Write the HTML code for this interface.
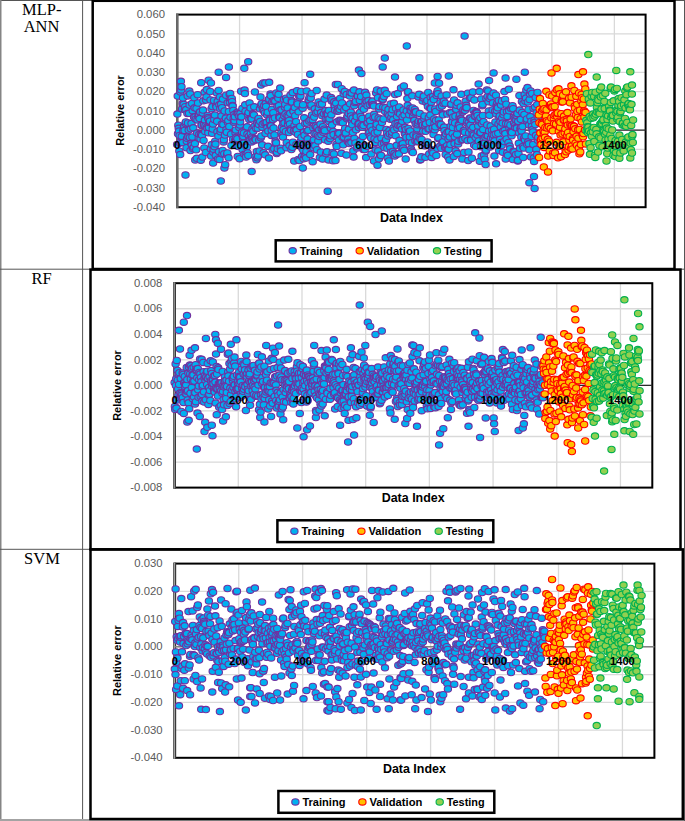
<!DOCTYPE html><html><head><meta charset="utf-8"><title>Relative error plots</title><style>html,body{margin:0;padding:0;background:#fff;width:685px;height:821px;overflow:hidden}body{position:relative;font-family:"Liberation Sans",sans-serif}</style></head><body><svg width="685" height="821" viewBox="0 0 685 821" style="position:absolute;left:0;top:0;display:block">
<style>.g{stroke:#d9d9d9;stroke-width:1.3;fill:none}.m0{fill:#00b0f0;stroke:#7030a0}.m1{fill:#ffc000;stroke:#ff0000}.m2{fill:#92d050;stroke:#00b050}.m0 ellipse,.m1 ellipse,.m2 ellipse{rx:3.65px;ry:3.2px;stroke-width:1.1}.yl{font:10.2px "Liberation Sans",sans-serif;fill:#595959;text-anchor:end}.xl{font:bold 11.2px "Liberation Sans",sans-serif;fill:#000;text-anchor:middle}.t{font:bold 11px "Liberation Sans",sans-serif;fill:#000}.lab{font:16.5px "Liberation Serif",serif;fill:#000;text-anchor:middle}</style>
<rect width="685" height="821" fill="#fff"/>
<g stroke="#555" stroke-width="1" fill="none">
<line x1="0" y1="0.5" x2="685" y2="0.5"/>
<line x1="0.75" y1="0" x2="0.75" y2="821" stroke="#858585" stroke-width="1.5"/>
<line x1="82.6" y1="0" x2="82.6" y2="821"/>
<line x1="0" y1="269.2" x2="685" y2="269.2"/>
<line x1="0" y1="549.3" x2="685" y2="549.3"/>
<line x1="0" y1="820" x2="685" y2="820" stroke="#a3a3a3" stroke-width="2"/>
<line x1="684.5" y1="0" x2="684.5" y2="821"/>
</g>
<text class="lab" x="41.7" y="14.9">MLP-</text>
<text class="lab" x="41.5" y="31.5">ANN</text>
<text class="lab" x="41.7" y="283.6">RF</text>
<text class="lab" x="42" y="563.7">SVM</text>
<g class="g">
<line x1="177.1" y1="33.86" x2="645.6" y2="33.86"/>
<line x1="177.1" y1="53.12" x2="645.6" y2="53.12"/>
<line x1="177.1" y1="72.38" x2="645.6" y2="72.38"/>
<line x1="177.1" y1="91.64" x2="645.6" y2="91.64"/>
<line x1="177.1" y1="110.90" x2="645.6" y2="110.90"/>
<line x1="177.1" y1="130.16" x2="645.6" y2="130.16"/>
<line x1="177.1" y1="149.42" x2="645.6" y2="149.42"/>
<line x1="177.1" y1="168.68" x2="645.6" y2="168.68"/>
<line x1="177.1" y1="187.94" x2="645.6" y2="187.94"/>
<line x1="239.57" y1="14.6" x2="239.57" y2="207.2"/>
<line x1="302.03" y1="14.6" x2="302.03" y2="207.2"/>
<line x1="364.50" y1="14.6" x2="364.50" y2="207.2"/>
<line x1="426.97" y1="14.6" x2="426.97" y2="207.2"/>
<line x1="489.43" y1="14.6" x2="489.43" y2="207.2"/>
<line x1="551.90" y1="14.6" x2="551.90" y2="207.2"/>
<line x1="614.37" y1="14.6" x2="614.37" y2="207.2"/>
</g>
<rect x="177.1" y="14.6" width="468.5" height="192.6" fill="none" stroke="#000" stroke-width="2"/>
<line x1="177.3" y1="13.6" x2="177.3" y2="208.2" stroke="#6a6a6a" stroke-width="2.5"/>
<line x1="177.1" y1="130.16" x2="645.6" y2="130.16" stroke="#2a2a2a" stroke-width="1.2"/>
<g class="m0">
<ellipse cx="177.1" cy="144.4"/><ellipse cx="177.4" cy="114.1"/><ellipse cx="177.7" cy="96.1"/><ellipse cx="178.0" cy="133.7"/><ellipse cx="178.3" cy="125.2"/><ellipse cx="178.7" cy="128.3"/><ellipse cx="179.0" cy="131.1"/><ellipse cx="179.3" cy="151.0"/><ellipse cx="179.6" cy="135.5"/><ellipse cx="179.9" cy="142.9"/><ellipse cx="180.2" cy="154.6"/><ellipse cx="180.5" cy="92.0"/><ellipse cx="180.8" cy="141.9"/><ellipse cx="180.9" cy="81.3"/><ellipse cx="181.2" cy="89.9"/><ellipse cx="181.5" cy="86.7"/><ellipse cx="181.8" cy="136.3"/><ellipse cx="182.1" cy="109.0"/><ellipse cx="182.4" cy="142.6"/><ellipse cx="182.7" cy="103.6"/><ellipse cx="183.0" cy="98.0"/><ellipse cx="183.3" cy="130.7"/><ellipse cx="183.7" cy="104.4"/><ellipse cx="184.0" cy="126.7"/><ellipse cx="184.3" cy="126.2"/><ellipse cx="184.6" cy="130.4"/><ellipse cx="184.9" cy="109.7"/><ellipse cx="185.2" cy="106.7"/><ellipse cx="185.5" cy="175.0"/><ellipse cx="185.5" cy="123.6"/><ellipse cx="185.8" cy="122.0"/><ellipse cx="186.2" cy="109.6"/><ellipse cx="186.5" cy="147.7"/><ellipse cx="186.8" cy="141.2"/><ellipse cx="187.1" cy="138.3"/><ellipse cx="187.4" cy="113.4"/><ellipse cx="187.7" cy="95.9"/><ellipse cx="188.0" cy="122.9"/><ellipse cx="188.3" cy="136.7"/><ellipse cx="188.7" cy="130.1"/><ellipse cx="189.0" cy="113.3"/><ellipse cx="189.3" cy="91.1"/><ellipse cx="189.6" cy="105.0"/><ellipse cx="189.9" cy="137.5"/><ellipse cx="190.2" cy="94.0"/><ellipse cx="190.5" cy="150.6"/><ellipse cx="190.8" cy="128.8"/><ellipse cx="191.2" cy="143.4"/><ellipse cx="191.5" cy="123.3"/><ellipse cx="191.8" cy="145.1"/><ellipse cx="192.1" cy="103.4"/><ellipse cx="192.4" cy="136.9"/><ellipse cx="192.7" cy="110.8"/><ellipse cx="193.0" cy="148.6"/><ellipse cx="193.3" cy="127.8"/><ellipse cx="193.7" cy="147.3"/><ellipse cx="194.0" cy="117.1"/><ellipse cx="194.3" cy="97.7"/><ellipse cx="194.6" cy="107.8"/><ellipse cx="194.9" cy="143.6"/><ellipse cx="195.2" cy="159.9"/><ellipse cx="195.5" cy="116.6"/><ellipse cx="195.8" cy="119.2"/><ellipse cx="196.2" cy="149.8"/><ellipse cx="196.5" cy="108.3"/><ellipse cx="196.8" cy="158.3"/><ellipse cx="197.1" cy="133.1"/><ellipse cx="197.4" cy="119.9"/><ellipse cx="197.7" cy="94.7"/><ellipse cx="198.0" cy="103.0"/><ellipse cx="198.3" cy="116.3"/><ellipse cx="198.7" cy="137.9"/><ellipse cx="199.0" cy="114.9"/><ellipse cx="199.3" cy="134.3"/><ellipse cx="199.6" cy="118.6"/><ellipse cx="199.9" cy="112.0"/><ellipse cx="200.2" cy="111.9"/><ellipse cx="200.5" cy="139.0"/><ellipse cx="200.8" cy="160.2"/><ellipse cx="201.1" cy="134.6"/><ellipse cx="201.2" cy="82.7"/><ellipse cx="201.5" cy="125.6"/><ellipse cx="201.8" cy="125.1"/><ellipse cx="202.1" cy="135.2"/><ellipse cx="202.4" cy="157.1"/><ellipse cx="202.7" cy="112.9"/><ellipse cx="203.0" cy="110.1"/><ellipse cx="203.3" cy="100.8"/><ellipse cx="203.6" cy="140.5"/><ellipse cx="204.0" cy="124.8"/><ellipse cx="204.3" cy="147.9"/><ellipse cx="204.6" cy="92.3"/><ellipse cx="204.9" cy="120.1"/><ellipse cx="205.2" cy="131.4"/><ellipse cx="205.5" cy="125.9"/><ellipse cx="205.8" cy="152.5"/><ellipse cx="206.1" cy="100.1"/><ellipse cx="206.5" cy="96.8"/><ellipse cx="206.8" cy="89.6"/><ellipse cx="207.1" cy="127.0"/><ellipse cx="207.4" cy="128.3"/><ellipse cx="207.7" cy="115.4"/><ellipse cx="208.0" cy="117.6"/><ellipse cx="208.3" cy="132.8"/><ellipse cx="208.6" cy="80.2"/><ellipse cx="208.6" cy="118.9"/><ellipse cx="209.0" cy="127.4"/><ellipse cx="209.3" cy="122.6"/><ellipse cx="209.6" cy="121.6"/><ellipse cx="209.9" cy="121.1"/><ellipse cx="210.2" cy="91.5"/><ellipse cx="210.5" cy="99.9"/><ellipse cx="210.8" cy="149.1"/><ellipse cx="211.0" cy="83.0"/><ellipse cx="211.1" cy="156.1"/><ellipse cx="211.5" cy="108.7"/><ellipse cx="211.8" cy="144.6"/><ellipse cx="212.1" cy="133.3"/><ellipse cx="212.4" cy="106.6"/><ellipse cx="212.7" cy="129.0"/><ellipse cx="213.0" cy="123.9"/><ellipse cx="213.1" cy="163.1"/><ellipse cx="213.3" cy="152.2"/><ellipse cx="213.6" cy="149.2"/><ellipse cx="214.0" cy="100.5"/><ellipse cx="214.3" cy="119.5"/><ellipse cx="214.6" cy="146.7"/><ellipse cx="214.9" cy="115.1"/><ellipse cx="215.2" cy="141.2"/><ellipse cx="215.5" cy="144.1"/><ellipse cx="215.8" cy="155.3"/><ellipse cx="216.1" cy="105.7"/><ellipse cx="216.5" cy="107.1"/><ellipse cx="216.8" cy="93.0"/><ellipse cx="217.1" cy="121.3"/><ellipse cx="217.4" cy="131.7"/><ellipse cx="217.7" cy="101.3"/><ellipse cx="218.0" cy="158.9"/><ellipse cx="218.3" cy="136.0"/><ellipse cx="218.6" cy="90.5"/><ellipse cx="218.7" cy="72.2"/><ellipse cx="219.0" cy="151.6"/><ellipse cx="219.3" cy="104.8"/><ellipse cx="219.6" cy="159.4"/><ellipse cx="219.9" cy="97.0"/><ellipse cx="220.2" cy="108.8"/><ellipse cx="220.5" cy="131.8"/><ellipse cx="220.8" cy="181.0"/><ellipse cx="220.8" cy="129.2"/><ellipse cx="221.1" cy="104.1"/><ellipse cx="221.5" cy="115.8"/><ellipse cx="221.8" cy="124.1"/><ellipse cx="222.1" cy="107.7"/><ellipse cx="222.4" cy="153.9"/><ellipse cx="222.7" cy="150.5"/><ellipse cx="223.0" cy="99.1"/><ellipse cx="223.3" cy="124.5"/><ellipse cx="223.6" cy="141.9"/><ellipse cx="223.9" cy="139.7"/><ellipse cx="224.3" cy="153.7"/><ellipse cx="224.4" cy="168.0"/><ellipse cx="224.6" cy="111.0"/><ellipse cx="224.9" cy="135.1"/><ellipse cx="225.2" cy="164.7"/><ellipse cx="225.5" cy="119.6"/><ellipse cx="225.8" cy="118.1"/><ellipse cx="226.1" cy="77.4"/><ellipse cx="226.1" cy="95.2"/><ellipse cx="226.4" cy="129.6"/><ellipse cx="226.8" cy="132.2"/><ellipse cx="227.1" cy="154.8"/><ellipse cx="227.4" cy="152.9"/><ellipse cx="227.7" cy="102.7"/><ellipse cx="228.0" cy="122.8"/><ellipse cx="228.3" cy="120.6"/><ellipse cx="228.6" cy="157.8"/><ellipse cx="228.9" cy="66.9"/><ellipse cx="228.9" cy="111.4"/><ellipse cx="229.3" cy="126.5"/><ellipse cx="229.6" cy="94.3"/><ellipse cx="229.9" cy="102.3"/><ellipse cx="230.2" cy="93.5"/><ellipse cx="230.5" cy="117.3"/><ellipse cx="230.8" cy="98.8"/><ellipse cx="231.1" cy="134.2"/><ellipse cx="231.4" cy="145.4"/><ellipse cx="231.8" cy="98.5"/><ellipse cx="232.1" cy="101.7"/><ellipse cx="232.4" cy="105.5"/><ellipse cx="232.7" cy="106.1"/><ellipse cx="233.0" cy="139.4"/><ellipse cx="233.3" cy="110.4"/><ellipse cx="233.6" cy="118.2"/><ellipse cx="233.9" cy="122.3"/><ellipse cx="234.3" cy="114.5"/><ellipse cx="234.6" cy="120.7"/><ellipse cx="234.9" cy="116.7"/><ellipse cx="235.2" cy="140.0"/><ellipse cx="235.5" cy="132.7"/><ellipse cx="235.8" cy="129.9"/><ellipse cx="236.1" cy="140.3"/><ellipse cx="236.4" cy="137.3"/><ellipse cx="236.8" cy="112.7"/><ellipse cx="237.1" cy="145.8"/><ellipse cx="237.4" cy="138.6"/><ellipse cx="237.7" cy="156.4"/><ellipse cx="238.0" cy="112.2"/><ellipse cx="238.3" cy="113.8"/><ellipse cx="238.6" cy="146.5"/><ellipse cx="238.9" cy="115.9"/><ellipse cx="239.3" cy="127.5"/><ellipse cx="239.6" cy="158.7"/><ellipse cx="239.9" cy="124.9"/><ellipse cx="240.2" cy="121.8"/><ellipse cx="240.5" cy="113.5"/><ellipse cx="240.8" cy="117.1"/><ellipse cx="241.1" cy="91.2"/><ellipse cx="241.4" cy="116.8"/><ellipse cx="241.8" cy="134.6"/><ellipse cx="242.1" cy="132.1"/><ellipse cx="242.4" cy="108.5"/><ellipse cx="242.7" cy="149.7"/><ellipse cx="243.0" cy="138.1"/><ellipse cx="243.3" cy="136.6"/><ellipse cx="243.6" cy="143.2"/><ellipse cx="243.9" cy="133.0"/><ellipse cx="244.3" cy="154.3"/><ellipse cx="244.3" cy="68.3"/><ellipse cx="244.6" cy="90.1"/><ellipse cx="244.9" cy="93.6"/><ellipse cx="245.2" cy="104.8"/><ellipse cx="245.5" cy="111.2"/><ellipse cx="245.8" cy="154.8"/><ellipse cx="246.1" cy="157.0"/><ellipse cx="246.4" cy="145.9"/><ellipse cx="246.8" cy="146.9"/><ellipse cx="247.1" cy="126.8"/><ellipse cx="247.4" cy="134.1"/><ellipse cx="247.7" cy="153.0"/><ellipse cx="248.0" cy="114.5"/><ellipse cx="248.2" cy="61.7"/><ellipse cx="248.3" cy="155.5"/><ellipse cx="248.6" cy="112.4"/><ellipse cx="248.9" cy="136.2"/><ellipse cx="249.2" cy="119.6"/><ellipse cx="249.6" cy="103.0"/><ellipse cx="249.9" cy="139.3"/><ellipse cx="250.2" cy="140.3"/><ellipse cx="250.5" cy="108.0"/><ellipse cx="250.8" cy="133.7"/><ellipse cx="251.1" cy="118.5"/><ellipse cx="251.4" cy="141.9"/><ellipse cx="251.7" cy="171.5"/><ellipse cx="251.7" cy="118.8"/><ellipse cx="252.1" cy="136.9"/><ellipse cx="252.4" cy="129.0"/><ellipse cx="252.7" cy="138.7"/><ellipse cx="253.0" cy="113.8"/><ellipse cx="253.3" cy="131.2"/><ellipse cx="253.6" cy="140.7"/><ellipse cx="253.9" cy="114.8"/><ellipse cx="254.2" cy="106.8"/><ellipse cx="254.6" cy="126.1"/><ellipse cx="254.9" cy="92.0"/><ellipse cx="255.2" cy="138.8"/><ellipse cx="255.5" cy="156.7"/><ellipse cx="255.8" cy="139.7"/><ellipse cx="256.1" cy="128.4"/><ellipse cx="256.4" cy="159.8"/><ellipse cx="256.7" cy="151.6"/><ellipse cx="257.1" cy="122.5"/><ellipse cx="257.4" cy="157.8"/><ellipse cx="257.7" cy="128.2"/><ellipse cx="258.0" cy="156.1"/><ellipse cx="258.3" cy="120.7"/><ellipse cx="258.6" cy="118.4"/><ellipse cx="258.9" cy="124.5"/><ellipse cx="259.2" cy="139.9"/><ellipse cx="259.6" cy="151.0"/><ellipse cx="259.9" cy="108.8"/><ellipse cx="260.2" cy="121.4"/><ellipse cx="260.5" cy="97.0"/><ellipse cx="260.8" cy="137.8"/><ellipse cx="261.1" cy="85.1"/><ellipse cx="261.1" cy="105.2"/><ellipse cx="261.4" cy="135.9"/><ellipse cx="261.7" cy="103.7"/><ellipse cx="262.1" cy="144.8"/><ellipse cx="262.4" cy="127.2"/><ellipse cx="262.7" cy="124.2"/><ellipse cx="263.0" cy="109.5"/><ellipse cx="263.3" cy="83.0"/><ellipse cx="263.6" cy="152.7"/><ellipse cx="263.9" cy="110.9"/><ellipse cx="264.2" cy="105.4"/><ellipse cx="264.6" cy="123.0"/><ellipse cx="264.9" cy="113.0"/><ellipse cx="265.2" cy="154.8"/><ellipse cx="265.3" cy="83.0"/><ellipse cx="265.5" cy="133.5"/><ellipse cx="265.8" cy="103.3"/><ellipse cx="266.1" cy="106.5"/><ellipse cx="266.4" cy="123.2"/><ellipse cx="266.7" cy="122.2"/><ellipse cx="267.1" cy="115.0"/><ellipse cx="267.4" cy="127.6"/><ellipse cx="267.7" cy="112.2"/><ellipse cx="268.0" cy="146.3"/><ellipse cx="268.3" cy="131.0"/><ellipse cx="268.6" cy="99.7"/><ellipse cx="268.9" cy="158.1"/><ellipse cx="269.2" cy="82.3"/><ellipse cx="269.2" cy="98.9"/><ellipse cx="269.6" cy="119.1"/><ellipse cx="269.9" cy="120.2"/><ellipse cx="270.2" cy="125.2"/><ellipse cx="270.5" cy="94.0"/><ellipse cx="270.8" cy="95.6"/><ellipse cx="271.1" cy="125.8"/><ellipse cx="271.4" cy="135.4"/><ellipse cx="271.7" cy="130.3"/><ellipse cx="272.0" cy="109.3"/><ellipse cx="272.4" cy="101.6"/><ellipse cx="272.7" cy="150.1"/><ellipse cx="273.0" cy="119.5"/><ellipse cx="273.3" cy="112.7"/><ellipse cx="273.6" cy="127.9"/><ellipse cx="273.9" cy="100.5"/><ellipse cx="274.2" cy="148.7"/><ellipse cx="274.5" cy="134.9"/><ellipse cx="274.9" cy="118.0"/><ellipse cx="275.2" cy="101.1"/><ellipse cx="275.5" cy="141.2"/><ellipse cx="275.8" cy="143.4"/><ellipse cx="276.1" cy="142.8"/><ellipse cx="276.4" cy="92.9"/><ellipse cx="276.7" cy="153.5"/><ellipse cx="277.0" cy="152.3"/><ellipse cx="277.4" cy="106.2"/><ellipse cx="277.7" cy="148.8"/><ellipse cx="278.0" cy="96.9"/><ellipse cx="278.3" cy="98.3"/><ellipse cx="278.6" cy="94.3"/><ellipse cx="278.9" cy="105.7"/><ellipse cx="279.2" cy="117.3"/><ellipse cx="279.5" cy="116.5"/><ellipse cx="279.9" cy="117.6"/><ellipse cx="280.2" cy="88.1"/><ellipse cx="280.5" cy="109.8"/><ellipse cx="280.8" cy="148.2"/><ellipse cx="281.1" cy="150.8"/><ellipse cx="281.4" cy="132.7"/><ellipse cx="281.7" cy="110.0"/><ellipse cx="282.0" cy="126.9"/><ellipse cx="282.4" cy="135.5"/><ellipse cx="282.7" cy="119.9"/><ellipse cx="283.0" cy="137.1"/><ellipse cx="283.3" cy="123.6"/><ellipse cx="283.6" cy="129.5"/><ellipse cx="283.9" cy="99.5"/><ellipse cx="284.2" cy="115.8"/><ellipse cx="284.5" cy="122.8"/><ellipse cx="284.9" cy="107.2"/><ellipse cx="285.2" cy="104.4"/><ellipse cx="285.5" cy="114.0"/><ellipse cx="285.8" cy="131.5"/><ellipse cx="286.1" cy="98.2"/><ellipse cx="286.4" cy="147.8"/><ellipse cx="286.7" cy="142.4"/><ellipse cx="287.0" cy="100.2"/><ellipse cx="287.4" cy="115.4"/><ellipse cx="287.7" cy="107.9"/><ellipse cx="288.0" cy="124.7"/><ellipse cx="288.3" cy="121.1"/><ellipse cx="288.6" cy="116.2"/><ellipse cx="288.9" cy="132.6"/><ellipse cx="289.2" cy="120.4"/><ellipse cx="289.5" cy="145.6"/><ellipse cx="289.9" cy="123.9"/><ellipse cx="290.2" cy="113.3"/><ellipse cx="290.5" cy="95.1"/><ellipse cx="290.8" cy="128.8"/><ellipse cx="291.1" cy="130.3"/><ellipse cx="291.4" cy="149.6"/><ellipse cx="291.7" cy="100.7"/><ellipse cx="292.0" cy="102.1"/><ellipse cx="292.4" cy="147.3"/><ellipse cx="292.7" cy="92.6"/><ellipse cx="293.0" cy="142.2"/><ellipse cx="293.3" cy="110.5"/><ellipse cx="293.6" cy="111.4"/><ellipse cx="293.9" cy="130.8"/><ellipse cx="294.2" cy="161.1"/><ellipse cx="294.5" cy="125.5"/><ellipse cx="294.8" cy="107.6"/><ellipse cx="295.2" cy="115.7"/><ellipse cx="295.5" cy="132.3"/><ellipse cx="295.8" cy="129.3"/><ellipse cx="296.1" cy="121.7"/><ellipse cx="296.4" cy="144.4"/><ellipse cx="296.7" cy="129.8"/><ellipse cx="297.0" cy="90.7"/><ellipse cx="297.3" cy="102.5"/><ellipse cx="297.7" cy="103.9"/><ellipse cx="298.0" cy="134.5"/><ellipse cx="298.3" cy="159.4"/><ellipse cx="298.6" cy="111.8"/><ellipse cx="298.9" cy="145.2"/><ellipse cx="299.2" cy="96.1"/><ellipse cx="299.5" cy="160.5"/><ellipse cx="299.8" cy="97.6"/><ellipse cx="300.2" cy="126.4"/><ellipse cx="300.5" cy="95.9"/><ellipse cx="300.8" cy="141.2"/><ellipse cx="301.1" cy="91.4"/><ellipse cx="301.4" cy="137.4"/><ellipse cx="301.7" cy="143.9"/><ellipse cx="302.0" cy="156.4"/><ellipse cx="302.3" cy="148.6"/><ellipse cx="302.7" cy="108.2"/><ellipse cx="302.8" cy="168.0"/><ellipse cx="303.0" cy="104.7"/><ellipse cx="303.3" cy="150.2"/><ellipse cx="303.6" cy="158.8"/><ellipse cx="303.9" cy="132.1"/><ellipse cx="304.2" cy="117.8"/><ellipse cx="304.5" cy="135.2"/><ellipse cx="304.6" cy="82.7"/><ellipse cx="304.8" cy="155.6"/><ellipse cx="305.2" cy="123.5"/><ellipse cx="305.5" cy="156.1"/><ellipse cx="305.8" cy="145.2"/><ellipse cx="306.1" cy="158.0"/><ellipse cx="306.4" cy="151.4"/><ellipse cx="306.7" cy="90.9"/><ellipse cx="307.0" cy="123.1"/><ellipse cx="307.3" cy="130.9"/><ellipse cx="307.7" cy="138.8"/><ellipse cx="308.0" cy="144.1"/><ellipse cx="308.3" cy="130.3"/><ellipse cx="308.6" cy="100.3"/><ellipse cx="308.9" cy="99.8"/><ellipse cx="309.2" cy="120.9"/><ellipse cx="309.5" cy="97.2"/><ellipse cx="309.8" cy="147.1"/><ellipse cx="310.2" cy="154.6"/><ellipse cx="310.2" cy="74.3"/><ellipse cx="310.5" cy="119.8"/><ellipse cx="310.8" cy="98.0"/><ellipse cx="311.1" cy="106.8"/><ellipse cx="311.4" cy="105.0"/><ellipse cx="311.7" cy="93.5"/><ellipse cx="312.0" cy="115.0"/><ellipse cx="312.3" cy="142.8"/><ellipse cx="312.7" cy="119.7"/><ellipse cx="312.7" cy="161.7"/><ellipse cx="313.0" cy="146.1"/><ellipse cx="313.3" cy="127.9"/><ellipse cx="313.6" cy="147.7"/><ellipse cx="313.9" cy="139.8"/><ellipse cx="314.2" cy="117.0"/><ellipse cx="314.5" cy="133.6"/><ellipse cx="314.8" cy="108.8"/><ellipse cx="315.2" cy="145.7"/><ellipse cx="315.5" cy="126.5"/><ellipse cx="315.8" cy="125.8"/><ellipse cx="316.1" cy="112.9"/><ellipse cx="316.4" cy="134.2"/><ellipse cx="316.7" cy="90.5"/><ellipse cx="317.0" cy="149.7"/><ellipse cx="317.3" cy="127.1"/><ellipse cx="317.6" cy="111.8"/><ellipse cx="318.0" cy="135.7"/><ellipse cx="318.3" cy="140.9"/><ellipse cx="318.6" cy="102.0"/><ellipse cx="318.9" cy="108.0"/><ellipse cx="319.2" cy="129.8"/><ellipse cx="319.5" cy="136.4"/><ellipse cx="319.8" cy="157.6"/><ellipse cx="320.1" cy="104.5"/><ellipse cx="320.5" cy="124.1"/><ellipse cx="320.8" cy="152.1"/><ellipse cx="321.1" cy="112.6"/><ellipse cx="321.4" cy="134.8"/><ellipse cx="321.7" cy="128.8"/><ellipse cx="322.0" cy="104.0"/><ellipse cx="322.3" cy="115.7"/><ellipse cx="322.6" cy="159.0"/><ellipse cx="323.0" cy="126.7"/><ellipse cx="323.3" cy="132.2"/><ellipse cx="323.6" cy="130.3"/><ellipse cx="323.9" cy="113.7"/><ellipse cx="324.2" cy="129.2"/><ellipse cx="324.5" cy="99.1"/><ellipse cx="324.8" cy="130.7"/><ellipse cx="325.1" cy="139.7"/><ellipse cx="325.5" cy="110.6"/><ellipse cx="325.8" cy="119.2"/><ellipse cx="326.1" cy="153.6"/><ellipse cx="326.4" cy="114.1"/><ellipse cx="326.7" cy="95.1"/><ellipse cx="327.0" cy="151.8"/><ellipse cx="327.3" cy="113.3"/><ellipse cx="327.6" cy="119.3"/><ellipse cx="327.7" cy="191.2"/><ellipse cx="328.0" cy="114.5"/><ellipse cx="328.3" cy="141.2"/><ellipse cx="328.6" cy="159.9"/><ellipse cx="328.9" cy="110.5"/><ellipse cx="329.2" cy="121.5"/><ellipse cx="329.5" cy="118.7"/><ellipse cx="329.8" cy="137.9"/><ellipse cx="330.1" cy="138.6"/><ellipse cx="330.5" cy="135.8"/><ellipse cx="330.8" cy="128.3"/><ellipse cx="331.1" cy="97.6"/><ellipse cx="331.4" cy="114.7"/><ellipse cx="331.7" cy="100.9"/><ellipse cx="332.0" cy="125.1"/><ellipse cx="332.3" cy="99.4"/><ellipse cx="332.6" cy="152.7"/><ellipse cx="333.0" cy="160.8"/><ellipse cx="333.3" cy="131.5"/><ellipse cx="333.6" cy="134.6"/><ellipse cx="333.9" cy="153.9"/><ellipse cx="334.2" cy="101.8"/><ellipse cx="334.5" cy="105.4"/><ellipse cx="334.8" cy="106.0"/><ellipse cx="335.1" cy="110.2"/><ellipse cx="335.5" cy="160.5"/><ellipse cx="335.8" cy="84.5"/><ellipse cx="336.1" cy="103.1"/><ellipse cx="336.4" cy="144.2"/><ellipse cx="336.7" cy="146.4"/><ellipse cx="337.0" cy="121.8"/><ellipse cx="337.3" cy="111.3"/><ellipse cx="337.6" cy="137.5"/><ellipse cx="337.9" cy="84.4"/><ellipse cx="338.0" cy="133.1"/><ellipse cx="338.3" cy="108.6"/><ellipse cx="338.6" cy="111.0"/><ellipse cx="338.9" cy="140.2"/><ellipse cx="339.2" cy="133.3"/><ellipse cx="339.5" cy="120.2"/><ellipse cx="339.8" cy="109.5"/><ellipse cx="340.1" cy="98.5"/><ellipse cx="340.5" cy="122.1"/><ellipse cx="340.8" cy="120.6"/><ellipse cx="341.1" cy="106.4"/><ellipse cx="341.4" cy="153.3"/><ellipse cx="341.7" cy="88.7"/><ellipse cx="342.0" cy="102.9"/><ellipse cx="342.3" cy="121.4"/><ellipse cx="342.6" cy="137.2"/><ellipse cx="342.9" cy="122.7"/><ellipse cx="343.3" cy="144.8"/><ellipse cx="343.6" cy="93.8"/><ellipse cx="343.9" cy="136.9"/><ellipse cx="344.2" cy="109.9"/><ellipse cx="344.5" cy="131.6"/><ellipse cx="344.8" cy="91.5"/><ellipse cx="345.1" cy="128.4"/><ellipse cx="345.4" cy="133.9"/><ellipse cx="345.8" cy="132.9"/><ellipse cx="346.1" cy="107.6"/><ellipse cx="346.4" cy="155.0"/><ellipse cx="346.7" cy="94.5"/><ellipse cx="347.0" cy="118.7"/><ellipse cx="347.3" cy="117.3"/><ellipse cx="347.6" cy="116.1"/><ellipse cx="347.9" cy="141.7"/><ellipse cx="348.3" cy="139.1"/><ellipse cx="348.6" cy="113.6"/><ellipse cx="348.9" cy="129.1"/><ellipse cx="349.2" cy="142.2"/><ellipse cx="349.5" cy="143.6"/><ellipse cx="349.8" cy="96.0"/><ellipse cx="350.1" cy="103.8"/><ellipse cx="350.4" cy="92.5"/><ellipse cx="350.8" cy="112.1"/><ellipse cx="351.1" cy="116.0"/><ellipse cx="351.4" cy="142.6"/><ellipse cx="351.7" cy="93.1"/><ellipse cx="352.0" cy="122.5"/><ellipse cx="352.3" cy="124.7"/><ellipse cx="352.6" cy="118.1"/><ellipse cx="352.9" cy="132.6"/><ellipse cx="353.3" cy="150.8"/><ellipse cx="353.6" cy="157.1"/><ellipse cx="353.9" cy="90.1"/><ellipse cx="354.2" cy="105.7"/><ellipse cx="354.5" cy="138.4"/><ellipse cx="354.8" cy="102.5"/><ellipse cx="355.1" cy="121.0"/><ellipse cx="355.4" cy="143.0"/><ellipse cx="355.8" cy="101.4"/><ellipse cx="356.1" cy="129.7"/><ellipse cx="356.4" cy="115.3"/><ellipse cx="356.7" cy="116.7"/><ellipse cx="357.0" cy="148.1"/><ellipse cx="357.3" cy="146.7"/><ellipse cx="357.6" cy="95.4"/><ellipse cx="357.9" cy="96.2"/><ellipse cx="358.3" cy="124.4"/><ellipse cx="358.6" cy="123.4"/><ellipse cx="358.9" cy="127.6"/><ellipse cx="358.9" cy="70.1"/><ellipse cx="359.2" cy="124.0"/><ellipse cx="359.5" cy="91.8"/><ellipse cx="359.8" cy="100.4"/><ellipse cx="360.1" cy="112.3"/><ellipse cx="360.4" cy="140.6"/><ellipse cx="360.8" cy="116.5"/><ellipse cx="361.1" cy="96.5"/><ellipse cx="361.4" cy="126.2"/><ellipse cx="361.4" cy="73.6"/><ellipse cx="361.7" cy="125.4"/><ellipse cx="362.0" cy="107.1"/><ellipse cx="362.3" cy="118.4"/><ellipse cx="362.6" cy="127.3"/><ellipse cx="362.9" cy="136.4"/><ellipse cx="363.3" cy="149.4"/><ellipse cx="363.6" cy="125.4"/><ellipse cx="363.9" cy="109.2"/><ellipse cx="364.2" cy="148.7"/><ellipse cx="364.5" cy="146.1"/><ellipse cx="364.8" cy="149.5"/><ellipse cx="365.1" cy="92.3"/><ellipse cx="365.4" cy="103.6"/><ellipse cx="365.7" cy="100.1"/><ellipse cx="366.1" cy="157.6"/><ellipse cx="366.4" cy="95.1"/><ellipse cx="366.7" cy="101.7"/><ellipse cx="367.0" cy="146.3"/><ellipse cx="367.3" cy="122.9"/><ellipse cx="367.6" cy="105.7"/><ellipse cx="367.9" cy="122.2"/><ellipse cx="368.2" cy="118.3"/><ellipse cx="368.6" cy="100.6"/><ellipse cx="368.9" cy="133.3"/><ellipse cx="369.2" cy="116.2"/><ellipse cx="369.5" cy="132.5"/><ellipse cx="369.8" cy="104.4"/><ellipse cx="370.1" cy="120.8"/><ellipse cx="370.4" cy="136.1"/><ellipse cx="370.7" cy="126.7"/><ellipse cx="371.1" cy="138.0"/><ellipse cx="371.4" cy="153.9"/><ellipse cx="371.7" cy="102.9"/><ellipse cx="372.0" cy="102.0"/><ellipse cx="372.3" cy="130.2"/><ellipse cx="372.6" cy="101.1"/><ellipse cx="372.9" cy="104.8"/><ellipse cx="373.2" cy="105.0"/><ellipse cx="373.6" cy="117.6"/><ellipse cx="373.9" cy="106.1"/><ellipse cx="374.0" cy="161.0"/><ellipse cx="374.2" cy="114.3"/><ellipse cx="374.5" cy="138.7"/><ellipse cx="374.8" cy="133.0"/><ellipse cx="375.1" cy="117.0"/><ellipse cx="375.4" cy="142.4"/><ellipse cx="375.7" cy="149.8"/><ellipse cx="376.1" cy="93.0"/><ellipse cx="376.4" cy="127.1"/><ellipse cx="376.7" cy="124.5"/><ellipse cx="377.0" cy="89.9"/><ellipse cx="377.3" cy="139.8"/><ellipse cx="377.5" cy="165.2"/><ellipse cx="377.6" cy="132.1"/><ellipse cx="377.9" cy="97.7"/><ellipse cx="378.2" cy="150.8"/><ellipse cx="378.6" cy="118.0"/><ellipse cx="378.9" cy="158.8"/><ellipse cx="379.2" cy="108.9"/><ellipse cx="379.5" cy="106.6"/><ellipse cx="379.8" cy="127.5"/><ellipse cx="380.1" cy="155.0"/><ellipse cx="380.4" cy="119.2"/><ellipse cx="380.7" cy="91.1"/><ellipse cx="381.1" cy="155.4"/><ellipse cx="381.4" cy="138.2"/><ellipse cx="381.7" cy="144.0"/><ellipse cx="382.0" cy="122.4"/><ellipse cx="382.3" cy="99.5"/><ellipse cx="382.6" cy="99.8"/><ellipse cx="382.7" cy="66.9"/><ellipse cx="382.9" cy="99.0"/><ellipse cx="383.2" cy="107.1"/><ellipse cx="383.6" cy="119.0"/><ellipse cx="383.9" cy="96.6"/><ellipse cx="384.2" cy="143.2"/><ellipse cx="384.5" cy="147.8"/><ellipse cx="384.8" cy="58.1"/><ellipse cx="384.8" cy="90.3"/><ellipse cx="385.1" cy="111.5"/><ellipse cx="385.4" cy="107.7"/><ellipse cx="385.7" cy="140.8"/><ellipse cx="386.1" cy="139.4"/><ellipse cx="386.4" cy="129.4"/><ellipse cx="386.7" cy="93.7"/><ellipse cx="387.0" cy="132.9"/><ellipse cx="387.3" cy="148.3"/><ellipse cx="387.6" cy="158.1"/><ellipse cx="387.9" cy="114.0"/><ellipse cx="388.2" cy="135.9"/><ellipse cx="388.5" cy="109.3"/><ellipse cx="388.9" cy="161.0"/><ellipse cx="389.2" cy="115.5"/><ellipse cx="389.5" cy="130.5"/><ellipse cx="389.8" cy="133.9"/><ellipse cx="390.1" cy="146.7"/><ellipse cx="390.4" cy="119.3"/><ellipse cx="390.7" cy="104.0"/><ellipse cx="391.0" cy="152.2"/><ellipse cx="391.4" cy="117.4"/><ellipse cx="391.7" cy="113.2"/><ellipse cx="392.0" cy="134.6"/><ellipse cx="392.3" cy="132.3"/><ellipse cx="392.6" cy="109.7"/><ellipse cx="392.9" cy="151.5"/><ellipse cx="393.2" cy="119.7"/><ellipse cx="393.5" cy="127.7"/><ellipse cx="393.9" cy="103.3"/><ellipse cx="394.2" cy="129.9"/><ellipse cx="394.5" cy="153.3"/><ellipse cx="394.8" cy="156.1"/><ellipse cx="395.0" cy="77.1"/><ellipse cx="395.1" cy="94.6"/><ellipse cx="395.4" cy="123.6"/><ellipse cx="395.7" cy="135.7"/><ellipse cx="396.0" cy="108.5"/><ellipse cx="396.4" cy="154.5"/><ellipse cx="396.7" cy="145.3"/><ellipse cx="397.0" cy="116.5"/><ellipse cx="397.3" cy="128.1"/><ellipse cx="397.6" cy="123.4"/><ellipse cx="397.9" cy="93.6"/><ellipse cx="398.2" cy="112.5"/><ellipse cx="398.5" cy="125.6"/><ellipse cx="398.9" cy="153.8"/><ellipse cx="399.2" cy="107.0"/><ellipse cx="399.5" cy="140.3"/><ellipse cx="399.8" cy="112.7"/><ellipse cx="400.1" cy="114.0"/><ellipse cx="400.4" cy="126.1"/><ellipse cx="400.7" cy="126.4"/><ellipse cx="401.0" cy="87.9"/><ellipse cx="401.4" cy="147.1"/><ellipse cx="401.7" cy="144.6"/><ellipse cx="402.0" cy="129.1"/><ellipse cx="402.3" cy="121.3"/><ellipse cx="402.6" cy="116.7"/><ellipse cx="402.9" cy="143.7"/><ellipse cx="403.2" cy="148.1"/><ellipse cx="403.5" cy="110.0"/><ellipse cx="403.9" cy="85.9"/><ellipse cx="404.2" cy="150.3"/><ellipse cx="404.5" cy="115.1"/><ellipse cx="404.8" cy="133.6"/><ellipse cx="405.1" cy="127.3"/><ellipse cx="405.4" cy="134.3"/><ellipse cx="405.7" cy="159.0"/><ellipse cx="406.0" cy="129.5"/><ellipse cx="406.4" cy="137.2"/><ellipse cx="406.7" cy="110.9"/><ellipse cx="406.8" cy="46.0"/><ellipse cx="407.0" cy="120.0"/><ellipse cx="407.3" cy="98.6"/><ellipse cx="407.6" cy="105.3"/><ellipse cx="407.9" cy="92.2"/><ellipse cx="408.2" cy="91.7"/><ellipse cx="408.5" cy="128.4"/><ellipse cx="408.9" cy="131.7"/><ellipse cx="409.2" cy="114.7"/><ellipse cx="409.5" cy="142.1"/><ellipse cx="409.8" cy="136.9"/><ellipse cx="410.1" cy="130.9"/><ellipse cx="410.4" cy="108.2"/><ellipse cx="410.7" cy="110.5"/><ellipse cx="411.0" cy="148.8"/><ellipse cx="411.4" cy="111.2"/><ellipse cx="411.7" cy="151.1"/><ellipse cx="412.0" cy="142.7"/><ellipse cx="412.3" cy="95.8"/><ellipse cx="412.6" cy="107.9"/><ellipse cx="412.9" cy="152.5"/><ellipse cx="413.2" cy="115.7"/><ellipse cx="413.5" cy="135.0"/><ellipse cx="413.8" cy="112.8"/><ellipse cx="414.2" cy="120.2"/><ellipse cx="414.5" cy="120.5"/><ellipse cx="414.8" cy="109.5"/><ellipse cx="415.1" cy="111.8"/><ellipse cx="415.4" cy="140.9"/><ellipse cx="415.7" cy="124.0"/><ellipse cx="416.0" cy="112.0"/><ellipse cx="416.3" cy="135.2"/><ellipse cx="416.7" cy="136.7"/><ellipse cx="417.0" cy="141.7"/><ellipse cx="417.3" cy="128.7"/><ellipse cx="417.6" cy="124.7"/><ellipse cx="417.9" cy="123.1"/><ellipse cx="418.2" cy="141.5"/><ellipse cx="418.5" cy="96.9"/><ellipse cx="418.8" cy="121.2"/><ellipse cx="419.2" cy="94.3"/><ellipse cx="419.4" cy="77.8"/><ellipse cx="419.5" cy="137.5"/><ellipse cx="419.8" cy="113.4"/><ellipse cx="420.1" cy="160.1"/><ellipse cx="420.4" cy="139.0"/><ellipse cx="420.7" cy="159.5"/><ellipse cx="421.0" cy="121.8"/><ellipse cx="421.3" cy="156.8"/><ellipse cx="421.7" cy="139.5"/><ellipse cx="422.0" cy="121.5"/><ellipse cx="422.3" cy="125.7"/><ellipse cx="422.6" cy="101.1"/><ellipse cx="422.9" cy="125.0"/><ellipse cx="423.2" cy="131.1"/><ellipse cx="423.5" cy="98.0"/><ellipse cx="423.8" cy="96.1"/><ellipse cx="424.2" cy="118.5"/><ellipse cx="424.5" cy="115.9"/><ellipse cx="424.8" cy="145.7"/><ellipse cx="425.1" cy="125.3"/><ellipse cx="425.4" cy="157.3"/><ellipse cx="425.7" cy="131.3"/><ellipse cx="426.0" cy="123.8"/><ellipse cx="426.3" cy="102.5"/><ellipse cx="426.7" cy="144.5"/><ellipse cx="427.0" cy="144.3"/><ellipse cx="427.3" cy="100.5"/><ellipse cx="427.6" cy="141.9"/><ellipse cx="427.9" cy="106.6"/><ellipse cx="428.2" cy="92.5"/><ellipse cx="428.5" cy="128.9"/><ellipse cx="428.8" cy="117.4"/><ellipse cx="429.2" cy="154.0"/><ellipse cx="429.5" cy="128.7"/><ellipse cx="429.8" cy="122.4"/><ellipse cx="430.1" cy="108.3"/><ellipse cx="430.4" cy="114.9"/><ellipse cx="430.7" cy="97.3"/><ellipse cx="431.0" cy="108.7"/><ellipse cx="431.3" cy="102.2"/><ellipse cx="431.7" cy="157.4"/><ellipse cx="432.0" cy="150.0"/><ellipse cx="432.3" cy="151.6"/><ellipse cx="432.6" cy="128.1"/><ellipse cx="432.9" cy="96.4"/><ellipse cx="433.2" cy="153.0"/><ellipse cx="433.5" cy="134.6"/><ellipse cx="433.8" cy="99.5"/><ellipse cx="434.2" cy="119.0"/><ellipse cx="434.5" cy="123.4"/><ellipse cx="434.8" cy="129.7"/><ellipse cx="434.8" cy="83.0"/><ellipse cx="435.1" cy="108.9"/><ellipse cx="435.4" cy="126.8"/><ellipse cx="435.7" cy="111.4"/><ellipse cx="436.0" cy="120.5"/><ellipse cx="436.3" cy="155.4"/><ellipse cx="436.6" cy="95.4"/><ellipse cx="437.0" cy="93.0"/><ellipse cx="437.3" cy="148.3"/><ellipse cx="437.6" cy="90.7"/><ellipse cx="437.6" cy="76.4"/><ellipse cx="437.9" cy="93.7"/><ellipse cx="438.2" cy="138.4"/><ellipse cx="438.5" cy="137.8"/><ellipse cx="438.8" cy="119.9"/><ellipse cx="439.1" cy="83.2"/><ellipse cx="439.5" cy="123.8"/><ellipse cx="439.8" cy="107.2"/><ellipse cx="440.1" cy="146.1"/><ellipse cx="440.4" cy="102.7"/><ellipse cx="440.7" cy="125.4"/><ellipse cx="441.0" cy="124.5"/><ellipse cx="441.3" cy="148.3"/><ellipse cx="441.6" cy="95.9"/><ellipse cx="442.0" cy="106.1"/><ellipse cx="442.3" cy="142.5"/><ellipse cx="442.6" cy="113.8"/><ellipse cx="442.9" cy="114.8"/><ellipse cx="443.2" cy="141.7"/><ellipse cx="443.5" cy="103.5"/><ellipse cx="443.8" cy="101.1"/><ellipse cx="444.1" cy="127.1"/><ellipse cx="444.5" cy="130.7"/><ellipse cx="444.8" cy="136.1"/><ellipse cx="445.1" cy="147.4"/><ellipse cx="445.4" cy="103.2"/><ellipse cx="445.7" cy="154.4"/><ellipse cx="446.0" cy="134.0"/><ellipse cx="446.3" cy="147.7"/><ellipse cx="446.6" cy="94.9"/><ellipse cx="447.0" cy="145.7"/><ellipse cx="447.3" cy="114.1"/><ellipse cx="447.6" cy="132.1"/><ellipse cx="447.9" cy="149.1"/><ellipse cx="448.2" cy="156.9"/><ellipse cx="448.5" cy="139.0"/><ellipse cx="448.8" cy="76.0"/><ellipse cx="448.8" cy="149.3"/><ellipse cx="449.1" cy="131.7"/><ellipse cx="449.5" cy="160.0"/><ellipse cx="449.8" cy="136.9"/><ellipse cx="450.1" cy="112.4"/><ellipse cx="450.4" cy="144.6"/><ellipse cx="450.7" cy="126.2"/><ellipse cx="451.0" cy="104.7"/><ellipse cx="451.3" cy="104.1"/><ellipse cx="451.6" cy="112.8"/><ellipse cx="452.0" cy="121.3"/><ellipse cx="452.3" cy="122.1"/><ellipse cx="452.6" cy="133.5"/><ellipse cx="452.9" cy="127.5"/><ellipse cx="453.2" cy="117.0"/><ellipse cx="453.5" cy="89.8"/><ellipse cx="453.8" cy="156.4"/><ellipse cx="454.1" cy="99.9"/><ellipse cx="454.5" cy="143.6"/><ellipse cx="454.8" cy="136.7"/><ellipse cx="455.1" cy="122.9"/><ellipse cx="455.4" cy="116.2"/><ellipse cx="455.7" cy="150.8"/><ellipse cx="456.0" cy="109.5"/><ellipse cx="456.3" cy="109.3"/><ellipse cx="456.6" cy="105.2"/><ellipse cx="457.0" cy="134.2"/><ellipse cx="457.3" cy="153.6"/><ellipse cx="457.6" cy="102.8"/><ellipse cx="457.9" cy="128.5"/><ellipse cx="458.2" cy="143.9"/><ellipse cx="458.5" cy="141.2"/><ellipse cx="458.8" cy="124.2"/><ellipse cx="459.1" cy="125.3"/><ellipse cx="459.4" cy="116.9"/><ellipse cx="459.8" cy="127.7"/><ellipse cx="460.1" cy="114.5"/><ellipse cx="460.4" cy="118.7"/><ellipse cx="460.7" cy="106.9"/><ellipse cx="461.0" cy="118.9"/><ellipse cx="461.3" cy="94.3"/><ellipse cx="461.6" cy="139.9"/><ellipse cx="461.9" cy="120.3"/><ellipse cx="462.3" cy="158.9"/><ellipse cx="462.6" cy="112.0"/><ellipse cx="462.9" cy="139.6"/><ellipse cx="463.2" cy="110.8"/><ellipse cx="463.5" cy="109.7"/><ellipse cx="463.8" cy="130.6"/><ellipse cx="464.1" cy="152.4"/><ellipse cx="464.4" cy="130.3"/><ellipse cx="464.6" cy="36.1"/><ellipse cx="464.8" cy="132.2"/><ellipse cx="465.1" cy="110.3"/><ellipse cx="465.4" cy="138.4"/><ellipse cx="465.7" cy="101.1"/><ellipse cx="466.0" cy="107.8"/><ellipse cx="466.3" cy="105.3"/><ellipse cx="466.6" cy="107.6"/><ellipse cx="466.9" cy="123.1"/><ellipse cx="467.3" cy="120.8"/><ellipse cx="467.6" cy="140.6"/><ellipse cx="467.9" cy="93.2"/><ellipse cx="468.2" cy="160.5"/><ellipse cx="468.5" cy="152.0"/><ellipse cx="468.8" cy="121.9"/><ellipse cx="469.1" cy="133.0"/><ellipse cx="469.4" cy="126.5"/><ellipse cx="469.8" cy="118.0"/><ellipse cx="470.1" cy="98.1"/><ellipse cx="470.4" cy="124.8"/><ellipse cx="470.7" cy="118.2"/><ellipse cx="471.0" cy="140.2"/><ellipse cx="471.3" cy="97.7"/><ellipse cx="471.6" cy="129.8"/><ellipse cx="471.9" cy="158.2"/><ellipse cx="472.3" cy="119.4"/><ellipse cx="472.6" cy="133.9"/><ellipse cx="472.9" cy="92.0"/><ellipse cx="473.2" cy="127.3"/><ellipse cx="473.5" cy="110.4"/><ellipse cx="473.8" cy="135.1"/><ellipse cx="474.1" cy="145.1"/><ellipse cx="474.4" cy="100.0"/><ellipse cx="474.8" cy="113.5"/><ellipse cx="475.1" cy="116.6"/><ellipse cx="475.4" cy="115.9"/><ellipse cx="475.7" cy="137.6"/><ellipse cx="476.0" cy="146.5"/><ellipse cx="476.3" cy="111.6"/><ellipse cx="476.6" cy="112.5"/><ellipse cx="476.9" cy="113.1"/><ellipse cx="477.3" cy="134.9"/><ellipse cx="477.6" cy="115.4"/><ellipse cx="477.9" cy="131.3"/><ellipse cx="478.2" cy="125.9"/><ellipse cx="478.5" cy="121.1"/><ellipse cx="478.6" cy="84.1"/><ellipse cx="478.8" cy="140.9"/><ellipse cx="479.1" cy="119.7"/><ellipse cx="479.4" cy="91.6"/><ellipse cx="479.8" cy="161.2"/><ellipse cx="480.1" cy="132.9"/><ellipse cx="480.4" cy="117.7"/><ellipse cx="480.7" cy="132.5"/><ellipse cx="481.0" cy="146.7"/><ellipse cx="481.3" cy="98.9"/><ellipse cx="481.6" cy="155.9"/><ellipse cx="481.9" cy="123.7"/><ellipse cx="482.2" cy="105.7"/><ellipse cx="482.6" cy="104.5"/><ellipse cx="482.9" cy="115.5"/><ellipse cx="483.2" cy="129.4"/><ellipse cx="483.5" cy="121.7"/><ellipse cx="483.8" cy="139.4"/><ellipse cx="484.1" cy="155.0"/><ellipse cx="484.4" cy="143.1"/><ellipse cx="484.7" cy="159.2"/><ellipse cx="485.1" cy="142.9"/><ellipse cx="485.4" cy="137.2"/><ellipse cx="485.6" cy="164.5"/><ellipse cx="485.7" cy="151.0"/><ellipse cx="486.0" cy="150.1"/><ellipse cx="486.3" cy="98.4"/><ellipse cx="486.6" cy="135.6"/><ellipse cx="486.9" cy="89.9"/><ellipse cx="487.2" cy="124.9"/><ellipse cx="487.6" cy="96.5"/><ellipse cx="487.9" cy="135.8"/><ellipse cx="488.2" cy="90.9"/><ellipse cx="488.5" cy="101.8"/><ellipse cx="488.8" cy="110.9"/><ellipse cx="489.1" cy="80.6"/><ellipse cx="489.1" cy="130.9"/><ellipse cx="489.4" cy="115.3"/><ellipse cx="489.7" cy="98.6"/><ellipse cx="490.1" cy="147.0"/><ellipse cx="490.4" cy="96.2"/><ellipse cx="490.7" cy="126.0"/><ellipse cx="491.0" cy="138.0"/><ellipse cx="491.3" cy="96.9"/><ellipse cx="491.6" cy="145.4"/><ellipse cx="491.9" cy="130.2"/><ellipse cx="492.2" cy="134.7"/><ellipse cx="492.6" cy="109.9"/><ellipse cx="492.9" cy="102.9"/><ellipse cx="493.2" cy="138.6"/><ellipse cx="493.5" cy="92.9"/><ellipse cx="493.6" cy="72.9"/><ellipse cx="493.8" cy="135.0"/><ellipse cx="494.1" cy="129.2"/><ellipse cx="494.4" cy="156.1"/><ellipse cx="494.7" cy="140.8"/><ellipse cx="495.1" cy="111.2"/><ellipse cx="495.4" cy="122.0"/><ellipse cx="495.7" cy="134.1"/><ellipse cx="496.0" cy="95.2"/><ellipse cx="496.1" cy="163.8"/><ellipse cx="496.3" cy="114.0"/><ellipse cx="496.6" cy="105.3"/><ellipse cx="496.9" cy="110.6"/><ellipse cx="497.2" cy="103.2"/><ellipse cx="497.6" cy="106.5"/><ellipse cx="497.9" cy="107.8"/><ellipse cx="498.2" cy="133.3"/><ellipse cx="498.5" cy="124.0"/><ellipse cx="498.8" cy="100.4"/><ellipse cx="499.1" cy="150.6"/><ellipse cx="499.4" cy="117.8"/><ellipse cx="499.7" cy="115.8"/><ellipse cx="500.1" cy="139.5"/><ellipse cx="500.4" cy="121.6"/><ellipse cx="500.7" cy="127.0"/><ellipse cx="501.0" cy="105.0"/><ellipse cx="501.3" cy="142.4"/><ellipse cx="501.6" cy="145.4"/><ellipse cx="501.9" cy="100.9"/><ellipse cx="502.2" cy="118.1"/><ellipse cx="502.6" cy="123.1"/><ellipse cx="502.9" cy="152.2"/><ellipse cx="503.2" cy="131.1"/><ellipse cx="503.5" cy="114.8"/><ellipse cx="503.8" cy="112.0"/><ellipse cx="504.1" cy="141.5"/><ellipse cx="504.4" cy="91.6"/><ellipse cx="504.7" cy="130.5"/><ellipse cx="505.1" cy="99.4"/><ellipse cx="505.4" cy="133.6"/><ellipse cx="505.6" cy="78.1"/><ellipse cx="505.7" cy="159.0"/><ellipse cx="506.0" cy="123.6"/><ellipse cx="506.3" cy="104.2"/><ellipse cx="506.6" cy="139.0"/><ellipse cx="506.9" cy="111.6"/><ellipse cx="507.2" cy="152.8"/><ellipse cx="507.5" cy="116.4"/><ellipse cx="507.9" cy="155.3"/><ellipse cx="508.2" cy="124.0"/><ellipse cx="508.5" cy="142.5"/><ellipse cx="508.8" cy="89.3"/><ellipse cx="509.1" cy="110.8"/><ellipse cx="509.4" cy="128.6"/><ellipse cx="509.7" cy="146.1"/><ellipse cx="510.0" cy="148.8"/><ellipse cx="510.4" cy="125.0"/><ellipse cx="510.7" cy="131.4"/><ellipse cx="511.0" cy="108.4"/><ellipse cx="511.3" cy="132.2"/><ellipse cx="511.6" cy="135.8"/><ellipse cx="511.9" cy="132.5"/><ellipse cx="512.2" cy="106.8"/><ellipse cx="512.5" cy="105.7"/><ellipse cx="512.9" cy="159.6"/><ellipse cx="513.2" cy="108.7"/><ellipse cx="513.5" cy="151.3"/><ellipse cx="513.8" cy="117.1"/><ellipse cx="514.1" cy="122.7"/><ellipse cx="514.4" cy="151.9"/><ellipse cx="514.7" cy="118.5"/><ellipse cx="515.0" cy="125.5"/><ellipse cx="515.4" cy="127.8"/><ellipse cx="515.7" cy="119.7"/><ellipse cx="516.0" cy="154.4"/><ellipse cx="516.3" cy="119.9"/><ellipse cx="516.4" cy="79.2"/><ellipse cx="516.6" cy="115.6"/><ellipse cx="516.9" cy="128.1"/><ellipse cx="517.2" cy="113.6"/><ellipse cx="517.5" cy="113.5"/><ellipse cx="517.8" cy="161.0"/><ellipse cx="517.9" cy="160.3"/><ellipse cx="518.2" cy="121.3"/><ellipse cx="518.5" cy="153.7"/><ellipse cx="518.8" cy="143.3"/><ellipse cx="519.1" cy="133.0"/><ellipse cx="519.4" cy="95.6"/><ellipse cx="519.7" cy="110.1"/><ellipse cx="520.0" cy="148.3"/><ellipse cx="520.4" cy="128.7"/><ellipse cx="520.7" cy="119.3"/><ellipse cx="521.0" cy="127.5"/><ellipse cx="521.3" cy="137.0"/><ellipse cx="521.6" cy="130.9"/><ellipse cx="521.9" cy="101.6"/><ellipse cx="522.2" cy="112.5"/><ellipse cx="522.5" cy="126.6"/><ellipse cx="522.9" cy="146.5"/><ellipse cx="523.2" cy="157.5"/><ellipse cx="523.5" cy="103.5"/><ellipse cx="523.8" cy="148.0"/><ellipse cx="524.1" cy="138.1"/><ellipse cx="524.4" cy="114.5"/><ellipse cx="524.7" cy="94.4"/><ellipse cx="524.8" cy="72.2"/><ellipse cx="525.0" cy="140.0"/><ellipse cx="525.4" cy="101.2"/><ellipse cx="525.7" cy="135.9"/><ellipse cx="526.0" cy="98.1"/><ellipse cx="526.3" cy="90.1"/><ellipse cx="526.6" cy="120.6"/><ellipse cx="526.9" cy="118.9"/><ellipse cx="527.2" cy="144.4"/><ellipse cx="527.5" cy="87.6"/><ellipse cx="527.9" cy="102.0"/><ellipse cx="528.2" cy="141.8"/><ellipse cx="528.5" cy="109.5"/><ellipse cx="528.8" cy="143.8"/><ellipse cx="529.1" cy="125.1"/><ellipse cx="529.4" cy="182.7"/><ellipse cx="529.4" cy="149.8"/><ellipse cx="529.7" cy="99.5"/><ellipse cx="530.0" cy="94.0"/><ellipse cx="530.3" cy="116.6"/><ellipse cx="530.7" cy="90.9"/><ellipse cx="531.0" cy="156.9"/><ellipse cx="531.3" cy="121.2"/><ellipse cx="531.6" cy="136.5"/><ellipse cx="531.9" cy="126.5"/><ellipse cx="532.2" cy="93.4"/><ellipse cx="532.5" cy="129.6"/><ellipse cx="532.8" cy="132.0"/><ellipse cx="533.2" cy="144.3"/><ellipse cx="533.5" cy="108.2"/><ellipse cx="533.8" cy="157.9"/><ellipse cx="534.0" cy="176.4"/><ellipse cx="534.1" cy="161.4"/><ellipse cx="534.4" cy="120.2"/><ellipse cx="534.6" cy="188.4"/><ellipse cx="534.7" cy="122.3"/><ellipse cx="535.0" cy="107.1"/><ellipse cx="535.3" cy="124.6"/><ellipse cx="535.7" cy="97.4"/><ellipse cx="536.0" cy="135.3"/><ellipse cx="536.3" cy="149.3"/><ellipse cx="536.6" cy="112.7"/><ellipse cx="536.9" cy="154.6"/><ellipse cx="537.2" cy="104.6"/><ellipse cx="537.5" cy="92.4"/><ellipse cx="537.8" cy="140.3"/><ellipse cx="538.2" cy="137.2"/><ellipse cx="538.5" cy="117.4"/>
</g>
<g class="m1">
<ellipse cx="538.8" cy="114.9"/><ellipse cx="539.1" cy="157.5"/><ellipse cx="539.4" cy="122.7"/><ellipse cx="539.7" cy="109.2"/><ellipse cx="540.0" cy="98.6"/><ellipse cx="540.3" cy="133.1"/><ellipse cx="540.7" cy="140.8"/><ellipse cx="541.0" cy="139.2"/><ellipse cx="541.3" cy="144.4"/><ellipse cx="541.6" cy="123.3"/><ellipse cx="541.9" cy="111.1"/><ellipse cx="542.2" cy="124.5"/><ellipse cx="542.5" cy="138.0"/><ellipse cx="542.8" cy="103.4"/><ellipse cx="543.2" cy="109.6"/><ellipse cx="543.5" cy="130.7"/><ellipse cx="543.8" cy="134.3"/><ellipse cx="543.8" cy="167.0"/><ellipse cx="544.1" cy="147.4"/><ellipse cx="544.4" cy="108.7"/><ellipse cx="544.7" cy="132.1"/><ellipse cx="545.0" cy="137.3"/><ellipse cx="545.3" cy="127.4"/><ellipse cx="545.7" cy="117.7"/><ellipse cx="546.0" cy="116.0"/><ellipse cx="546.3" cy="91.3"/><ellipse cx="546.6" cy="109.7"/><ellipse cx="546.9" cy="120.7"/><ellipse cx="547.2" cy="127.9"/><ellipse cx="547.5" cy="143.1"/><ellipse cx="547.8" cy="139.3"/><ellipse cx="548.0" cy="171.9"/><ellipse cx="548.2" cy="156.1"/><ellipse cx="548.5" cy="121.7"/><ellipse cx="548.8" cy="126.6"/><ellipse cx="549.1" cy="141.2"/><ellipse cx="549.4" cy="95.0"/><ellipse cx="549.7" cy="150.9"/><ellipse cx="550.0" cy="105.6"/><ellipse cx="550.3" cy="104.9"/><ellipse cx="550.7" cy="128.3"/><ellipse cx="551.0" cy="103.9"/><ellipse cx="551.3" cy="117.9"/><ellipse cx="551.5" cy="72.9"/><ellipse cx="551.6" cy="107.0"/><ellipse cx="551.9" cy="107.6"/><ellipse cx="552.2" cy="95.9"/><ellipse cx="552.5" cy="107.1"/><ellipse cx="552.8" cy="130.8"/><ellipse cx="553.1" cy="153.2"/><ellipse cx="553.5" cy="155.4"/><ellipse cx="553.8" cy="118.3"/><ellipse cx="554.1" cy="123.4"/><ellipse cx="554.4" cy="115.6"/><ellipse cx="554.7" cy="106.4"/><ellipse cx="555.0" cy="152.8"/><ellipse cx="555.3" cy="92.5"/><ellipse cx="555.6" cy="114.5"/><ellipse cx="556.0" cy="124.0"/><ellipse cx="556.3" cy="99.5"/><ellipse cx="556.6" cy="142.3"/><ellipse cx="556.7" cy="68.3"/><ellipse cx="556.9" cy="89.8"/><ellipse cx="557.2" cy="116.6"/><ellipse cx="557.5" cy="113.4"/><ellipse cx="557.8" cy="112.9"/><ellipse cx="558.1" cy="157.8"/><ellipse cx="558.5" cy="88.8"/><ellipse cx="558.8" cy="131.3"/><ellipse cx="559.1" cy="121.2"/><ellipse cx="559.4" cy="146.2"/><ellipse cx="559.7" cy="93.8"/><ellipse cx="560.0" cy="127.2"/><ellipse cx="560.3" cy="122.3"/><ellipse cx="560.6" cy="135.0"/><ellipse cx="561.0" cy="156.8"/><ellipse cx="561.3" cy="113.7"/><ellipse cx="561.6" cy="102.0"/><ellipse cx="561.9" cy="100.1"/><ellipse cx="562.2" cy="101.4"/><ellipse cx="562.5" cy="133.9"/><ellipse cx="562.8" cy="101.8"/><ellipse cx="563.1" cy="95.2"/><ellipse cx="563.5" cy="141.8"/><ellipse cx="563.8" cy="120.2"/><ellipse cx="564.1" cy="116.1"/><ellipse cx="564.4" cy="119.9"/><ellipse cx="564.7" cy="132.8"/><ellipse cx="565.0" cy="154.5"/><ellipse cx="565.3" cy="128.8"/><ellipse cx="565.6" cy="150.2"/><ellipse cx="566.0" cy="91.8"/><ellipse cx="566.3" cy="151.8"/><ellipse cx="566.6" cy="119.4"/><ellipse cx="566.9" cy="121.1"/><ellipse cx="567.2" cy="135.6"/><ellipse cx="567.5" cy="112.6"/><ellipse cx="567.8" cy="125.1"/><ellipse cx="568.1" cy="132.5"/><ellipse cx="568.5" cy="150.1"/><ellipse cx="568.8" cy="146.7"/><ellipse cx="569.1" cy="98.2"/><ellipse cx="569.4" cy="140.3"/><ellipse cx="569.7" cy="136.4"/><ellipse cx="570.0" cy="102.8"/><ellipse cx="570.3" cy="124.4"/><ellipse cx="570.6" cy="119.1"/><ellipse cx="571.0" cy="148.4"/><ellipse cx="571.3" cy="125.6"/><ellipse cx="571.4" cy="85.8"/><ellipse cx="571.6" cy="97.2"/><ellipse cx="571.9" cy="145.9"/><ellipse cx="572.2" cy="125.4"/><ellipse cx="572.5" cy="148.9"/><ellipse cx="572.8" cy="138.7"/><ellipse cx="573.1" cy="140.1"/><ellipse cx="573.5" cy="131.8"/><ellipse cx="573.8" cy="125.9"/><ellipse cx="574.1" cy="126.3"/><ellipse cx="574.4" cy="90.5"/><ellipse cx="574.7" cy="106.1"/><ellipse cx="575.0" cy="108.2"/><ellipse cx="575.3" cy="128.8"/><ellipse cx="575.6" cy="143.0"/><ellipse cx="575.9" cy="114.7"/><ellipse cx="576.3" cy="96.3"/><ellipse cx="576.6" cy="136.2"/><ellipse cx="576.9" cy="145.2"/><ellipse cx="577.2" cy="104.3"/><ellipse cx="577.5" cy="111.5"/><ellipse cx="577.8" cy="117.5"/><ellipse cx="578.1" cy="129.8"/><ellipse cx="578.4" cy="74.6"/><ellipse cx="578.4" cy="138.2"/><ellipse cx="578.8" cy="148.1"/><ellipse cx="579.1" cy="92.9"/><ellipse cx="579.4" cy="153.8"/><ellipse cx="579.7" cy="129.4"/><ellipse cx="580.0" cy="110.2"/><ellipse cx="580.3" cy="151.9"/><ellipse cx="580.6" cy="118.7"/><ellipse cx="580.9" cy="144.6"/><ellipse cx="581.3" cy="101.0"/><ellipse cx="581.6" cy="94.4"/><ellipse cx="581.9" cy="121.9"/><ellipse cx="582.2" cy="97.7"/><ellipse cx="582.5" cy="135.1"/><ellipse cx="582.8" cy="104.6"/><ellipse cx="583.0" cy="71.8"/><ellipse cx="583.1" cy="136.8"/><ellipse cx="583.4" cy="133.6"/><ellipse cx="583.8" cy="99.0"/><ellipse cx="584.1" cy="110.8"/><ellipse cx="584.4" cy="117.0"/><ellipse cx="584.4" cy="84.1"/><ellipse cx="584.7" cy="112.0"/><ellipse cx="585.0" cy="130.1"/><ellipse cx="585.3" cy="89.0"/><ellipse cx="585.6" cy="112.4"/><ellipse cx="585.9" cy="143.9"/>
</g>
<g class="m2">
<ellipse cx="586.3" cy="120.3"/><ellipse cx="586.6" cy="131.0"/><ellipse cx="586.9" cy="93.7"/><ellipse cx="587.2" cy="122.8"/><ellipse cx="587.5" cy="126.7"/><ellipse cx="587.8" cy="128.5"/><ellipse cx="588.1" cy="132.7"/><ellipse cx="588.3" cy="54.6"/><ellipse cx="588.4" cy="127.1"/><ellipse cx="588.8" cy="99.1"/><ellipse cx="589.1" cy="130.9"/><ellipse cx="589.4" cy="143.4"/><ellipse cx="589.7" cy="116.6"/><ellipse cx="590.0" cy="154.3"/><ellipse cx="590.3" cy="102.9"/><ellipse cx="590.6" cy="147.7"/><ellipse cx="590.9" cy="133.1"/><ellipse cx="591.3" cy="118.2"/><ellipse cx="591.6" cy="96.2"/><ellipse cx="591.9" cy="136.2"/><ellipse cx="592.2" cy="92.5"/><ellipse cx="592.5" cy="128.6"/><ellipse cx="592.8" cy="131.7"/><ellipse cx="593.1" cy="114.1"/><ellipse cx="593.4" cy="117.7"/><ellipse cx="593.8" cy="127.5"/><ellipse cx="594.1" cy="96.5"/><ellipse cx="594.4" cy="141.4"/><ellipse cx="594.7" cy="116.1"/><ellipse cx="595.0" cy="155.2"/><ellipse cx="595.3" cy="157.4"/><ellipse cx="595.6" cy="92.2"/><ellipse cx="595.9" cy="114.2"/><ellipse cx="596.3" cy="129.5"/><ellipse cx="596.6" cy="133.8"/><ellipse cx="596.7" cy="77.1"/><ellipse cx="596.9" cy="107.5"/><ellipse cx="597.2" cy="112.1"/><ellipse cx="597.5" cy="102.7"/><ellipse cx="597.8" cy="98.8"/><ellipse cx="598.1" cy="152.1"/><ellipse cx="598.4" cy="100.2"/><ellipse cx="598.8" cy="112.5"/><ellipse cx="599.1" cy="136.8"/><ellipse cx="599.4" cy="145.3"/><ellipse cx="599.7" cy="113.6"/><ellipse cx="600.0" cy="90.1"/><ellipse cx="600.3" cy="124.0"/><ellipse cx="600.6" cy="138.0"/><ellipse cx="600.9" cy="97.0"/><ellipse cx="601.2" cy="87.1"/><ellipse cx="601.2" cy="124.4"/><ellipse cx="601.6" cy="108.8"/><ellipse cx="601.9" cy="122.0"/><ellipse cx="602.2" cy="123.7"/><ellipse cx="602.5" cy="146.7"/><ellipse cx="602.8" cy="95.6"/><ellipse cx="603.1" cy="120.7"/><ellipse cx="603.4" cy="119.7"/><ellipse cx="603.7" cy="130.3"/><ellipse cx="604.1" cy="131.7"/><ellipse cx="604.4" cy="101.5"/><ellipse cx="604.7" cy="108.6"/><ellipse cx="605.0" cy="134.2"/><ellipse cx="605.3" cy="93.3"/><ellipse cx="605.6" cy="140.0"/><ellipse cx="605.9" cy="125.4"/><ellipse cx="606.2" cy="132.3"/><ellipse cx="606.5" cy="161.0"/><ellipse cx="606.6" cy="114.9"/><ellipse cx="606.9" cy="128.1"/><ellipse cx="607.2" cy="153.5"/><ellipse cx="607.5" cy="119.4"/><ellipse cx="607.8" cy="148.1"/><ellipse cx="608.1" cy="115.8"/><ellipse cx="608.4" cy="139.1"/><ellipse cx="608.7" cy="128.9"/><ellipse cx="609.1" cy="106.4"/><ellipse cx="609.4" cy="110.3"/><ellipse cx="609.7" cy="143.9"/><ellipse cx="610.0" cy="111.0"/><ellipse cx="610.3" cy="134.9"/><ellipse cx="610.6" cy="88.3"/><ellipse cx="610.9" cy="102.4"/><ellipse cx="611.0" cy="87.1"/><ellipse cx="611.2" cy="117.5"/><ellipse cx="611.6" cy="138.4"/><ellipse cx="611.9" cy="115.3"/><ellipse cx="612.2" cy="129.9"/><ellipse cx="612.5" cy="148.5"/><ellipse cx="612.8" cy="121.1"/><ellipse cx="613.1" cy="115.4"/><ellipse cx="613.4" cy="155.5"/><ellipse cx="613.7" cy="100.8"/><ellipse cx="614.1" cy="150.3"/><ellipse cx="614.4" cy="90.9"/><ellipse cx="614.7" cy="145.9"/><ellipse cx="615.0" cy="89.4"/><ellipse cx="615.3" cy="156.6"/><ellipse cx="615.6" cy="140.4"/><ellipse cx="615.9" cy="152.6"/><ellipse cx="616.2" cy="113.1"/><ellipse cx="616.3" cy="70.4"/><ellipse cx="616.6" cy="110.1"/><ellipse cx="616.9" cy="88.5"/><ellipse cx="617.2" cy="119.0"/><ellipse cx="617.5" cy="111.3"/><ellipse cx="617.8" cy="117.2"/><ellipse cx="618.1" cy="141.1"/><ellipse cx="618.4" cy="105.4"/><ellipse cx="618.7" cy="98.5"/><ellipse cx="619.1" cy="101.5"/><ellipse cx="619.4" cy="135.1"/><ellipse cx="619.4" cy="158.2"/><ellipse cx="619.7" cy="121.5"/><ellipse cx="620.0" cy="112.7"/><ellipse cx="620.3" cy="152.9"/><ellipse cx="620.6" cy="111.6"/><ellipse cx="620.9" cy="107.3"/><ellipse cx="621.2" cy="105.8"/><ellipse cx="621.6" cy="97.7"/><ellipse cx="621.9" cy="144.7"/><ellipse cx="622.2" cy="139.5"/><ellipse cx="622.5" cy="125.0"/><ellipse cx="622.8" cy="123.2"/><ellipse cx="623.1" cy="123.1"/><ellipse cx="623.4" cy="149.3"/><ellipse cx="623.7" cy="150.9"/><ellipse cx="624.0" cy="104.7"/><ellipse cx="624.4" cy="99.8"/><ellipse cx="624.7" cy="125.8"/><ellipse cx="625.0" cy="118.4"/><ellipse cx="625.3" cy="91.1"/><ellipse cx="625.6" cy="107.9"/><ellipse cx="625.9" cy="142.0"/><ellipse cx="626.2" cy="126.3"/><ellipse cx="626.5" cy="94.7"/><ellipse cx="626.9" cy="87.8"/><ellipse cx="627.2" cy="122.4"/><ellipse cx="627.5" cy="87.0"/><ellipse cx="627.8" cy="137.6"/><ellipse cx="628.1" cy="104.8"/><ellipse cx="628.4" cy="137.0"/><ellipse cx="628.7" cy="103.6"/><ellipse cx="629.0" cy="146.4"/><ellipse cx="629.4" cy="107.0"/><ellipse cx="629.7" cy="109.1"/><ellipse cx="630.0" cy="109.8"/><ellipse cx="630.3" cy="157.9"/><ellipse cx="630.3" cy="71.8"/><ellipse cx="630.6" cy="143.3"/><ellipse cx="630.9" cy="149.7"/><ellipse cx="631.2" cy="125.4"/><ellipse cx="631.5" cy="104.3"/><ellipse cx="631.9" cy="94.1"/><ellipse cx="632.0" cy="85.1"/><ellipse cx="632.0" cy="153.0"/><ellipse cx="632.2" cy="136.0"/><ellipse cx="632.5" cy="134.6"/><ellipse cx="632.8" cy="142.5"/><ellipse cx="633.1" cy="120.0"/>
</g>
<text class="xl" x="177.1" y="148.6">0</text>
<text class="xl" x="239.6" y="148.6">200</text>
<text class="xl" x="302.0" y="148.6">400</text>
<text class="xl" x="364.5" y="148.6">600</text>
<text class="xl" x="427.0" y="148.6">800</text>
<text class="xl" x="489.4" y="148.6">1000</text>
<text class="xl" x="551.9" y="148.6">1200</text>
<text class="xl" x="614.4" y="148.6">1400</text>
<text class="yl" transform="translate(165.0,18.2) scale(1.11,1)">0.060</text>
<text class="yl" transform="translate(165.0,37.5) scale(1.11,1)">0.050</text>
<text class="yl" transform="translate(165.0,56.7) scale(1.11,1)">0.040</text>
<text class="yl" transform="translate(165.0,76.0) scale(1.11,1)">0.030</text>
<text class="yl" transform="translate(165.0,95.2) scale(1.11,1)">0.020</text>
<text class="yl" transform="translate(165.0,114.5) scale(1.11,1)">0.010</text>
<text class="yl" transform="translate(165.0,133.8) scale(1.11,1)">0.000</text>
<text class="yl" transform="translate(165.0,153.0) scale(1.11,1)">-0.010</text>
<text class="yl" transform="translate(165.0,172.3) scale(1.11,1)">-0.020</text>
<text class="yl" transform="translate(165.0,191.5) scale(1.11,1)">-0.030</text>
<text class="yl" transform="translate(165.0,210.8) scale(1.11,1)">-0.040</text>
<text class="t" transform="translate(124.1,110.5) rotate(-90)" text-anchor="middle" textLength="70.7" lengthAdjust="spacingAndGlyphs" style="font-size:11.8px">Relative error</text>
<text class="t" x="411.4" y="222.3" text-anchor="middle" textLength="63" lengthAdjust="spacingAndGlyphs" style="font-size:12.5px">Data Index</text>
<rect x="275.7" y="240.3" width="215.9" height="21.1" fill="#fff" stroke="#000" stroke-width="2.5"/>
<g class="m0"><ellipse cx="292.7" cy="250.8"/></g>
<text class="t" x="299.7" y="254.7" textLength="43" lengthAdjust="spacingAndGlyphs" style="font-size:11.8px">Training</text>
<g class="m1"><ellipse cx="359.7" cy="250.8"/></g>
<text class="t" x="366.7" y="254.7" textLength="53" lengthAdjust="spacingAndGlyphs" style="font-size:11.8px">Validation</text>
<g class="m2"><ellipse cx="437.0" cy="250.8"/></g>
<text class="t" x="444.0" y="254.7" textLength="38" lengthAdjust="spacingAndGlyphs" style="font-size:11.8px">Testing</text>
<rect x="92.7" y="0.8" width="581.8" height="268.2" fill="none" stroke="#000" stroke-width="2.5"/>
<g class="g">
<line x1="174.6" y1="308.75" x2="652.3" y2="308.75"/>
<line x1="174.6" y1="334.30" x2="652.3" y2="334.30"/>
<line x1="174.6" y1="359.85" x2="652.3" y2="359.85"/>
<line x1="174.6" y1="385.40" x2="652.3" y2="385.40"/>
<line x1="174.6" y1="410.95" x2="652.3" y2="410.95"/>
<line x1="174.6" y1="436.50" x2="652.3" y2="436.50"/>
<line x1="174.6" y1="462.05" x2="652.3" y2="462.05"/>
<line x1="238.29" y1="283.2" x2="238.29" y2="487.6"/>
<line x1="301.99" y1="283.2" x2="301.99" y2="487.6"/>
<line x1="365.68" y1="283.2" x2="365.68" y2="487.6"/>
<line x1="429.37" y1="283.2" x2="429.37" y2="487.6"/>
<line x1="493.07" y1="283.2" x2="493.07" y2="487.6"/>
<line x1="556.76" y1="283.2" x2="556.76" y2="487.6"/>
<line x1="620.45" y1="283.2" x2="620.45" y2="487.6"/>
</g>
<rect x="174.6" y="283.2" width="477.7" height="204.4" fill="none" stroke="#000" stroke-width="2"/>
<line x1="174.5" y1="282.2" x2="174.5" y2="488.6" stroke="#3a3a3a" stroke-width="3"/>
<line x1="174.2" y1="282.2" x2="174.2" y2="488.6" stroke="#a0a0a0" stroke-width="1.2"/>
<line x1="174.6" y1="385.40" x2="652.3" y2="385.40" stroke="#2a2a2a" stroke-width="1.2"/>
<g class="m0">
<ellipse cx="174.6" cy="382.4"/><ellipse cx="174.9" cy="406.4"/><ellipse cx="175.2" cy="409.4"/><ellipse cx="175.6" cy="364.0"/><ellipse cx="175.9" cy="385.4"/><ellipse cx="176.2" cy="378.8"/><ellipse cx="176.5" cy="408.1"/><ellipse cx="176.8" cy="360.4"/><ellipse cx="177.1" cy="400.1"/><ellipse cx="177.5" cy="370.4"/><ellipse cx="177.8" cy="379.9"/><ellipse cx="178.1" cy="389.0"/><ellipse cx="178.4" cy="395.5"/><ellipse cx="178.7" cy="374.3"/><ellipse cx="178.9" cy="330.3"/><ellipse cx="179.1" cy="384.4"/><ellipse cx="179.4" cy="372.7"/><ellipse cx="179.7" cy="397.9"/><ellipse cx="180.0" cy="349.0"/><ellipse cx="180.3" cy="392.8"/><ellipse cx="180.7" cy="378.6"/><ellipse cx="181.0" cy="395.8"/><ellipse cx="181.3" cy="411.4"/><ellipse cx="181.6" cy="393.5"/><ellipse cx="181.9" cy="398.1"/><ellipse cx="182.2" cy="394.9"/><ellipse cx="182.6" cy="372.9"/><ellipse cx="182.9" cy="397.5"/><ellipse cx="183.2" cy="374.5"/><ellipse cx="183.5" cy="402.4"/><ellipse cx="183.8" cy="322.2"/><ellipse cx="183.8" cy="413.4"/><ellipse cx="184.2" cy="382.4"/><ellipse cx="184.5" cy="382.9"/><ellipse cx="184.8" cy="376.4"/><ellipse cx="185.1" cy="384.8"/><ellipse cx="185.4" cy="387.0"/><ellipse cx="185.7" cy="393.8"/><ellipse cx="186.1" cy="385.1"/><ellipse cx="186.4" cy="394.1"/><ellipse cx="186.7" cy="367.4"/><ellipse cx="187.0" cy="315.6"/><ellipse cx="187.0" cy="391.3"/><ellipse cx="187.3" cy="422.1"/><ellipse cx="187.3" cy="379.6"/><ellipse cx="187.7" cy="399.9"/><ellipse cx="188.0" cy="390.6"/><ellipse cx="188.3" cy="373.1"/><ellipse cx="188.6" cy="402.8"/><ellipse cx="188.7" cy="420.3"/><ellipse cx="188.9" cy="366.9"/><ellipse cx="189.2" cy="408.7"/><ellipse cx="189.6" cy="355.3"/><ellipse cx="189.9" cy="364.9"/><ellipse cx="190.2" cy="373.7"/><ellipse cx="190.5" cy="393.2"/><ellipse cx="190.8" cy="379.0"/><ellipse cx="191.2" cy="365.6"/><ellipse cx="191.5" cy="369.6"/><ellipse cx="191.5" cy="350.3"/><ellipse cx="191.8" cy="387.4"/><ellipse cx="192.1" cy="368.2"/><ellipse cx="192.4" cy="375.2"/><ellipse cx="192.8" cy="398.7"/><ellipse cx="193.1" cy="381.4"/><ellipse cx="193.4" cy="375.0"/><ellipse cx="193.7" cy="367.3"/><ellipse cx="194.0" cy="397.1"/><ellipse cx="194.3" cy="381.1"/><ellipse cx="194.7" cy="392.3"/><ellipse cx="195.0" cy="404.1"/><ellipse cx="195.0" cy="347.8"/><ellipse cx="195.3" cy="392.7"/><ellipse cx="195.6" cy="364.7"/><ellipse cx="195.9" cy="401.7"/><ellipse cx="196.3" cy="368.9"/><ellipse cx="196.6" cy="370.9"/><ellipse cx="196.8" cy="449.1"/><ellipse cx="196.9" cy="370.1"/><ellipse cx="197.2" cy="377.8"/><ellipse cx="197.5" cy="413.1"/><ellipse cx="197.8" cy="368.6"/><ellipse cx="198.2" cy="389.7"/><ellipse cx="198.5" cy="397.3"/><ellipse cx="198.8" cy="386.0"/><ellipse cx="199.1" cy="379.7"/><ellipse cx="199.4" cy="372.5"/><ellipse cx="199.8" cy="416.4"/><ellipse cx="200.1" cy="358.9"/><ellipse cx="200.4" cy="373.8"/><ellipse cx="200.7" cy="396.4"/><ellipse cx="201.0" cy="377.5"/><ellipse cx="201.4" cy="381.6"/><ellipse cx="201.7" cy="359.3"/><ellipse cx="202.0" cy="394.6"/><ellipse cx="202.3" cy="401.1"/><ellipse cx="202.6" cy="386.8"/><ellipse cx="202.9" cy="385.3"/><ellipse cx="203.3" cy="362.4"/><ellipse cx="203.6" cy="371.7"/><ellipse cx="203.9" cy="391.8"/><ellipse cx="204.2" cy="402.1"/><ellipse cx="204.5" cy="431.5"/><ellipse cx="204.5" cy="378.3"/><ellipse cx="204.9" cy="375.4"/><ellipse cx="205.2" cy="422.3"/><ellipse cx="205.5" cy="380.4"/><ellipse cx="205.8" cy="399.7"/><ellipse cx="205.9" cy="338.4"/><ellipse cx="206.1" cy="377.4"/><ellipse cx="206.4" cy="376.7"/><ellipse cx="206.8" cy="372.2"/><ellipse cx="207.1" cy="384.5"/><ellipse cx="207.3" cy="427.3"/><ellipse cx="207.4" cy="371.2"/><ellipse cx="207.7" cy="363.4"/><ellipse cx="208.0" cy="378.6"/><ellipse cx="208.4" cy="404.4"/><ellipse cx="208.7" cy="395.2"/><ellipse cx="209.0" cy="387.4"/><ellipse cx="209.3" cy="394.3"/><ellipse cx="209.6" cy="377.0"/><ellipse cx="209.9" cy="390.4"/><ellipse cx="210.3" cy="400.5"/><ellipse cx="210.6" cy="360.8"/><ellipse cx="210.9" cy="380.4"/><ellipse cx="211.2" cy="370.6"/><ellipse cx="211.5" cy="382.0"/><ellipse cx="211.8" cy="425.2"/><ellipse cx="211.9" cy="373.4"/><ellipse cx="212.2" cy="386.5"/><ellipse cx="212.5" cy="383.7"/><ellipse cx="212.5" cy="435.7"/><ellipse cx="212.8" cy="362.0"/><ellipse cx="213.1" cy="379.3"/><ellipse cx="213.5" cy="383.7"/><ellipse cx="213.8" cy="376.0"/><ellipse cx="214.1" cy="389.2"/><ellipse cx="214.4" cy="391.0"/><ellipse cx="214.7" cy="392.1"/><ellipse cx="215.0" cy="375.6"/><ellipse cx="215.3" cy="334.5"/><ellipse cx="215.4" cy="382.1"/><ellipse cx="215.7" cy="403.1"/><ellipse cx="216.0" cy="339.8"/><ellipse cx="216.0" cy="354.1"/><ellipse cx="216.0" cy="387.9"/><ellipse cx="216.3" cy="388.2"/><ellipse cx="216.6" cy="366.4"/><ellipse cx="216.7" cy="414.7"/><ellipse cx="217.0" cy="374.0"/><ellipse cx="217.3" cy="389.4"/><ellipse cx="217.6" cy="388.6"/><ellipse cx="217.8" cy="343.3"/><ellipse cx="217.9" cy="396.0"/><ellipse cx="218.2" cy="367.8"/><ellipse cx="218.5" cy="369.4"/><ellipse cx="218.9" cy="383.5"/><ellipse cx="219.2" cy="407.3"/><ellipse cx="219.5" cy="386.2"/><ellipse cx="219.8" cy="388.3"/><ellipse cx="220.1" cy="383.0"/><ellipse cx="220.5" cy="383.9"/><ellipse cx="220.8" cy="405.7"/><ellipse cx="221.0" cy="349.2"/><ellipse cx="221.1" cy="390.8"/><ellipse cx="221.4" cy="384.2"/><ellipse cx="221.7" cy="382.7"/><ellipse cx="222.1" cy="409.5"/><ellipse cx="222.4" cy="393.2"/><ellipse cx="222.7" cy="371.5"/><ellipse cx="223.0" cy="391.6"/><ellipse cx="223.1" cy="421.0"/><ellipse cx="223.3" cy="385.6"/><ellipse cx="223.6" cy="399.3"/><ellipse cx="224.0" cy="404.8"/><ellipse cx="224.3" cy="387.0"/><ellipse cx="224.6" cy="381.8"/><ellipse cx="224.9" cy="376.9"/><ellipse cx="225.2" cy="380.8"/><ellipse cx="225.6" cy="385.9"/><ellipse cx="225.9" cy="396.6"/><ellipse cx="225.9" cy="416.8"/><ellipse cx="226.2" cy="398.5"/><ellipse cx="226.5" cy="380.1"/><ellipse cx="226.8" cy="392.5"/><ellipse cx="227.1" cy="386.4"/><ellipse cx="227.5" cy="405.5"/><ellipse cx="227.8" cy="354.3"/><ellipse cx="228.1" cy="371.9"/><ellipse cx="228.4" cy="375.8"/><ellipse cx="228.7" cy="353.1"/><ellipse cx="229.1" cy="381.2"/><ellipse cx="229.4" cy="363.6"/><ellipse cx="229.7" cy="403.5"/><ellipse cx="230.0" cy="369.2"/><ellipse cx="230.3" cy="388.1"/><ellipse cx="230.7" cy="401.4"/><ellipse cx="230.8" cy="344.3"/><ellipse cx="231.0" cy="394.6"/><ellipse cx="231.3" cy="361.5"/><ellipse cx="231.6" cy="365.5"/><ellipse cx="231.9" cy="358.5"/><ellipse cx="232.2" cy="390.0"/><ellipse cx="232.6" cy="377.9"/><ellipse cx="232.9" cy="380.6"/><ellipse cx="233.2" cy="378.0"/><ellipse cx="233.5" cy="387.6"/><ellipse cx="233.8" cy="376.3"/><ellipse cx="234.2" cy="362.9"/><ellipse cx="234.5" cy="357.1"/><ellipse cx="234.8" cy="384.8"/><ellipse cx="235.1" cy="366.1"/><ellipse cx="235.4" cy="391.3"/><ellipse cx="235.7" cy="399.0"/><ellipse cx="236.1" cy="406.8"/><ellipse cx="236.4" cy="396.3"/><ellipse cx="236.4" cy="339.8"/><ellipse cx="236.7" cy="388.8"/><ellipse cx="237.0" cy="374.9"/><ellipse cx="237.3" cy="390.3"/><ellipse cx="237.7" cy="389.5"/><ellipse cx="238.0" cy="383.2"/><ellipse cx="238.3" cy="380.8"/><ellipse cx="238.6" cy="388.5"/><ellipse cx="238.9" cy="372.4"/><ellipse cx="239.2" cy="376.3"/><ellipse cx="239.6" cy="383.4"/><ellipse cx="239.9" cy="378.5"/><ellipse cx="240.2" cy="377.1"/><ellipse cx="240.5" cy="397.6"/><ellipse cx="240.8" cy="381.8"/><ellipse cx="241.2" cy="361.4"/><ellipse cx="241.5" cy="393.4"/><ellipse cx="241.8" cy="369.0"/><ellipse cx="242.1" cy="387.9"/><ellipse cx="242.4" cy="395.7"/><ellipse cx="242.8" cy="385.5"/><ellipse cx="243.1" cy="391.3"/><ellipse cx="243.4" cy="364.0"/><ellipse cx="243.7" cy="374.3"/><ellipse cx="244.0" cy="389.3"/><ellipse cx="244.3" cy="365.0"/><ellipse cx="244.7" cy="386.1"/><ellipse cx="245.0" cy="369.8"/><ellipse cx="245.3" cy="386.7"/><ellipse cx="245.6" cy="375.4"/><ellipse cx="245.9" cy="410.5"/><ellipse cx="246.3" cy="355.1"/><ellipse cx="246.6" cy="361.6"/><ellipse cx="246.9" cy="376.6"/><ellipse cx="247.2" cy="373.4"/><ellipse cx="247.5" cy="384.3"/><ellipse cx="247.8" cy="389.2"/><ellipse cx="248.2" cy="393.2"/><ellipse cx="248.5" cy="370.1"/><ellipse cx="248.8" cy="390.8"/><ellipse cx="249.1" cy="381.0"/><ellipse cx="249.4" cy="375.6"/><ellipse cx="249.8" cy="373.8"/><ellipse cx="250.1" cy="405.3"/><ellipse cx="250.4" cy="382.3"/><ellipse cx="250.7" cy="368.2"/><ellipse cx="251.0" cy="399.3"/><ellipse cx="251.4" cy="386.5"/><ellipse cx="251.7" cy="381.1"/><ellipse cx="252.0" cy="381.9"/><ellipse cx="252.3" cy="366.5"/><ellipse cx="252.6" cy="390.6"/><ellipse cx="252.9" cy="385.3"/><ellipse cx="253.3" cy="365.7"/><ellipse cx="253.6" cy="365.4"/><ellipse cx="253.9" cy="394.4"/><ellipse cx="254.2" cy="380.6"/><ellipse cx="254.5" cy="387.1"/><ellipse cx="254.9" cy="370.3"/><ellipse cx="255.2" cy="379.0"/><ellipse cx="255.5" cy="388.9"/><ellipse cx="255.8" cy="396.2"/><ellipse cx="256.1" cy="379.3"/><ellipse cx="256.4" cy="395.2"/><ellipse cx="256.8" cy="375.9"/><ellipse cx="257.1" cy="375.0"/><ellipse cx="257.4" cy="372.0"/><ellipse cx="257.7" cy="354.5"/><ellipse cx="258.0" cy="395.9"/><ellipse cx="258.4" cy="384.9"/><ellipse cx="258.7" cy="363.8"/><ellipse cx="259.0" cy="409.7"/><ellipse cx="259.3" cy="363.1"/><ellipse cx="259.6" cy="369.0"/><ellipse cx="259.9" cy="404.3"/><ellipse cx="260.2" cy="417.5"/><ellipse cx="260.3" cy="380.3"/><ellipse cx="260.6" cy="412.1"/><ellipse cx="260.9" cy="394.8"/><ellipse cx="261.2" cy="367.0"/><ellipse cx="261.5" cy="398.9"/><ellipse cx="261.9" cy="356.8"/><ellipse cx="262.2" cy="383.5"/><ellipse cx="262.5" cy="377.4"/><ellipse cx="262.8" cy="393.9"/><ellipse cx="263.1" cy="381.4"/><ellipse cx="263.5" cy="397.2"/><ellipse cx="263.8" cy="404.9"/><ellipse cx="264.1" cy="387.6"/><ellipse cx="264.4" cy="422.1"/><ellipse cx="264.4" cy="366.2"/><ellipse cx="264.7" cy="398.4"/><ellipse cx="265.0" cy="387.4"/><ellipse cx="265.4" cy="394.4"/><ellipse cx="265.7" cy="373.7"/><ellipse cx="266.0" cy="374.6"/><ellipse cx="266.2" cy="345.4"/><ellipse cx="266.3" cy="391.9"/><ellipse cx="266.6" cy="382.2"/><ellipse cx="267.0" cy="380.2"/><ellipse cx="267.3" cy="371.8"/><ellipse cx="267.6" cy="390.5"/><ellipse cx="267.9" cy="387.3"/><ellipse cx="268.2" cy="409.0"/><ellipse cx="268.5" cy="391.1"/><ellipse cx="268.9" cy="360.9"/><ellipse cx="269.2" cy="399.6"/><ellipse cx="269.5" cy="391.7"/><ellipse cx="269.8" cy="386.4"/><ellipse cx="270.1" cy="405.9"/><ellipse cx="270.5" cy="369.5"/><ellipse cx="270.8" cy="382.8"/><ellipse cx="271.1" cy="416.5"/><ellipse cx="271.4" cy="392.4"/><ellipse cx="271.7" cy="358.3"/><ellipse cx="272.1" cy="400.9"/><ellipse cx="272.4" cy="383.2"/><ellipse cx="272.7" cy="403.3"/><ellipse cx="273.0" cy="348.2"/><ellipse cx="273.3" cy="359.6"/><ellipse cx="273.6" cy="382.5"/><ellipse cx="274.0" cy="368.4"/><ellipse cx="274.3" cy="382.9"/><ellipse cx="274.6" cy="396.5"/><ellipse cx="274.9" cy="352.6"/><ellipse cx="275.2" cy="376.8"/><ellipse cx="275.6" cy="377.7"/><ellipse cx="275.9" cy="384.8"/><ellipse cx="276.2" cy="400.4"/><ellipse cx="276.5" cy="390.3"/><ellipse cx="276.8" cy="408.1"/><ellipse cx="277.1" cy="376.0"/><ellipse cx="277.5" cy="367.6"/><ellipse cx="277.8" cy="392.3"/><ellipse cx="278.1" cy="325.0"/><ellipse cx="278.1" cy="403.5"/><ellipse cx="278.4" cy="395.5"/><ellipse cx="278.7" cy="406.3"/><ellipse cx="279.1" cy="401.3"/><ellipse cx="279.1" cy="346.1"/><ellipse cx="279.4" cy="375.1"/><ellipse cx="279.7" cy="362.2"/><ellipse cx="280.0" cy="399.8"/><ellipse cx="280.3" cy="379.1"/><ellipse cx="280.5" cy="414.0"/><ellipse cx="280.6" cy="392.8"/><ellipse cx="281.0" cy="367.9"/><ellipse cx="281.3" cy="376.9"/><ellipse cx="281.6" cy="407.6"/><ellipse cx="281.9" cy="408.8"/><ellipse cx="282.2" cy="379.7"/><ellipse cx="282.6" cy="396.9"/><ellipse cx="282.9" cy="407.0"/><ellipse cx="283.2" cy="419.7"/><ellipse cx="283.5" cy="389.5"/><ellipse cx="283.8" cy="401.6"/><ellipse cx="284.2" cy="360.1"/><ellipse cx="284.5" cy="384.1"/><ellipse cx="284.8" cy="379.9"/><ellipse cx="285.1" cy="370.6"/><ellipse cx="285.4" cy="385.1"/><ellipse cx="285.7" cy="392.6"/><ellipse cx="286.1" cy="402.1"/><ellipse cx="286.4" cy="379.6"/><ellipse cx="286.7" cy="388.9"/><ellipse cx="287.0" cy="385.9"/><ellipse cx="287.3" cy="380.6"/><ellipse cx="287.7" cy="383.0"/><ellipse cx="288.0" cy="373.1"/><ellipse cx="288.3" cy="359.3"/><ellipse cx="288.6" cy="385.6"/><ellipse cx="288.9" cy="388.6"/><ellipse cx="289.2" cy="381.7"/><ellipse cx="289.6" cy="397.7"/><ellipse cx="289.9" cy="398.7"/><ellipse cx="290.2" cy="394.0"/><ellipse cx="290.5" cy="372.1"/><ellipse cx="290.8" cy="394.9"/><ellipse cx="291.2" cy="402.3"/><ellipse cx="291.5" cy="396.6"/><ellipse cx="291.8" cy="371.0"/><ellipse cx="292.1" cy="389.9"/><ellipse cx="292.4" cy="351.3"/><ellipse cx="292.4" cy="378.4"/><ellipse cx="292.8" cy="388.2"/><ellipse cx="293.1" cy="400.6"/><ellipse cx="293.4" cy="404.1"/><ellipse cx="293.7" cy="398.2"/><ellipse cx="294.0" cy="388.0"/><ellipse cx="294.3" cy="391.9"/><ellipse cx="294.7" cy="371.5"/><ellipse cx="295.0" cy="385.8"/><ellipse cx="295.3" cy="374.8"/><ellipse cx="295.6" cy="378.1"/><ellipse cx="295.9" cy="393.5"/><ellipse cx="296.3" cy="378.7"/><ellipse cx="296.6" cy="383.7"/><ellipse cx="296.9" cy="366.7"/><ellipse cx="297.2" cy="371.2"/><ellipse cx="297.3" cy="428.0"/><ellipse cx="297.5" cy="362.7"/><ellipse cx="297.8" cy="384.5"/><ellipse cx="298.2" cy="386.9"/><ellipse cx="298.5" cy="374.2"/><ellipse cx="298.8" cy="377.9"/><ellipse cx="299.1" cy="372.9"/><ellipse cx="299.4" cy="384.0"/><ellipse cx="299.8" cy="413.4"/><ellipse cx="300.1" cy="390.0"/><ellipse cx="300.4" cy="364.7"/><ellipse cx="300.7" cy="391.3"/><ellipse cx="301.0" cy="372.8"/><ellipse cx="301.3" cy="402.6"/><ellipse cx="301.7" cy="377.6"/><ellipse cx="302.0" cy="391.4"/><ellipse cx="302.3" cy="387.8"/><ellipse cx="302.6" cy="368.8"/><ellipse cx="302.9" cy="366.3"/><ellipse cx="303.3" cy="383.1"/><ellipse cx="303.6" cy="389.2"/><ellipse cx="303.6" cy="436.8"/><ellipse cx="303.9" cy="374.6"/><ellipse cx="304.2" cy="374.0"/><ellipse cx="304.5" cy="381.3"/><ellipse cx="304.9" cy="393.8"/><ellipse cx="305.2" cy="385.8"/><ellipse cx="305.5" cy="398.4"/><ellipse cx="305.8" cy="372.2"/><ellipse cx="306.1" cy="375.6"/><ellipse cx="306.4" cy="402.0"/><ellipse cx="306.8" cy="370.1"/><ellipse cx="307.1" cy="380.7"/><ellipse cx="307.1" cy="429.8"/><ellipse cx="307.4" cy="395.2"/><ellipse cx="307.7" cy="400.5"/><ellipse cx="308.0" cy="374.9"/><ellipse cx="308.4" cy="382.9"/><ellipse cx="308.7" cy="376.3"/><ellipse cx="309.0" cy="388.7"/><ellipse cx="309.3" cy="376.9"/><ellipse cx="309.6" cy="387.4"/><ellipse cx="309.9" cy="393.6"/><ellipse cx="310.0" cy="426.0"/><ellipse cx="310.3" cy="378.4"/><ellipse cx="310.6" cy="378.3"/><ellipse cx="310.9" cy="382.2"/><ellipse cx="311.2" cy="392.3"/><ellipse cx="311.5" cy="381.6"/><ellipse cx="311.9" cy="360.5"/><ellipse cx="312.2" cy="386.2"/><ellipse cx="312.5" cy="384.1"/><ellipse cx="312.8" cy="377.9"/><ellipse cx="313.1" cy="381.3"/><ellipse cx="313.5" cy="371.2"/><ellipse cx="313.8" cy="365.6"/><ellipse cx="314.1" cy="363.8"/><ellipse cx="314.2" cy="345.4"/><ellipse cx="314.4" cy="380.4"/><ellipse cx="314.7" cy="391.3"/><ellipse cx="315.0" cy="385.6"/><ellipse cx="315.4" cy="386.0"/><ellipse cx="315.7" cy="395.8"/><ellipse cx="315.9" cy="417.5"/><ellipse cx="316.0" cy="410.5"/><ellipse cx="316.3" cy="412.0"/><ellipse cx="316.6" cy="379.0"/><ellipse cx="317.0" cy="398.0"/><ellipse cx="317.3" cy="387.6"/><ellipse cx="317.6" cy="373.2"/><ellipse cx="317.9" cy="370.3"/><ellipse cx="318.2" cy="386.3"/><ellipse cx="318.5" cy="390.0"/><ellipse cx="318.9" cy="399.7"/><ellipse cx="319.2" cy="393.4"/><ellipse cx="319.5" cy="410.1"/><ellipse cx="319.8" cy="372.5"/><ellipse cx="320.1" cy="394.8"/><ellipse cx="320.5" cy="404.2"/><ellipse cx="320.8" cy="389.4"/><ellipse cx="321.1" cy="380.1"/><ellipse cx="321.4" cy="406.1"/><ellipse cx="321.5" cy="350.6"/><ellipse cx="321.7" cy="395.4"/><ellipse cx="322.1" cy="392.1"/><ellipse cx="322.4" cy="383.3"/><ellipse cx="322.7" cy="404.1"/><ellipse cx="323.0" cy="390.4"/><ellipse cx="323.3" cy="396.5"/><ellipse cx="323.6" cy="379.0"/><ellipse cx="324.0" cy="384.0"/><ellipse cx="324.3" cy="370.8"/><ellipse cx="324.6" cy="377.6"/><ellipse cx="324.7" cy="415.8"/><ellipse cx="324.9" cy="365.9"/><ellipse cx="325.2" cy="367.1"/><ellipse cx="325.6" cy="357.1"/><ellipse cx="325.9" cy="399.2"/><ellipse cx="326.2" cy="367.8"/><ellipse cx="326.5" cy="372.9"/><ellipse cx="326.8" cy="350.1"/><ellipse cx="327.1" cy="391.9"/><ellipse cx="327.5" cy="393.2"/><ellipse cx="327.8" cy="363.0"/><ellipse cx="328.1" cy="361.7"/><ellipse cx="328.4" cy="371.5"/><ellipse cx="328.7" cy="369.5"/><ellipse cx="329.1" cy="362.2"/><ellipse cx="329.4" cy="377.7"/><ellipse cx="329.7" cy="378.1"/><ellipse cx="330.0" cy="399.2"/><ellipse cx="330.3" cy="388.4"/><ellipse cx="330.6" cy="379.6"/><ellipse cx="331.0" cy="395.6"/><ellipse cx="331.3" cy="377.3"/><ellipse cx="331.6" cy="359.5"/><ellipse cx="331.9" cy="378.7"/><ellipse cx="332.2" cy="360.2"/><ellipse cx="332.6" cy="376.1"/><ellipse cx="332.9" cy="384.3"/><ellipse cx="333.2" cy="374.3"/><ellipse cx="333.5" cy="387.6"/><ellipse cx="333.8" cy="339.8"/><ellipse cx="333.8" cy="380.9"/><ellipse cx="334.2" cy="394.3"/><ellipse cx="334.5" cy="382.7"/><ellipse cx="334.8" cy="392.7"/><ellipse cx="335.1" cy="409.1"/><ellipse cx="335.4" cy="374.2"/><ellipse cx="335.7" cy="384.7"/><ellipse cx="335.9" cy="349.6"/><ellipse cx="336.1" cy="365.1"/><ellipse cx="336.4" cy="368.1"/><ellipse cx="336.7" cy="363.3"/><ellipse cx="337.0" cy="397.1"/><ellipse cx="337.3" cy="386.7"/><ellipse cx="337.7" cy="406.4"/><ellipse cx="338.0" cy="397.9"/><ellipse cx="338.3" cy="372.8"/><ellipse cx="338.6" cy="373.7"/><ellipse cx="338.9" cy="364.0"/><ellipse cx="339.2" cy="388.1"/><ellipse cx="339.6" cy="379.4"/><ellipse cx="339.9" cy="400.1"/><ellipse cx="340.1" cy="425.2"/><ellipse cx="340.2" cy="361.4"/><ellipse cx="340.5" cy="367.0"/><ellipse cx="340.8" cy="392.8"/><ellipse cx="341.2" cy="401.3"/><ellipse cx="341.5" cy="408.4"/><ellipse cx="341.8" cy="390.8"/><ellipse cx="342.1" cy="401.6"/><ellipse cx="342.4" cy="364.4"/><ellipse cx="342.8" cy="390.2"/><ellipse cx="343.1" cy="375.4"/><ellipse cx="343.4" cy="384.6"/><ellipse cx="343.7" cy="401.0"/><ellipse cx="344.0" cy="395.0"/><ellipse cx="344.3" cy="407.8"/><ellipse cx="344.7" cy="413.4"/><ellipse cx="345.0" cy="405.1"/><ellipse cx="345.3" cy="394.4"/><ellipse cx="345.6" cy="390.6"/><ellipse cx="345.9" cy="394.0"/><ellipse cx="346.3" cy="375.2"/><ellipse cx="346.6" cy="369.3"/><ellipse cx="346.9" cy="390.9"/><ellipse cx="347.2" cy="407.2"/><ellipse cx="347.5" cy="376.5"/><ellipse cx="347.8" cy="386.9"/><ellipse cx="348.1" cy="442.0"/><ellipse cx="348.2" cy="385.1"/><ellipse cx="348.5" cy="397.7"/><ellipse cx="348.5" cy="420.3"/><ellipse cx="348.8" cy="396.6"/><ellipse cx="349.1" cy="383.6"/><ellipse cx="349.4" cy="381.1"/><ellipse cx="349.8" cy="388.3"/><ellipse cx="350.1" cy="389.5"/><ellipse cx="350.4" cy="359.0"/><ellipse cx="350.7" cy="383.9"/><ellipse cx="350.9" cy="347.8"/><ellipse cx="351.0" cy="402.4"/><ellipse cx="351.3" cy="382.1"/><ellipse cx="351.7" cy="396.2"/><ellipse cx="352.0" cy="389.9"/><ellipse cx="352.3" cy="386.6"/><ellipse cx="352.6" cy="354.6"/><ellipse cx="352.9" cy="419.5"/><ellipse cx="353.3" cy="375.9"/><ellipse cx="353.6" cy="367.4"/><ellipse cx="353.9" cy="398.7"/><ellipse cx="354.1" cy="435.0"/><ellipse cx="354.2" cy="374.8"/><ellipse cx="354.5" cy="380.3"/><ellipse cx="354.9" cy="403.5"/><ellipse cx="355.2" cy="383.5"/><ellipse cx="355.5" cy="368.5"/><ellipse cx="355.8" cy="385.4"/><ellipse cx="356.1" cy="406.7"/><ellipse cx="356.4" cy="417.7"/><ellipse cx="356.8" cy="389.0"/><ellipse cx="357.1" cy="382.5"/><ellipse cx="357.4" cy="381.9"/><ellipse cx="357.7" cy="391.7"/><ellipse cx="358.0" cy="402.7"/><ellipse cx="358.4" cy="385.3"/><ellipse cx="358.7" cy="384.9"/><ellipse cx="359.0" cy="356.3"/><ellipse cx="359.3" cy="400.1"/><ellipse cx="359.6" cy="371.8"/><ellipse cx="359.7" cy="305.1"/><ellipse cx="359.9" cy="405.2"/><ellipse cx="360.3" cy="376.7"/><ellipse cx="360.6" cy="371.7"/><ellipse cx="360.9" cy="381.9"/><ellipse cx="361.2" cy="380.0"/><ellipse cx="361.5" cy="352.0"/><ellipse cx="361.9" cy="403.3"/><ellipse cx="362.2" cy="369.8"/><ellipse cx="362.5" cy="397.2"/><ellipse cx="362.8" cy="392.5"/><ellipse cx="363.1" cy="388.6"/><ellipse cx="363.5" cy="373.4"/><ellipse cx="363.8" cy="358.0"/><ellipse cx="364.1" cy="365.2"/><ellipse cx="364.4" cy="379.4"/><ellipse cx="364.7" cy="377.2"/><ellipse cx="365.0" cy="370.6"/><ellipse cx="365.3" cy="345.4"/><ellipse cx="365.4" cy="387.1"/><ellipse cx="365.7" cy="378.8"/><ellipse cx="366.0" cy="384.1"/><ellipse cx="366.3" cy="395.7"/><ellipse cx="366.6" cy="367.8"/><ellipse cx="367.0" cy="406.1"/><ellipse cx="367.3" cy="381.7"/><ellipse cx="367.6" cy="374.8"/><ellipse cx="367.8" cy="322.2"/><ellipse cx="367.9" cy="377.8"/><ellipse cx="368.2" cy="403.0"/><ellipse cx="368.5" cy="372.0"/><ellipse cx="368.9" cy="375.3"/><ellipse cx="369.2" cy="372.6"/><ellipse cx="369.5" cy="382.2"/><ellipse cx="369.8" cy="415.2"/><ellipse cx="370.1" cy="386.9"/><ellipse cx="370.2" cy="326.4"/><ellipse cx="370.5" cy="407.9"/><ellipse cx="370.8" cy="406.4"/><ellipse cx="371.1" cy="380.8"/><ellipse cx="371.4" cy="385.8"/><ellipse cx="371.7" cy="368.6"/><ellipse cx="372.0" cy="383.0"/><ellipse cx="372.4" cy="388.9"/><ellipse cx="372.7" cy="374.3"/><ellipse cx="373.0" cy="391.4"/><ellipse cx="373.3" cy="380.6"/><ellipse cx="373.6" cy="398.1"/><ellipse cx="373.7" cy="422.4"/><ellipse cx="374.0" cy="376.0"/><ellipse cx="374.3" cy="378.0"/><ellipse cx="374.6" cy="381.8"/><ellipse cx="374.9" cy="395.9"/><ellipse cx="375.2" cy="397.2"/><ellipse cx="375.5" cy="334.5"/><ellipse cx="375.6" cy="377.3"/><ellipse cx="375.9" cy="376.8"/><ellipse cx="376.2" cy="378.4"/><ellipse cx="376.5" cy="387.7"/><ellipse cx="376.8" cy="376.5"/><ellipse cx="377.1" cy="385.7"/><ellipse cx="377.5" cy="393.5"/><ellipse cx="377.8" cy="394.3"/><ellipse cx="378.1" cy="367.1"/><ellipse cx="378.4" cy="393.7"/><ellipse cx="378.7" cy="389.5"/><ellipse cx="379.1" cy="390.3"/><ellipse cx="379.4" cy="378.2"/><ellipse cx="379.7" cy="403.8"/><ellipse cx="380.0" cy="380.4"/><ellipse cx="380.3" cy="402.7"/><ellipse cx="380.6" cy="372.4"/><ellipse cx="381.0" cy="384.4"/><ellipse cx="381.3" cy="374.0"/><ellipse cx="381.6" cy="400.2"/><ellipse cx="381.8" cy="331.0"/><ellipse cx="381.9" cy="381.3"/><ellipse cx="382.2" cy="373.2"/><ellipse cx="382.6" cy="392.5"/><ellipse cx="382.9" cy="391.7"/><ellipse cx="383.2" cy="381.0"/><ellipse cx="383.5" cy="386.1"/><ellipse cx="383.8" cy="388.8"/><ellipse cx="384.2" cy="366.9"/><ellipse cx="384.5" cy="388.0"/><ellipse cx="384.8" cy="396.9"/><ellipse cx="385.1" cy="378.7"/><ellipse cx="385.4" cy="371.5"/><ellipse cx="385.7" cy="357.8"/><ellipse cx="386.1" cy="387.8"/><ellipse cx="386.4" cy="392.7"/><ellipse cx="386.7" cy="387.6"/><ellipse cx="387.0" cy="373.7"/><ellipse cx="387.3" cy="375.9"/><ellipse cx="387.7" cy="382.0"/><ellipse cx="388.0" cy="395.5"/><ellipse cx="388.3" cy="384.1"/><ellipse cx="388.6" cy="387.3"/><ellipse cx="388.9" cy="369.8"/><ellipse cx="389.2" cy="384.6"/><ellipse cx="389.6" cy="377.4"/><ellipse cx="389.9" cy="409.0"/><ellipse cx="390.2" cy="363.9"/><ellipse cx="390.5" cy="412.9"/><ellipse cx="390.8" cy="355.6"/><ellipse cx="391.2" cy="370.4"/><ellipse cx="391.5" cy="390.5"/><ellipse cx="391.8" cy="390.9"/><ellipse cx="392.1" cy="383.6"/><ellipse cx="392.4" cy="358.8"/><ellipse cx="392.7" cy="392.2"/><ellipse cx="393.1" cy="379.2"/><ellipse cx="393.4" cy="365.1"/><ellipse cx="393.7" cy="363.4"/><ellipse cx="394.0" cy="384.8"/><ellipse cx="394.3" cy="370.9"/><ellipse cx="394.7" cy="369.3"/><ellipse cx="394.7" cy="419.3"/><ellipse cx="395.0" cy="359.6"/><ellipse cx="395.3" cy="366.2"/><ellipse cx="395.6" cy="380.1"/><ellipse cx="395.9" cy="401.4"/><ellipse cx="396.3" cy="376.9"/><ellipse cx="396.6" cy="371.2"/><ellipse cx="396.9" cy="398.6"/><ellipse cx="397.2" cy="400.6"/><ellipse cx="397.5" cy="349.0"/><ellipse cx="397.8" cy="406.6"/><ellipse cx="398.2" cy="362.2"/><ellipse cx="398.5" cy="385.5"/><ellipse cx="398.8" cy="361.0"/><ellipse cx="399.1" cy="370.7"/><ellipse cx="399.4" cy="386.3"/><ellipse cx="399.8" cy="402.5"/><ellipse cx="400.1" cy="405.0"/><ellipse cx="400.4" cy="388.3"/><ellipse cx="400.7" cy="380.6"/><ellipse cx="401.0" cy="365.3"/><ellipse cx="401.3" cy="383.8"/><ellipse cx="401.7" cy="395.0"/><ellipse cx="402.0" cy="404.6"/><ellipse cx="402.3" cy="399.8"/><ellipse cx="402.6" cy="396.6"/><ellipse cx="402.9" cy="365.9"/><ellipse cx="403.3" cy="377.0"/><ellipse cx="403.6" cy="373.9"/><ellipse cx="403.9" cy="375.6"/><ellipse cx="404.2" cy="388.5"/><ellipse cx="404.5" cy="396.3"/><ellipse cx="404.9" cy="372.9"/><ellipse cx="405.2" cy="375.4"/><ellipse cx="405.3" cy="423.5"/><ellipse cx="405.5" cy="394.5"/><ellipse cx="405.8" cy="391.1"/><ellipse cx="406.1" cy="379.5"/><ellipse cx="406.4" cy="374.9"/><ellipse cx="406.8" cy="401.8"/><ellipse cx="407.1" cy="418.4"/><ellipse cx="407.4" cy="370.2"/><ellipse cx="407.7" cy="409.6"/><ellipse cx="408.0" cy="382.8"/><ellipse cx="408.4" cy="364.5"/><ellipse cx="408.7" cy="397.9"/><ellipse cx="409.0" cy="379.7"/><ellipse cx="409.3" cy="393.2"/><ellipse cx="409.6" cy="383.4"/><ellipse cx="409.9" cy="362.9"/><ellipse cx="410.3" cy="413.3"/><ellipse cx="410.6" cy="396.4"/><ellipse cx="410.9" cy="392.0"/><ellipse cx="411.2" cy="379.9"/><ellipse cx="411.5" cy="371.8"/><ellipse cx="411.9" cy="399.0"/><ellipse cx="412.2" cy="378.1"/><ellipse cx="412.3" cy="345.0"/><ellipse cx="412.5" cy="356.5"/><ellipse cx="412.8" cy="404.2"/><ellipse cx="413.1" cy="407.5"/><ellipse cx="413.4" cy="390.8"/><ellipse cx="413.5" cy="345.4"/><ellipse cx="413.8" cy="393.1"/><ellipse cx="414.1" cy="368.8"/><ellipse cx="414.4" cy="352.4"/><ellipse cx="414.7" cy="400.9"/><ellipse cx="415.0" cy="383.3"/><ellipse cx="415.4" cy="389.3"/><ellipse cx="415.7" cy="394.6"/><ellipse cx="416.0" cy="385.3"/><ellipse cx="416.3" cy="372.2"/><ellipse cx="416.6" cy="385.1"/><ellipse cx="417.0" cy="382.1"/><ellipse cx="417.0" cy="426.3"/><ellipse cx="417.3" cy="353.7"/><ellipse cx="417.6" cy="389.2"/><ellipse cx="417.9" cy="390.0"/><ellipse cx="418.2" cy="399.8"/><ellipse cx="418.5" cy="395.2"/><ellipse cx="418.9" cy="379.3"/><ellipse cx="419.2" cy="398.5"/><ellipse cx="419.5" cy="360.8"/><ellipse cx="419.8" cy="347.8"/><ellipse cx="419.8" cy="393.9"/><ellipse cx="420.1" cy="376.3"/><ellipse cx="420.5" cy="388.6"/><ellipse cx="420.8" cy="399.4"/><ellipse cx="421.1" cy="390.6"/><ellipse cx="421.4" cy="386.0"/><ellipse cx="421.7" cy="410.7"/><ellipse cx="422.0" cy="391.8"/><ellipse cx="422.4" cy="386.8"/><ellipse cx="422.7" cy="387.0"/><ellipse cx="423.0" cy="384.9"/><ellipse cx="423.3" cy="367.6"/><ellipse cx="423.6" cy="374.7"/><ellipse cx="424.0" cy="364.0"/><ellipse cx="424.3" cy="382.7"/><ellipse cx="424.6" cy="369.5"/><ellipse cx="424.9" cy="362.0"/><ellipse cx="425.2" cy="386.6"/><ellipse cx="425.6" cy="382.5"/><ellipse cx="425.9" cy="368.3"/><ellipse cx="426.2" cy="381.3"/><ellipse cx="426.5" cy="392.9"/><ellipse cx="426.8" cy="405.6"/><ellipse cx="427.1" cy="389.8"/><ellipse cx="427.5" cy="408.8"/><ellipse cx="427.8" cy="402.0"/><ellipse cx="428.1" cy="397.5"/><ellipse cx="428.4" cy="373.4"/><ellipse cx="428.7" cy="366.3"/><ellipse cx="429.1" cy="360.2"/><ellipse cx="429.4" cy="390.4"/><ellipse cx="429.7" cy="395.2"/><ellipse cx="430.0" cy="355.0"/><ellipse cx="430.3" cy="379.5"/><ellipse cx="430.6" cy="408.4"/><ellipse cx="431.0" cy="384.9"/><ellipse cx="431.3" cy="382.3"/><ellipse cx="431.6" cy="401.5"/><ellipse cx="431.9" cy="372.3"/><ellipse cx="432.2" cy="377.3"/><ellipse cx="432.6" cy="395.0"/><ellipse cx="432.9" cy="394.7"/><ellipse cx="433.2" cy="370.4"/><ellipse cx="433.5" cy="382.6"/><ellipse cx="433.8" cy="380.8"/><ellipse cx="434.2" cy="406.8"/><ellipse cx="434.5" cy="393.8"/><ellipse cx="434.8" cy="403.9"/><ellipse cx="435.1" cy="392.6"/><ellipse cx="435.4" cy="407.7"/><ellipse cx="435.7" cy="365.8"/><ellipse cx="436.1" cy="383.5"/><ellipse cx="436.4" cy="352.7"/><ellipse cx="436.7" cy="364.0"/><ellipse cx="437.0" cy="374.1"/><ellipse cx="437.3" cy="384.1"/><ellipse cx="437.7" cy="402.3"/><ellipse cx="438.0" cy="365.3"/><ellipse cx="438.3" cy="360.2"/><ellipse cx="438.6" cy="406.4"/><ellipse cx="438.9" cy="394.6"/><ellipse cx="439.1" cy="444.9"/><ellipse cx="439.2" cy="375.5"/><ellipse cx="439.6" cy="402.0"/><ellipse cx="439.9" cy="366.3"/><ellipse cx="440.1" cy="433.3"/><ellipse cx="440.2" cy="381.4"/><ellipse cx="440.5" cy="387.6"/><ellipse cx="440.8" cy="398.7"/><ellipse cx="441.2" cy="403.4"/><ellipse cx="441.5" cy="367.6"/><ellipse cx="441.8" cy="385.7"/><ellipse cx="442.1" cy="381.5"/><ellipse cx="442.4" cy="366.7"/><ellipse cx="442.6" cy="353.1"/><ellipse cx="442.7" cy="391.4"/><ellipse cx="443.1" cy="386.6"/><ellipse cx="443.3" cy="428.7"/><ellipse cx="443.4" cy="377.4"/><ellipse cx="443.7" cy="383.9"/><ellipse cx="444.0" cy="386.7"/><ellipse cx="444.3" cy="349.2"/><ellipse cx="444.7" cy="377.2"/><ellipse cx="445.0" cy="376.7"/><ellipse cx="445.3" cy="384.3"/><ellipse cx="445.6" cy="395.9"/><ellipse cx="445.9" cy="377.7"/><ellipse cx="446.3" cy="391.6"/><ellipse cx="446.6" cy="364.9"/><ellipse cx="446.9" cy="383.8"/><ellipse cx="447.2" cy="398.4"/><ellipse cx="447.5" cy="379.7"/><ellipse cx="447.8" cy="417.7"/><ellipse cx="448.2" cy="369.3"/><ellipse cx="448.5" cy="374.5"/><ellipse cx="448.8" cy="381.1"/><ellipse cx="449.1" cy="373.4"/><ellipse cx="449.4" cy="359.3"/><ellipse cx="449.8" cy="376.6"/><ellipse cx="450.1" cy="400.1"/><ellipse cx="450.4" cy="388.3"/><ellipse cx="450.7" cy="379.0"/><ellipse cx="451.0" cy="409.4"/><ellipse cx="451.3" cy="402.7"/><ellipse cx="451.7" cy="388.1"/><ellipse cx="452.0" cy="363.2"/><ellipse cx="452.3" cy="401.5"/><ellipse cx="452.6" cy="386.0"/><ellipse cx="452.9" cy="378.6"/><ellipse cx="453.3" cy="383.3"/><ellipse cx="453.6" cy="365.9"/><ellipse cx="453.9" cy="371.4"/><ellipse cx="454.2" cy="362.7"/><ellipse cx="454.5" cy="385.2"/><ellipse cx="454.9" cy="391.2"/><ellipse cx="455.2" cy="392.9"/><ellipse cx="455.5" cy="390.8"/><ellipse cx="455.8" cy="390.2"/><ellipse cx="456.1" cy="394.0"/><ellipse cx="456.4" cy="369.6"/><ellipse cx="456.8" cy="378.2"/><ellipse cx="457.1" cy="369.2"/><ellipse cx="457.4" cy="374.0"/><ellipse cx="457.7" cy="385.1"/><ellipse cx="458.0" cy="377.9"/><ellipse cx="458.4" cy="367.8"/><ellipse cx="458.7" cy="375.9"/><ellipse cx="459.0" cy="399.9"/><ellipse cx="459.3" cy="404.6"/><ellipse cx="459.6" cy="371.1"/><ellipse cx="459.9" cy="379.1"/><ellipse cx="460.3" cy="405.6"/><ellipse cx="460.6" cy="387.2"/><ellipse cx="460.9" cy="405.8"/><ellipse cx="461.2" cy="375.7"/><ellipse cx="461.5" cy="368.3"/><ellipse cx="461.9" cy="380.1"/><ellipse cx="462.2" cy="381.9"/><ellipse cx="462.5" cy="392.5"/><ellipse cx="462.8" cy="404.8"/><ellipse cx="463.1" cy="384.6"/><ellipse cx="463.4" cy="372.5"/><ellipse cx="463.8" cy="389.8"/><ellipse cx="464.1" cy="387.5"/><ellipse cx="464.4" cy="388.7"/><ellipse cx="464.7" cy="375.2"/><ellipse cx="465.0" cy="387.8"/><ellipse cx="465.4" cy="389.6"/><ellipse cx="465.7" cy="398.0"/><ellipse cx="466.0" cy="389.4"/><ellipse cx="466.3" cy="395.6"/><ellipse cx="466.6" cy="378.3"/><ellipse cx="467.0" cy="413.3"/><ellipse cx="467.3" cy="378.7"/><ellipse cx="467.6" cy="392.2"/><ellipse cx="467.9" cy="367.2"/><ellipse cx="468.2" cy="401.0"/><ellipse cx="468.5" cy="426.3"/><ellipse cx="468.5" cy="399.8"/><ellipse cx="468.9" cy="361.8"/><ellipse cx="469.2" cy="409.5"/><ellipse cx="469.5" cy="411.0"/><ellipse cx="469.8" cy="376.1"/><ellipse cx="470.1" cy="412.7"/><ellipse cx="470.5" cy="381.7"/><ellipse cx="470.8" cy="380.3"/><ellipse cx="471.1" cy="386.9"/><ellipse cx="471.4" cy="389.0"/><ellipse cx="471.7" cy="397.2"/><ellipse cx="472.0" cy="391.1"/><ellipse cx="472.4" cy="359.2"/><ellipse cx="472.7" cy="382.6"/><ellipse cx="473.0" cy="389.1"/><ellipse cx="473.3" cy="368.5"/><ellipse cx="473.6" cy="370.0"/><ellipse cx="474.0" cy="374.4"/><ellipse cx="474.3" cy="407.5"/><ellipse cx="474.6" cy="390.5"/><ellipse cx="474.9" cy="397.1"/><ellipse cx="475.2" cy="332.8"/><ellipse cx="475.2" cy="377.0"/><ellipse cx="475.6" cy="386.4"/><ellipse cx="475.9" cy="385.8"/><ellipse cx="476.2" cy="373.6"/><ellipse cx="476.5" cy="374.9"/><ellipse cx="476.8" cy="360.7"/><ellipse cx="477.1" cy="382.9"/><ellipse cx="477.5" cy="388.6"/><ellipse cx="477.8" cy="399.2"/><ellipse cx="478.1" cy="395.4"/><ellipse cx="478.4" cy="396.5"/><ellipse cx="478.7" cy="400.6"/><ellipse cx="479.1" cy="380.6"/><ellipse cx="479.4" cy="381.2"/><ellipse cx="479.4" cy="338.0"/><ellipse cx="479.7" cy="355.7"/><ellipse cx="480.0" cy="399.2"/><ellipse cx="480.1" cy="437.5"/><ellipse cx="480.3" cy="383.6"/><ellipse cx="480.6" cy="396.1"/><ellipse cx="481.0" cy="364.6"/><ellipse cx="481.3" cy="393.2"/><ellipse cx="481.6" cy="386.2"/><ellipse cx="481.9" cy="380.4"/><ellipse cx="482.2" cy="363.8"/><ellipse cx="482.6" cy="393.4"/><ellipse cx="482.9" cy="387.4"/><ellipse cx="483.2" cy="385.5"/><ellipse cx="483.5" cy="373.1"/><ellipse cx="483.8" cy="388.5"/><ellipse cx="484.1" cy="357.3"/><ellipse cx="484.5" cy="372.8"/><ellipse cx="484.8" cy="374.8"/><ellipse cx="485.1" cy="372.0"/><ellipse cx="485.4" cy="370.6"/><ellipse cx="485.7" cy="417.9"/><ellipse cx="486.1" cy="379.9"/><ellipse cx="486.4" cy="371.6"/><ellipse cx="486.7" cy="383.0"/><ellipse cx="487.0" cy="392.1"/><ellipse cx="487.3" cy="394.3"/><ellipse cx="487.7" cy="397.6"/><ellipse cx="488.0" cy="368.7"/><ellipse cx="488.3" cy="379.3"/><ellipse cx="488.6" cy="384.6"/><ellipse cx="488.9" cy="361.4"/><ellipse cx="489.2" cy="391.8"/><ellipse cx="489.6" cy="403.0"/><ellipse cx="489.9" cy="370.8"/><ellipse cx="490.2" cy="396.8"/><ellipse cx="490.5" cy="382.2"/><ellipse cx="490.8" cy="397.8"/><ellipse cx="491.2" cy="390.0"/><ellipse cx="491.5" cy="358.6"/><ellipse cx="491.8" cy="393.6"/><ellipse cx="492.1" cy="376.3"/><ellipse cx="492.4" cy="362.3"/><ellipse cx="492.7" cy="372.7"/><ellipse cx="493.1" cy="396.5"/><ellipse cx="493.4" cy="377.5"/><ellipse cx="493.7" cy="418.0"/><ellipse cx="494.0" cy="376.9"/><ellipse cx="494.1" cy="423.8"/><ellipse cx="494.3" cy="380.6"/><ellipse cx="494.7" cy="392.1"/><ellipse cx="494.8" cy="431.5"/><ellipse cx="495.0" cy="387.0"/><ellipse cx="495.3" cy="370.1"/><ellipse cx="495.6" cy="380.5"/><ellipse cx="495.9" cy="381.2"/><ellipse cx="496.3" cy="392.3"/><ellipse cx="496.6" cy="379.4"/><ellipse cx="496.9" cy="402.9"/><ellipse cx="497.2" cy="383.5"/><ellipse cx="497.5" cy="389.8"/><ellipse cx="497.8" cy="368.1"/><ellipse cx="498.2" cy="398.5"/><ellipse cx="498.5" cy="381.7"/><ellipse cx="498.8" cy="366.8"/><ellipse cx="499.1" cy="363.6"/><ellipse cx="499.4" cy="372.1"/><ellipse cx="499.8" cy="386.5"/><ellipse cx="500.1" cy="401.8"/><ellipse cx="500.4" cy="398.1"/><ellipse cx="500.7" cy="391.1"/><ellipse cx="501.0" cy="406.0"/><ellipse cx="501.3" cy="378.8"/><ellipse cx="501.7" cy="401.3"/><ellipse cx="502.0" cy="357.5"/><ellipse cx="502.3" cy="358.5"/><ellipse cx="502.6" cy="375.5"/><ellipse cx="502.9" cy="349.6"/><ellipse cx="502.9" cy="387.3"/><ellipse cx="503.3" cy="379.2"/><ellipse cx="503.6" cy="362.1"/><ellipse cx="503.9" cy="362.4"/><ellipse cx="504.2" cy="400.3"/><ellipse cx="504.5" cy="384.9"/><ellipse cx="504.8" cy="351.6"/><ellipse cx="505.2" cy="361.1"/><ellipse cx="505.5" cy="372.3"/><ellipse cx="505.8" cy="384.5"/><ellipse cx="506.1" cy="380.1"/><ellipse cx="506.4" cy="371.6"/><ellipse cx="506.8" cy="382.4"/><ellipse cx="507.1" cy="396.1"/><ellipse cx="507.4" cy="374.9"/><ellipse cx="507.7" cy="387.4"/><ellipse cx="508.0" cy="385.2"/><ellipse cx="508.4" cy="371.5"/><ellipse cx="508.7" cy="379.6"/><ellipse cx="509.0" cy="393.9"/><ellipse cx="509.3" cy="399.1"/><ellipse cx="509.6" cy="370.8"/><ellipse cx="509.9" cy="374.2"/><ellipse cx="510.3" cy="387.7"/><ellipse cx="510.6" cy="388.4"/><ellipse cx="510.9" cy="360.8"/><ellipse cx="511.2" cy="373.3"/><ellipse cx="511.5" cy="394.8"/><ellipse cx="511.9" cy="404.2"/><ellipse cx="512.2" cy="355.3"/><ellipse cx="512.5" cy="391.5"/><ellipse cx="512.8" cy="409.5"/><ellipse cx="513.1" cy="390.2"/><ellipse cx="513.4" cy="368.5"/><ellipse cx="513.8" cy="365.7"/><ellipse cx="514.1" cy="376.3"/><ellipse cx="514.4" cy="383.3"/><ellipse cx="514.7" cy="391.6"/><ellipse cx="515.0" cy="393.3"/><ellipse cx="515.4" cy="400.0"/><ellipse cx="515.7" cy="388.7"/><ellipse cx="516.0" cy="386.9"/><ellipse cx="516.3" cy="373.0"/><ellipse cx="516.6" cy="367.2"/><ellipse cx="517.0" cy="410.5"/><ellipse cx="517.3" cy="407.7"/><ellipse cx="517.6" cy="375.2"/><ellipse cx="517.9" cy="382.3"/><ellipse cx="518.2" cy="393.5"/><ellipse cx="518.5" cy="400.7"/><ellipse cx="518.6" cy="430.5"/><ellipse cx="518.9" cy="382.7"/><ellipse cx="519.2" cy="391.0"/><ellipse cx="519.5" cy="359.6"/><ellipse cx="519.8" cy="382.2"/><ellipse cx="520.1" cy="390.5"/><ellipse cx="520.5" cy="385.5"/><ellipse cx="520.8" cy="398.8"/><ellipse cx="521.1" cy="394.4"/><ellipse cx="521.4" cy="369.3"/><ellipse cx="521.7" cy="349.9"/><ellipse cx="522.0" cy="405.4"/><ellipse cx="522.4" cy="365.6"/><ellipse cx="522.7" cy="364.7"/><ellipse cx="522.8" cy="428.0"/><ellipse cx="523.0" cy="377.8"/><ellipse cx="523.3" cy="383.8"/><ellipse cx="523.6" cy="387.8"/><ellipse cx="523.9" cy="423.8"/><ellipse cx="524.0" cy="380.3"/><ellipse cx="524.3" cy="415.4"/><ellipse cx="524.6" cy="376.1"/><ellipse cx="524.9" cy="403.2"/><ellipse cx="525.2" cy="378.4"/><ellipse cx="525.6" cy="393.1"/><ellipse cx="525.9" cy="406.8"/><ellipse cx="526.2" cy="370.3"/><ellipse cx="526.5" cy="373.7"/><ellipse cx="526.8" cy="392.5"/><ellipse cx="527.1" cy="381.9"/><ellipse cx="527.5" cy="369.7"/><ellipse cx="527.8" cy="388.8"/><ellipse cx="528.1" cy="367.6"/><ellipse cx="528.4" cy="395.9"/><ellipse cx="528.7" cy="390.6"/><ellipse cx="529.1" cy="394.2"/><ellipse cx="529.4" cy="403.5"/><ellipse cx="529.7" cy="397.0"/><ellipse cx="530.0" cy="375.0"/><ellipse cx="530.3" cy="405.1"/><ellipse cx="530.5" cy="347.8"/><ellipse cx="530.6" cy="378.0"/><ellipse cx="531.0" cy="371.1"/><ellipse cx="531.3" cy="385.4"/><ellipse cx="531.6" cy="395.6"/><ellipse cx="531.9" cy="408.0"/><ellipse cx="532.2" cy="395.1"/><ellipse cx="532.6" cy="386.4"/><ellipse cx="532.9" cy="384.0"/><ellipse cx="533.2" cy="373.9"/><ellipse cx="533.5" cy="381.4"/><ellipse cx="533.8" cy="372.8"/><ellipse cx="534.1" cy="368.9"/><ellipse cx="534.5" cy="377.3"/><ellipse cx="534.8" cy="360.1"/><ellipse cx="535.1" cy="379.0"/><ellipse cx="535.4" cy="389.3"/><ellipse cx="535.7" cy="378.2"/><ellipse cx="536.1" cy="392.8"/><ellipse cx="536.4" cy="364.1"/><ellipse cx="536.7" cy="399.8"/><ellipse cx="537.0" cy="409.2"/><ellipse cx="537.3" cy="384.6"/><ellipse cx="537.7" cy="402.2"/><ellipse cx="538.0" cy="388.2"/><ellipse cx="538.3" cy="389.7"/><ellipse cx="538.6" cy="386.1"/><ellipse cx="538.9" cy="376.7"/><ellipse cx="539.2" cy="413.9"/><ellipse cx="539.6" cy="380.9"/><ellipse cx="539.9" cy="389.1"/><ellipse cx="540.2" cy="384.2"/><ellipse cx="540.5" cy="375.8"/><ellipse cx="540.7" cy="337.3"/><ellipse cx="540.8" cy="374.5"/><ellipse cx="541.2" cy="385.7"/><ellipse cx="541.5" cy="397.5"/><ellipse cx="541.8" cy="366.5"/><ellipse cx="542.1" cy="396.7"/><ellipse cx="542.4" cy="364.3"/><ellipse cx="542.7" cy="383.0"/><ellipse cx="543.1" cy="397.7"/>
</g>
<g class="m1">
<ellipse cx="543.4" cy="365.6"/><ellipse cx="543.7" cy="369.2"/><ellipse cx="544.0" cy="373.5"/><ellipse cx="544.3" cy="360.8"/><ellipse cx="544.7" cy="394.0"/><ellipse cx="545.0" cy="385.2"/><ellipse cx="545.3" cy="418.4"/><ellipse cx="545.6" cy="412.6"/><ellipse cx="545.9" cy="369.6"/><ellipse cx="546.3" cy="356.9"/><ellipse cx="546.6" cy="372.4"/><ellipse cx="546.9" cy="411.5"/><ellipse cx="547.2" cy="378.7"/><ellipse cx="547.5" cy="407.0"/><ellipse cx="547.8" cy="384.5"/><ellipse cx="548.2" cy="423.2"/><ellipse cx="548.5" cy="378.8"/><ellipse cx="548.8" cy="342.5"/><ellipse cx="549.1" cy="362.8"/><ellipse cx="549.4" cy="420.6"/><ellipse cx="549.8" cy="351.2"/><ellipse cx="550.1" cy="366.9"/><ellipse cx="550.2" cy="338.4"/><ellipse cx="550.2" cy="429.1"/><ellipse cx="550.4" cy="410.4"/><ellipse cx="550.7" cy="386.2"/><ellipse cx="551.0" cy="381.8"/><ellipse cx="551.3" cy="425.7"/><ellipse cx="551.7" cy="391.1"/><ellipse cx="552.0" cy="371.2"/><ellipse cx="552.3" cy="341.9"/><ellipse cx="552.6" cy="400.4"/><ellipse cx="552.9" cy="343.8"/><ellipse cx="553.3" cy="366.0"/><ellipse cx="553.6" cy="382.6"/><ellipse cx="553.7" cy="342.6"/><ellipse cx="553.9" cy="343.6"/><ellipse cx="554.2" cy="379.3"/><ellipse cx="554.5" cy="414.0"/><ellipse cx="554.7" cy="436.1"/><ellipse cx="554.8" cy="394.7"/><ellipse cx="555.2" cy="360.1"/><ellipse cx="555.5" cy="350.0"/><ellipse cx="555.8" cy="421.6"/><ellipse cx="556.1" cy="361.6"/><ellipse cx="556.4" cy="413.4"/><ellipse cx="556.8" cy="389.4"/><ellipse cx="557.1" cy="379.8"/><ellipse cx="557.4" cy="383.7"/><ellipse cx="557.7" cy="352.9"/><ellipse cx="558.0" cy="390.7"/><ellipse cx="558.4" cy="351.7"/><ellipse cx="558.7" cy="354.4"/><ellipse cx="559.0" cy="402.1"/><ellipse cx="559.3" cy="411.9"/><ellipse cx="559.6" cy="395.8"/><ellipse cx="559.9" cy="386.8"/><ellipse cx="560.3" cy="384.2"/><ellipse cx="560.6" cy="388.8"/><ellipse cx="560.9" cy="393.6"/><ellipse cx="561.2" cy="416.8"/><ellipse cx="561.5" cy="402.6"/><ellipse cx="561.9" cy="378.1"/><ellipse cx="562.2" cy="383.0"/><ellipse cx="562.5" cy="397.2"/><ellipse cx="562.8" cy="377.6"/><ellipse cx="563.1" cy="405.6"/><ellipse cx="563.4" cy="355.9"/><ellipse cx="563.8" cy="377.1"/><ellipse cx="564.1" cy="388.4"/><ellipse cx="564.2" cy="333.8"/><ellipse cx="564.4" cy="387.3"/><ellipse cx="564.7" cy="386.4"/><ellipse cx="565.0" cy="367.7"/><ellipse cx="565.4" cy="408.4"/><ellipse cx="565.7" cy="390.1"/><ellipse cx="566.0" cy="362.3"/><ellipse cx="566.3" cy="393.0"/><ellipse cx="566.6" cy="374.2"/><ellipse cx="567.0" cy="392.7"/><ellipse cx="567.3" cy="424.8"/><ellipse cx="567.6" cy="345.0"/><ellipse cx="567.7" cy="442.7"/><ellipse cx="567.9" cy="365.1"/><ellipse cx="568.2" cy="373.3"/><ellipse cx="568.4" cy="336.3"/><ellipse cx="568.5" cy="419.3"/><ellipse cx="568.9" cy="358.6"/><ellipse cx="569.2" cy="382.1"/><ellipse cx="569.5" cy="406.2"/><ellipse cx="569.8" cy="409.8"/><ellipse cx="570.1" cy="371.9"/><ellipse cx="570.5" cy="370.0"/><ellipse cx="570.8" cy="398.7"/><ellipse cx="571.1" cy="348.1"/><ellipse cx="571.2" cy="444.5"/><ellipse cx="571.4" cy="367.0"/><ellipse cx="571.7" cy="372.6"/><ellipse cx="571.9" cy="451.5"/><ellipse cx="572.0" cy="422.6"/><ellipse cx="572.4" cy="418.0"/><ellipse cx="572.7" cy="385.5"/><ellipse cx="573.0" cy="394.8"/><ellipse cx="573.3" cy="358.0"/><ellipse cx="573.6" cy="357.0"/><ellipse cx="574.0" cy="391.5"/><ellipse cx="574.3" cy="409.0"/><ellipse cx="574.6" cy="345.5"/><ellipse cx="574.7" cy="308.9"/><ellipse cx="574.9" cy="416.0"/><ellipse cx="575.2" cy="375.0"/><ellipse cx="575.4" cy="319.8"/><ellipse cx="575.5" cy="376.5"/><ellipse cx="575.9" cy="399.1"/><ellipse cx="576.2" cy="388.0"/><ellipse cx="576.5" cy="374.8"/><ellipse cx="576.8" cy="397.5"/><ellipse cx="577.1" cy="349.3"/><ellipse cx="577.5" cy="361.3"/><ellipse cx="577.8" cy="381.0"/><ellipse cx="578.1" cy="407.9"/><ellipse cx="578.2" cy="428.0"/><ellipse cx="578.4" cy="380.7"/><ellipse cx="578.7" cy="404.2"/><ellipse cx="579.1" cy="363.4"/><ellipse cx="579.4" cy="398.1"/><ellipse cx="579.7" cy="403.6"/><ellipse cx="580.0" cy="420.7"/><ellipse cx="580.3" cy="363.5"/><ellipse cx="580.6" cy="399.7"/><ellipse cx="581.0" cy="401.1"/><ellipse cx="581.0" cy="330.3"/><ellipse cx="581.3" cy="340.3"/><ellipse cx="581.6" cy="346.6"/><ellipse cx="581.9" cy="404.7"/><ellipse cx="582.2" cy="346.0"/><ellipse cx="582.6" cy="392.0"/><ellipse cx="582.9" cy="414.7"/><ellipse cx="583.2" cy="376.7"/><ellipse cx="583.5" cy="402.8"/><ellipse cx="583.8" cy="380.4"/><ellipse cx="584.1" cy="424.5"/><ellipse cx="584.5" cy="347.4"/><ellipse cx="584.8" cy="375.3"/><ellipse cx="585.1" cy="389.5"/><ellipse cx="585.2" cy="441.0"/><ellipse cx="585.4" cy="368.7"/><ellipse cx="585.7" cy="359.5"/><ellipse cx="586.1" cy="352.5"/><ellipse cx="586.4" cy="376.1"/><ellipse cx="586.7" cy="353.6"/><ellipse cx="587.0" cy="350.2"/><ellipse cx="587.3" cy="395.5"/><ellipse cx="587.7" cy="368.0"/><ellipse cx="588.0" cy="355.6"/><ellipse cx="588.3" cy="396.4"/><ellipse cx="588.6" cy="383.4"/><ellipse cx="588.9" cy="359.0"/><ellipse cx="589.2" cy="400.5"/><ellipse cx="589.6" cy="370.5"/><ellipse cx="589.9" cy="354.8"/><ellipse cx="590.2" cy="364.7"/><ellipse cx="590.5" cy="415.8"/><ellipse cx="590.8" cy="406.9"/><ellipse cx="591.2" cy="371.6"/><ellipse cx="591.5" cy="364.0"/>
</g>
<g class="m2">
<ellipse cx="591.8" cy="417.3"/><ellipse cx="592.1" cy="354.2"/><ellipse cx="592.4" cy="372.4"/><ellipse cx="592.7" cy="398.5"/><ellipse cx="593.1" cy="406.3"/><ellipse cx="593.4" cy="389.8"/><ellipse cx="593.7" cy="422.3"/><ellipse cx="594.0" cy="407.8"/><ellipse cx="594.3" cy="366.6"/><ellipse cx="594.7" cy="382.6"/><ellipse cx="595.0" cy="365.9"/><ellipse cx="595.0" cy="436.1"/><ellipse cx="595.3" cy="391.6"/><ellipse cx="595.6" cy="399.1"/><ellipse cx="595.9" cy="350.0"/><ellipse cx="596.2" cy="374.8"/><ellipse cx="596.6" cy="418.2"/><ellipse cx="596.9" cy="376.3"/><ellipse cx="597.2" cy="401.4"/><ellipse cx="597.5" cy="375.0"/><ellipse cx="597.8" cy="392.7"/><ellipse cx="598.2" cy="362.5"/><ellipse cx="598.5" cy="367.2"/><ellipse cx="598.8" cy="373.3"/><ellipse cx="599.1" cy="401.0"/><ellipse cx="599.2" cy="351.3"/><ellipse cx="599.4" cy="364.6"/><ellipse cx="599.8" cy="395.3"/><ellipse cx="600.1" cy="386.8"/><ellipse cx="600.4" cy="370.5"/><ellipse cx="600.7" cy="360.1"/><ellipse cx="601.0" cy="398.7"/><ellipse cx="601.3" cy="373.9"/><ellipse cx="601.7" cy="352.7"/><ellipse cx="602.0" cy="382.9"/><ellipse cx="602.3" cy="390.1"/><ellipse cx="602.6" cy="369.9"/><ellipse cx="602.9" cy="371.5"/><ellipse cx="603.3" cy="398.1"/><ellipse cx="603.6" cy="383.5"/><ellipse cx="603.9" cy="390.9"/><ellipse cx="604.1" cy="471.1"/><ellipse cx="604.2" cy="393.8"/><ellipse cx="604.5" cy="350.6"/><ellipse cx="604.5" cy="381.7"/><ellipse cx="604.8" cy="376.1"/><ellipse cx="605.2" cy="372.9"/><ellipse cx="605.5" cy="393.2"/><ellipse cx="605.8" cy="379.1"/><ellipse cx="606.1" cy="380.3"/><ellipse cx="606.4" cy="384.7"/><ellipse cx="606.8" cy="415.6"/><ellipse cx="607.1" cy="395.2"/><ellipse cx="607.4" cy="376.8"/><ellipse cx="607.7" cy="386.9"/><ellipse cx="608.0" cy="385.9"/><ellipse cx="608.4" cy="393.6"/><ellipse cx="608.7" cy="392.6"/><ellipse cx="609.0" cy="363.9"/><ellipse cx="609.3" cy="378.3"/><ellipse cx="609.6" cy="365.0"/><ellipse cx="609.9" cy="403.8"/><ellipse cx="610.3" cy="411.4"/><ellipse cx="610.6" cy="397.6"/><ellipse cx="610.9" cy="351.7"/><ellipse cx="611.2" cy="396.3"/><ellipse cx="611.5" cy="449.4"/><ellipse cx="611.5" cy="416.7"/><ellipse cx="611.9" cy="412.8"/><ellipse cx="612.2" cy="421.8"/><ellipse cx="612.2" cy="334.9"/><ellipse cx="612.5" cy="358.5"/><ellipse cx="612.8" cy="419.9"/><ellipse cx="613.1" cy="394.7"/><ellipse cx="613.4" cy="368.8"/><ellipse cx="613.8" cy="375.5"/><ellipse cx="614.1" cy="406.7"/><ellipse cx="614.3" cy="434.3"/><ellipse cx="614.4" cy="408.7"/><ellipse cx="614.7" cy="387.3"/><ellipse cx="615.0" cy="341.9"/><ellipse cx="615.0" cy="377.1"/><ellipse cx="615.4" cy="385.6"/><ellipse cx="615.7" cy="420.5"/><ellipse cx="616.0" cy="360.9"/><ellipse cx="616.3" cy="358.0"/><ellipse cx="616.6" cy="387.7"/><ellipse cx="617.0" cy="394.4"/><ellipse cx="617.3" cy="410.1"/><ellipse cx="617.4" cy="345.4"/><ellipse cx="617.6" cy="378.4"/><ellipse cx="617.9" cy="389.5"/><ellipse cx="618.2" cy="379.2"/><ellipse cx="618.5" cy="379.9"/><ellipse cx="618.9" cy="388.2"/><ellipse cx="619.2" cy="396.6"/><ellipse cx="619.5" cy="369.1"/><ellipse cx="619.8" cy="378.0"/><ellipse cx="620.1" cy="388.9"/><ellipse cx="620.5" cy="367.8"/><ellipse cx="620.8" cy="371.2"/><ellipse cx="621.1" cy="368.5"/><ellipse cx="621.4" cy="382.1"/><ellipse cx="621.7" cy="373.1"/><ellipse cx="622.0" cy="381.2"/><ellipse cx="622.4" cy="377.3"/><ellipse cx="622.7" cy="405.3"/><ellipse cx="623.0" cy="392.2"/><ellipse cx="623.3" cy="395.8"/><ellipse cx="623.6" cy="353.5"/><ellipse cx="624.0" cy="365.5"/><ellipse cx="624.3" cy="408.9"/><ellipse cx="624.4" cy="299.8"/><ellipse cx="624.4" cy="430.8"/><ellipse cx="624.6" cy="419.5"/><ellipse cx="624.9" cy="356.9"/><ellipse cx="625.2" cy="400.8"/><ellipse cx="625.5" cy="413.3"/><ellipse cx="625.9" cy="416.3"/><ellipse cx="626.2" cy="406.0"/><ellipse cx="626.5" cy="404.1"/><ellipse cx="626.8" cy="405.1"/><ellipse cx="627.1" cy="409.8"/><ellipse cx="627.5" cy="385.0"/><ellipse cx="627.8" cy="381.8"/><ellipse cx="628.1" cy="403.1"/><ellipse cx="628.4" cy="412.2"/><ellipse cx="628.7" cy="402.3"/><ellipse cx="629.0" cy="347.8"/><ellipse cx="629.1" cy="383.7"/><ellipse cx="629.4" cy="355.0"/><ellipse cx="629.7" cy="388.6"/><ellipse cx="629.7" cy="431.5"/><ellipse cx="630.0" cy="386.2"/><ellipse cx="630.3" cy="413.8"/><ellipse cx="630.6" cy="384.4"/><ellipse cx="631.0" cy="362.8"/><ellipse cx="631.3" cy="371.8"/><ellipse cx="631.6" cy="363.1"/><ellipse cx="631.9" cy="374.3"/><ellipse cx="632.2" cy="361.5"/><ellipse cx="632.6" cy="414.5"/><ellipse cx="632.9" cy="403.5"/><ellipse cx="633.2" cy="379.7"/><ellipse cx="633.2" cy="434.3"/><ellipse cx="633.5" cy="338.4"/><ellipse cx="633.5" cy="391.3"/><ellipse cx="633.8" cy="389.3"/><ellipse cx="634.1" cy="400.1"/><ellipse cx="634.2" cy="424.5"/><ellipse cx="634.5" cy="411.1"/><ellipse cx="634.8" cy="384.0"/><ellipse cx="635.1" cy="367.0"/><ellipse cx="635.4" cy="407.3"/><ellipse cx="635.7" cy="369.5"/><ellipse cx="636.1" cy="355.9"/><ellipse cx="636.4" cy="423.9"/><ellipse cx="636.7" cy="399.6"/><ellipse cx="637.0" cy="358.9"/><ellipse cx="637.3" cy="397.0"/><ellipse cx="637.7" cy="357.2"/><ellipse cx="637.8" cy="349.6"/><ellipse cx="638.0" cy="360.6"/><ellipse cx="638.1" cy="313.5"/><ellipse cx="638.3" cy="352.0"/><ellipse cx="638.6" cy="401.9"/><ellipse cx="638.9" cy="350.7"/><ellipse cx="639.2" cy="380.8"/><ellipse cx="639.5" cy="326.8"/><ellipse cx="639.5" cy="414.0"/><ellipse cx="639.6" cy="390.7"/>
</g>
<text class="xl" x="174.6" y="403.8">0</text>
<text class="xl" x="238.3" y="403.8">200</text>
<text class="xl" x="302.0" y="403.8">400</text>
<text class="xl" x="365.7" y="403.8">600</text>
<text class="xl" x="429.4" y="403.8">800</text>
<text class="xl" x="493.1" y="403.8">1000</text>
<text class="xl" x="556.8" y="403.8">1200</text>
<text class="xl" x="620.5" y="403.8">1400</text>
<text class="yl" transform="translate(162.4,286.8) scale(1.11,1)">0.008</text>
<text class="yl" transform="translate(162.4,312.4) scale(1.11,1)">0.006</text>
<text class="yl" transform="translate(162.4,337.9) scale(1.11,1)">0.004</text>
<text class="yl" transform="translate(162.4,363.5) scale(1.11,1)">0.002</text>
<text class="yl" transform="translate(162.4,389.0) scale(1.11,1)">0.000</text>
<text class="yl" transform="translate(162.4,414.6) scale(1.11,1)">-0.002</text>
<text class="yl" transform="translate(162.4,440.1) scale(1.11,1)">-0.004</text>
<text class="yl" transform="translate(162.4,465.7) scale(1.11,1)">-0.006</text>
<text class="yl" transform="translate(162.4,491.2) scale(1.11,1)">-0.008</text>
<text class="t" transform="translate(121.4,385.5) rotate(-90)" text-anchor="middle" textLength="70.7" lengthAdjust="spacingAndGlyphs" style="font-size:11.8px">Relative error</text>
<text class="t" x="413.2" y="502.3" text-anchor="middle" textLength="63" lengthAdjust="spacingAndGlyphs" style="font-size:12.5px">Data Index</text>
<rect x="277.4" y="520.3" width="215.9" height="21.8" fill="#fff" stroke="#000" stroke-width="2.5"/>
<g class="m0"><ellipse cx="294.4" cy="531.2"/></g>
<text class="t" x="301.4" y="535.0" textLength="43" lengthAdjust="spacingAndGlyphs" style="font-size:11.8px">Training</text>
<g class="m1"><ellipse cx="361.4" cy="531.2"/></g>
<text class="t" x="368.4" y="535.0" textLength="53" lengthAdjust="spacingAndGlyphs" style="font-size:11.8px">Validation</text>
<g class="m2"><ellipse cx="438.7" cy="531.2"/></g>
<text class="t" x="445.7" y="535.0" textLength="38" lengthAdjust="spacingAndGlyphs" style="font-size:11.8px">Testing</text>
<rect x="90.5" y="269.6" width="590.0" height="279.8" fill="none" stroke="#000" stroke-width="2.5"/>
<g class="g">
<line x1="174.8" y1="591.34" x2="654.4" y2="591.34"/>
<line x1="174.8" y1="619.09" x2="654.4" y2="619.09"/>
<line x1="174.8" y1="646.83" x2="654.4" y2="646.83"/>
<line x1="174.8" y1="674.57" x2="654.4" y2="674.57"/>
<line x1="174.8" y1="702.31" x2="654.4" y2="702.31"/>
<line x1="174.8" y1="730.06" x2="654.4" y2="730.06"/>
<line x1="238.75" y1="563.6" x2="238.75" y2="757.8"/>
<line x1="302.69" y1="563.6" x2="302.69" y2="757.8"/>
<line x1="366.64" y1="563.6" x2="366.64" y2="757.8"/>
<line x1="430.59" y1="563.6" x2="430.59" y2="757.8"/>
<line x1="494.53" y1="563.6" x2="494.53" y2="757.8"/>
<line x1="558.48" y1="563.6" x2="558.48" y2="757.8"/>
<line x1="622.43" y1="563.6" x2="622.43" y2="757.8"/>
</g>
<rect x="174.8" y="563.6" width="479.6" height="194.2" fill="none" stroke="#000" stroke-width="2"/>
<line x1="174.7" y1="562.6" x2="174.7" y2="758.8" stroke="#3a3a3a" stroke-width="3"/>
<line x1="174.4" y1="562.6" x2="174.4" y2="758.8" stroke="#a0a0a0" stroke-width="1.2"/>
<line x1="174.8" y1="646.83" x2="654.4" y2="646.83" stroke="#808080" stroke-width="1.5"/>
<g class="m0">
<ellipse cx="174.8" cy="669.1"/><ellipse cx="175.2" cy="621.6"/><ellipse cx="175.5" cy="674.6"/><ellipse cx="175.6" cy="589.0"/><ellipse cx="175.9" cy="651.9"/><ellipse cx="176.1" cy="689.4"/><ellipse cx="176.3" cy="662.4"/><ellipse cx="176.7" cy="636.8"/><ellipse cx="177.1" cy="640.2"/><ellipse cx="177.3" cy="685.9"/><ellipse cx="177.5" cy="658.1"/><ellipse cx="177.8" cy="626.4"/><ellipse cx="178.2" cy="638.4"/><ellipse cx="178.6" cy="620.6"/><ellipse cx="179.0" cy="613.6"/><ellipse cx="179.0" cy="705.8"/><ellipse cx="179.4" cy="636.6"/><ellipse cx="179.7" cy="618.2"/><ellipse cx="180.1" cy="642.1"/><ellipse cx="180.2" cy="694.7"/><ellipse cx="180.5" cy="637.3"/><ellipse cx="180.8" cy="680.7"/><ellipse cx="180.9" cy="635.7"/><ellipse cx="181.3" cy="598.6"/><ellipse cx="181.6" cy="668.4"/><ellipse cx="182.0" cy="651.8"/><ellipse cx="182.4" cy="666.1"/><ellipse cx="182.8" cy="626.9"/><ellipse cx="183.1" cy="688.3"/><ellipse cx="183.1" cy="622.6"/><ellipse cx="183.5" cy="643.5"/><ellipse cx="183.9" cy="636.3"/><ellipse cx="184.3" cy="670.2"/><ellipse cx="184.7" cy="625.8"/><ellipse cx="184.8" cy="680.7"/><ellipse cx="185.0" cy="663.8"/><ellipse cx="185.4" cy="633.8"/><ellipse cx="185.8" cy="633.2"/><ellipse cx="186.2" cy="645.6"/><ellipse cx="186.6" cy="634.4"/><ellipse cx="186.9" cy="633.6"/><ellipse cx="187.2" cy="690.6"/><ellipse cx="187.3" cy="639.6"/><ellipse cx="187.7" cy="643.8"/><ellipse cx="188.1" cy="641.0"/><ellipse cx="188.5" cy="611.6"/><ellipse cx="188.8" cy="668.1"/><ellipse cx="189.2" cy="641.8"/><ellipse cx="189.6" cy="665.0"/><ellipse cx="190.0" cy="656.3"/><ellipse cx="190.1" cy="694.7"/><ellipse cx="190.4" cy="654.4"/><ellipse cx="190.7" cy="638.8"/><ellipse cx="191.1" cy="596.7"/><ellipse cx="191.5" cy="635.2"/><ellipse cx="191.9" cy="637.7"/><ellipse cx="192.3" cy="639.8"/><ellipse cx="192.6" cy="610.9"/><ellipse cx="193.0" cy="625.4"/><ellipse cx="193.4" cy="654.8"/><ellipse cx="193.6" cy="678.9"/><ellipse cx="193.8" cy="630.5"/><ellipse cx="194.2" cy="591.1"/><ellipse cx="194.5" cy="655.5"/><ellipse cx="194.9" cy="646.5"/><ellipse cx="195.3" cy="642.8"/><ellipse cx="195.4" cy="675.4"/><ellipse cx="195.7" cy="589.3"/><ellipse cx="196.0" cy="633.9"/><ellipse cx="196.4" cy="644.4"/><ellipse cx="196.8" cy="629.6"/><ellipse cx="197.1" cy="681.6"/><ellipse cx="197.2" cy="607.6"/><ellipse cx="197.6" cy="639.0"/><ellipse cx="197.9" cy="604.9"/><ellipse cx="198.3" cy="658.0"/><ellipse cx="198.7" cy="637.3"/><ellipse cx="199.1" cy="660.0"/><ellipse cx="199.5" cy="625.4"/><ellipse cx="199.8" cy="616.9"/><ellipse cx="200.2" cy="647.4"/><ellipse cx="200.6" cy="687.9"/><ellipse cx="200.6" cy="627.5"/><ellipse cx="201.0" cy="636.5"/><ellipse cx="201.2" cy="709.3"/><ellipse cx="201.4" cy="644.0"/><ellipse cx="201.7" cy="619.8"/><ellipse cx="202.1" cy="678.9"/><ellipse cx="202.1" cy="628.4"/><ellipse cx="202.5" cy="651.0"/><ellipse cx="202.9" cy="647.5"/><ellipse cx="203.3" cy="637.8"/><ellipse cx="203.6" cy="617.9"/><ellipse cx="204.0" cy="621.4"/><ellipse cx="204.4" cy="623.1"/><ellipse cx="204.8" cy="648.8"/><ellipse cx="205.2" cy="624.2"/><ellipse cx="205.5" cy="644.7"/><ellipse cx="205.9" cy="709.6"/><ellipse cx="205.9" cy="652.5"/><ellipse cx="206.3" cy="631.3"/><ellipse cx="206.7" cy="646.1"/><ellipse cx="207.1" cy="653.9"/><ellipse cx="207.4" cy="608.9"/><ellipse cx="207.8" cy="646.3"/><ellipse cx="208.2" cy="615.2"/><ellipse cx="208.6" cy="631.2"/><ellipse cx="208.9" cy="600.9"/><ellipse cx="209.3" cy="635.5"/><ellipse cx="209.7" cy="656.1"/><ellipse cx="210.1" cy="623.7"/><ellipse cx="210.5" cy="616.4"/><ellipse cx="210.8" cy="593.8"/><ellipse cx="211.2" cy="657.3"/><ellipse cx="211.6" cy="633.0"/><ellipse cx="212.0" cy="589.6"/><ellipse cx="212.3" cy="692.1"/><ellipse cx="212.4" cy="639.5"/><ellipse cx="212.7" cy="671.3"/><ellipse cx="213.1" cy="592.3"/><ellipse cx="213.5" cy="655.9"/><ellipse cx="213.9" cy="652.7"/><ellipse cx="214.3" cy="629.0"/><ellipse cx="214.6" cy="642.2"/><ellipse cx="215.0" cy="606.1"/><ellipse cx="215.4" cy="615.8"/><ellipse cx="215.8" cy="667.3"/><ellipse cx="216.2" cy="636.0"/><ellipse cx="216.5" cy="653.4"/><ellipse cx="216.9" cy="653.6"/><ellipse cx="217.3" cy="660.5"/><ellipse cx="217.7" cy="627.7"/><ellipse cx="218.1" cy="646.8"/><ellipse cx="218.1" cy="682.4"/><ellipse cx="218.4" cy="661.6"/><ellipse cx="218.8" cy="672.2"/><ellipse cx="219.2" cy="652.3"/><ellipse cx="219.6" cy="621.0"/><ellipse cx="219.9" cy="711.6"/><ellipse cx="220.0" cy="647.8"/><ellipse cx="220.3" cy="645.1"/><ellipse cx="220.7" cy="641.6"/><ellipse cx="221.1" cy="599.9"/><ellipse cx="221.1" cy="683.0"/><ellipse cx="221.5" cy="645.8"/><ellipse cx="221.8" cy="626.3"/><ellipse cx="222.2" cy="688.6"/><ellipse cx="222.2" cy="650.6"/><ellipse cx="222.6" cy="660.8"/><ellipse cx="223.0" cy="645.2"/><ellipse cx="223.4" cy="647.0"/><ellipse cx="223.7" cy="666.4"/><ellipse cx="224.1" cy="650.3"/><ellipse cx="224.5" cy="638.0"/><ellipse cx="224.9" cy="657.4"/><ellipse cx="225.1" cy="692.1"/><ellipse cx="225.3" cy="661.2"/><ellipse cx="225.6" cy="603.7"/><ellipse cx="225.7" cy="684.8"/><ellipse cx="226.0" cy="649.8"/><ellipse cx="226.4" cy="635.0"/><ellipse cx="226.8" cy="644.2"/><ellipse cx="227.2" cy="631.7"/><ellipse cx="227.5" cy="588.5"/><ellipse cx="227.9" cy="632.5"/><ellipse cx="228.3" cy="634.7"/><ellipse cx="228.7" cy="664.2"/><ellipse cx="229.1" cy="632.7"/><ellipse cx="229.2" cy="686.8"/><ellipse cx="229.4" cy="643.2"/><ellipse cx="229.8" cy="623.8"/><ellipse cx="230.2" cy="654.0"/><ellipse cx="230.6" cy="650.8"/><ellipse cx="231.0" cy="649.6"/><ellipse cx="231.3" cy="609.1"/><ellipse cx="231.7" cy="627.3"/><ellipse cx="232.1" cy="655.0"/><ellipse cx="232.5" cy="620.0"/><ellipse cx="232.9" cy="630.9"/><ellipse cx="233.2" cy="625.0"/><ellipse cx="233.6" cy="648.4"/><ellipse cx="234.0" cy="618.8"/><ellipse cx="234.4" cy="624.5"/><ellipse cx="234.7" cy="663.5"/><ellipse cx="235.1" cy="630.0"/><ellipse cx="235.5" cy="640.6"/><ellipse cx="235.9" cy="659.1"/><ellipse cx="236.3" cy="591.8"/><ellipse cx="236.6" cy="613.4"/><ellipse cx="236.8" cy="678.9"/><ellipse cx="237.0" cy="591.2"/><ellipse cx="237.4" cy="612.3"/><ellipse cx="237.8" cy="648.7"/><ellipse cx="238.0" cy="700.0"/><ellipse cx="238.2" cy="648.2"/><ellipse cx="238.5" cy="615.0"/><ellipse cx="238.9" cy="623.0"/><ellipse cx="239.3" cy="638.7"/><ellipse cx="239.7" cy="629.1"/><ellipse cx="240.1" cy="651.5"/><ellipse cx="240.4" cy="643.1"/><ellipse cx="240.7" cy="702.3"/><ellipse cx="240.8" cy="632.1"/><ellipse cx="241.2" cy="642.5"/><ellipse cx="241.5" cy="678.1"/><ellipse cx="241.6" cy="641.2"/><ellipse cx="242.0" cy="610.4"/><ellipse cx="242.3" cy="657.0"/><ellipse cx="242.7" cy="628.2"/><ellipse cx="243.1" cy="649.2"/><ellipse cx="243.5" cy="640.9"/><ellipse cx="243.9" cy="634.2"/><ellipse cx="244.2" cy="630.3"/><ellipse cx="244.6" cy="662.5"/><ellipse cx="245.0" cy="640.0"/><ellipse cx="245.4" cy="632.0"/><ellipse cx="245.8" cy="622.0"/><ellipse cx="245.8" cy="710.1"/><ellipse cx="246.1" cy="617.6"/><ellipse cx="246.5" cy="602.0"/><ellipse cx="246.9" cy="606.7"/><ellipse cx="247.3" cy="659.7"/><ellipse cx="247.6" cy="658.8"/><ellipse cx="248.0" cy="665.7"/><ellipse cx="248.4" cy="629.6"/><ellipse cx="248.8" cy="628.7"/><ellipse cx="249.2" cy="619.2"/><ellipse cx="249.5" cy="650.0"/><ellipse cx="249.9" cy="614.5"/><ellipse cx="250.2" cy="687.7"/><ellipse cx="250.2" cy="696.5"/><ellipse cx="250.3" cy="590.2"/><ellipse cx="250.7" cy="621.0"/><ellipse cx="250.9" cy="687.7"/><ellipse cx="251.1" cy="640.0"/><ellipse cx="251.4" cy="612.8"/><ellipse cx="251.5" cy="696.5"/><ellipse cx="251.8" cy="661.9"/><ellipse cx="252.2" cy="639.1"/><ellipse cx="252.6" cy="642.5"/><ellipse cx="252.7" cy="672.5"/><ellipse cx="253.0" cy="644.4"/><ellipse cx="253.3" cy="656.4"/><ellipse cx="253.7" cy="615.9"/><ellipse cx="254.1" cy="637.5"/><ellipse cx="254.5" cy="638.1"/><ellipse cx="254.9" cy="588.1"/><ellipse cx="255.0" cy="702.9"/><ellipse cx="255.2" cy="652.2"/><ellipse cx="255.6" cy="659.3"/><ellipse cx="256.0" cy="629.0"/><ellipse cx="256.4" cy="663.9"/><ellipse cx="256.8" cy="658.7"/><ellipse cx="256.8" cy="688.9"/><ellipse cx="257.1" cy="621.8"/><ellipse cx="257.5" cy="627.8"/><ellipse cx="257.9" cy="636.4"/><ellipse cx="258.3" cy="624.2"/><ellipse cx="258.7" cy="632.5"/><ellipse cx="259.0" cy="650.3"/><ellipse cx="259.4" cy="657.7"/><ellipse cx="259.7" cy="673.7"/><ellipse cx="259.7" cy="693.5"/><ellipse cx="259.8" cy="614.5"/><ellipse cx="260.2" cy="622.7"/><ellipse cx="260.5" cy="638.6"/><ellipse cx="260.9" cy="631.8"/><ellipse cx="261.3" cy="632.1"/><ellipse cx="261.7" cy="629.6"/><ellipse cx="262.1" cy="602.1"/><ellipse cx="262.4" cy="643.7"/><ellipse cx="262.8" cy="636.6"/><ellipse cx="263.2" cy="671.3"/><ellipse cx="263.2" cy="671.0"/><ellipse cx="263.6" cy="638.7"/><ellipse cx="263.8" cy="682.4"/><ellipse cx="264.0" cy="668.6"/><ellipse cx="264.3" cy="653.7"/><ellipse cx="264.7" cy="630.2"/><ellipse cx="264.9" cy="698.2"/><ellipse cx="265.1" cy="625.6"/><ellipse cx="265.5" cy="631.0"/><ellipse cx="265.9" cy="637.9"/><ellipse cx="266.2" cy="617.4"/><ellipse cx="266.6" cy="657.3"/><ellipse cx="267.0" cy="652.5"/><ellipse cx="267.4" cy="643.5"/><ellipse cx="267.8" cy="633.3"/><ellipse cx="268.1" cy="642.3"/><ellipse cx="268.5" cy="654.5"/><ellipse cx="268.9" cy="628.2"/><ellipse cx="269.0" cy="695.9"/><ellipse cx="269.3" cy="611.5"/><ellipse cx="269.7" cy="637.2"/><ellipse cx="270.0" cy="641.9"/><ellipse cx="270.2" cy="699.4"/><ellipse cx="270.4" cy="646.3"/><ellipse cx="270.8" cy="631.3"/><ellipse cx="270.8" cy="696.5"/><ellipse cx="271.2" cy="657.9"/><ellipse cx="271.6" cy="626.3"/><ellipse cx="271.9" cy="635.3"/><ellipse cx="272.3" cy="640.8"/><ellipse cx="272.7" cy="633.0"/><ellipse cx="273.1" cy="618.2"/><ellipse cx="273.1" cy="700.5"/><ellipse cx="273.4" cy="624.6"/><ellipse cx="273.8" cy="641.0"/><ellipse cx="274.2" cy="629.2"/><ellipse cx="274.6" cy="648.3"/><ellipse cx="274.9" cy="677.2"/><ellipse cx="275.0" cy="645.9"/><ellipse cx="275.3" cy="647.9"/><ellipse cx="275.7" cy="636.0"/><ellipse cx="276.1" cy="639.4"/><ellipse cx="276.5" cy="644.9"/><ellipse cx="276.9" cy="653.3"/><ellipse cx="277.2" cy="693.0"/><ellipse cx="277.2" cy="628.4"/><ellipse cx="277.6" cy="636.2"/><ellipse cx="278.0" cy="643.9"/><ellipse cx="278.4" cy="650.7"/><ellipse cx="278.8" cy="594.9"/><ellipse cx="279.1" cy="636.8"/><ellipse cx="279.5" cy="638.3"/><ellipse cx="279.9" cy="645.3"/><ellipse cx="280.1" cy="700.0"/><ellipse cx="280.3" cy="639.5"/><ellipse cx="280.7" cy="634.7"/><ellipse cx="281.0" cy="660.0"/><ellipse cx="281.3" cy="676.0"/><ellipse cx="281.4" cy="635.0"/><ellipse cx="281.8" cy="651.9"/><ellipse cx="282.2" cy="633.7"/><ellipse cx="282.6" cy="591.4"/><ellipse cx="282.9" cy="619.0"/><ellipse cx="283.3" cy="618.1"/><ellipse cx="283.7" cy="650.0"/><ellipse cx="284.1" cy="663.2"/><ellipse cx="284.5" cy="666.4"/><ellipse cx="284.8" cy="654.2"/><ellipse cx="285.2" cy="627.5"/><ellipse cx="285.6" cy="625.2"/><ellipse cx="286.0" cy="648.6"/><ellipse cx="286.3" cy="656.8"/><ellipse cx="286.7" cy="659.2"/><ellipse cx="287.1" cy="642.7"/><ellipse cx="287.5" cy="623.4"/><ellipse cx="287.7" cy="694.1"/><ellipse cx="287.9" cy="645.4"/><ellipse cx="288.2" cy="664.6"/><ellipse cx="288.6" cy="599.5"/><ellipse cx="289.0" cy="652.9"/><ellipse cx="289.4" cy="609.4"/><ellipse cx="289.5" cy="673.1"/><ellipse cx="289.8" cy="600.5"/><ellipse cx="290.1" cy="635.4"/><ellipse cx="290.5" cy="589.7"/><ellipse cx="290.9" cy="646.9"/><ellipse cx="291.3" cy="669.1"/><ellipse cx="291.7" cy="606.6"/><ellipse cx="291.8" cy="675.4"/><ellipse cx="292.0" cy="616.8"/><ellipse cx="292.4" cy="644.7"/><ellipse cx="292.8" cy="666.1"/><ellipse cx="293.0" cy="691.2"/><ellipse cx="293.2" cy="649.4"/><ellipse cx="293.6" cy="651.0"/><ellipse cx="293.9" cy="634.2"/><ellipse cx="294.1" cy="685.4"/><ellipse cx="294.3" cy="626.4"/><ellipse cx="294.7" cy="613.9"/><ellipse cx="295.1" cy="614.9"/><ellipse cx="295.5" cy="648.0"/><ellipse cx="295.8" cy="642.9"/><ellipse cx="296.2" cy="610.0"/><ellipse cx="296.6" cy="612.7"/><ellipse cx="297.0" cy="641.4"/><ellipse cx="297.4" cy="643.3"/><ellipse cx="297.7" cy="651.7"/><ellipse cx="298.1" cy="655.5"/><ellipse cx="298.5" cy="628.6"/><ellipse cx="298.9" cy="630.7"/><ellipse cx="299.2" cy="650.4"/><ellipse cx="299.6" cy="665.4"/><ellipse cx="300.0" cy="611.4"/><ellipse cx="300.4" cy="624.7"/><ellipse cx="300.8" cy="634.6"/><ellipse cx="301.1" cy="605.2"/><ellipse cx="301.5" cy="616.7"/><ellipse cx="301.9" cy="653.5"/><ellipse cx="302.3" cy="662.4"/><ellipse cx="302.7" cy="622.0"/><ellipse cx="303.0" cy="658.2"/><ellipse cx="303.4" cy="621.4"/><ellipse cx="303.5" cy="698.8"/><ellipse cx="303.8" cy="591.8"/><ellipse cx="304.2" cy="626.0"/><ellipse cx="304.6" cy="656.0"/><ellipse cx="304.9" cy="603.4"/><ellipse cx="305.3" cy="620.3"/><ellipse cx="305.7" cy="662.5"/><ellipse cx="306.1" cy="655.7"/><ellipse cx="306.4" cy="690.6"/><ellipse cx="306.5" cy="640.4"/><ellipse cx="306.8" cy="627.2"/><ellipse cx="307.2" cy="590.4"/><ellipse cx="307.6" cy="649.8"/><ellipse cx="308.0" cy="664.0"/><ellipse cx="308.4" cy="631.7"/><ellipse cx="308.7" cy="647.6"/><ellipse cx="309.1" cy="641.3"/><ellipse cx="309.5" cy="645.8"/><ellipse cx="309.9" cy="646.5"/><ellipse cx="310.3" cy="640.6"/><ellipse cx="310.6" cy="667.4"/><ellipse cx="311.0" cy="670.3"/><ellipse cx="311.4" cy="651.3"/><ellipse cx="311.8" cy="644.2"/><ellipse cx="312.1" cy="639.9"/><ellipse cx="312.5" cy="642.0"/><ellipse cx="312.8" cy="686.5"/><ellipse cx="312.9" cy="629.5"/><ellipse cx="313.3" cy="622.9"/><ellipse cx="313.7" cy="627.0"/><ellipse cx="314.0" cy="633.6"/><ellipse cx="314.4" cy="608.9"/><ellipse cx="314.8" cy="631.3"/><ellipse cx="315.2" cy="596.1"/><ellipse cx="315.6" cy="589.1"/><ellipse cx="315.7" cy="693.0"/><ellipse cx="315.9" cy="660.6"/><ellipse cx="316.3" cy="597.6"/><ellipse cx="316.7" cy="619.6"/><ellipse cx="316.9" cy="697.6"/><ellipse cx="317.1" cy="608.1"/><ellipse cx="317.5" cy="624.0"/><ellipse cx="317.8" cy="648.9"/><ellipse cx="318.2" cy="660.5"/><ellipse cx="318.6" cy="655.0"/><ellipse cx="319.0" cy="592.3"/><ellipse cx="319.4" cy="635.8"/><ellipse cx="319.7" cy="654.8"/><ellipse cx="320.1" cy="623.3"/><ellipse cx="320.5" cy="619.1"/><ellipse cx="320.9" cy="588.6"/><ellipse cx="321.0" cy="695.9"/><ellipse cx="321.3" cy="667.6"/><ellipse cx="321.6" cy="632.7"/><ellipse cx="322.0" cy="590.6"/><ellipse cx="322.2" cy="673.1"/><ellipse cx="322.4" cy="647.1"/><ellipse cx="322.8" cy="615.6"/><ellipse cx="323.2" cy="620.6"/><ellipse cx="323.5" cy="647.2"/><ellipse cx="323.9" cy="684.2"/><ellipse cx="323.9" cy="671.8"/><ellipse cx="324.3" cy="605.5"/><ellipse cx="324.7" cy="661.3"/><ellipse cx="325.0" cy="634.0"/><ellipse cx="325.2" cy="683.6"/><ellipse cx="325.4" cy="630.1"/><ellipse cx="325.8" cy="649.1"/><ellipse cx="326.2" cy="637.3"/><ellipse cx="326.6" cy="619.3"/><ellipse cx="326.9" cy="609.5"/><ellipse cx="327.3" cy="605.7"/><ellipse cx="327.4" cy="687.1"/><ellipse cx="327.4" cy="701.7"/><ellipse cx="327.4" cy="710.5"/><ellipse cx="327.7" cy="646.7"/><ellipse cx="328.1" cy="638.8"/><ellipse cx="328.5" cy="651.1"/><ellipse cx="328.7" cy="687.1"/><ellipse cx="328.7" cy="701.7"/><ellipse cx="328.7" cy="711.0"/><ellipse cx="328.8" cy="642.8"/><ellipse cx="329.2" cy="615.4"/><ellipse cx="329.6" cy="672.3"/><ellipse cx="330.0" cy="627.3"/><ellipse cx="330.4" cy="646.6"/><ellipse cx="330.4" cy="707.5"/><ellipse cx="330.7" cy="641.3"/><ellipse cx="331.1" cy="668.6"/><ellipse cx="331.5" cy="655.1"/><ellipse cx="331.9" cy="660.1"/><ellipse cx="332.3" cy="630.4"/><ellipse cx="332.6" cy="654.3"/><ellipse cx="333.0" cy="621.4"/><ellipse cx="333.4" cy="638.1"/><ellipse cx="333.8" cy="611.6"/><ellipse cx="334.2" cy="638.7"/><ellipse cx="334.5" cy="648.6"/><ellipse cx="334.9" cy="653.3"/><ellipse cx="335.1" cy="691.8"/><ellipse cx="335.3" cy="650.7"/><ellipse cx="335.7" cy="620.3"/><ellipse cx="335.7" cy="708.7"/><ellipse cx="336.1" cy="592.7"/><ellipse cx="336.3" cy="697.0"/><ellipse cx="336.4" cy="636.2"/><ellipse cx="336.8" cy="595.7"/><ellipse cx="337.2" cy="658.9"/><ellipse cx="337.4" cy="688.6"/><ellipse cx="337.6" cy="640.2"/><ellipse cx="337.9" cy="640.4"/><ellipse cx="338.3" cy="670.1"/><ellipse cx="338.6" cy="701.7"/><ellipse cx="338.7" cy="608.6"/><ellipse cx="339.1" cy="652.8"/><ellipse cx="339.2" cy="677.2"/><ellipse cx="339.5" cy="628.4"/><ellipse cx="339.8" cy="646.1"/><ellipse cx="340.2" cy="671.2"/><ellipse cx="340.6" cy="613.9"/><ellipse cx="340.9" cy="709.3"/><ellipse cx="341.0" cy="631.7"/><ellipse cx="341.4" cy="641.6"/><ellipse cx="341.7" cy="657.9"/><ellipse cx="342.1" cy="660.4"/><ellipse cx="342.5" cy="629.6"/><ellipse cx="342.7" cy="673.1"/><ellipse cx="342.9" cy="644.2"/><ellipse cx="343.3" cy="643.8"/><ellipse cx="343.6" cy="654.6"/><ellipse cx="344.0" cy="660.8"/><ellipse cx="344.4" cy="633.0"/><ellipse cx="344.8" cy="650.6"/><ellipse cx="345.2" cy="634.8"/><ellipse cx="345.5" cy="635.2"/><ellipse cx="345.6" cy="676.0"/><ellipse cx="345.9" cy="637.9"/><ellipse cx="346.3" cy="656.7"/><ellipse cx="346.7" cy="632.5"/><ellipse cx="347.1" cy="589.7"/><ellipse cx="347.4" cy="702.9"/><ellipse cx="347.4" cy="667.4"/><ellipse cx="347.8" cy="642.2"/><ellipse cx="348.2" cy="662.5"/><ellipse cx="348.6" cy="649.1"/><ellipse cx="349.0" cy="616.7"/><ellipse cx="349.1" cy="699.4"/><ellipse cx="349.3" cy="616.0"/><ellipse cx="349.7" cy="626.7"/><ellipse cx="350.1" cy="665.9"/><ellipse cx="350.5" cy="593.9"/><ellipse cx="350.8" cy="610.2"/><ellipse cx="351.2" cy="656.4"/><ellipse cx="351.4" cy="707.5"/><ellipse cx="351.6" cy="643.2"/><ellipse cx="352.0" cy="625.6"/><ellipse cx="352.4" cy="663.9"/><ellipse cx="352.6" cy="693.5"/><ellipse cx="352.7" cy="588.9"/><ellipse cx="353.1" cy="622.6"/><ellipse cx="353.5" cy="606.8"/><ellipse cx="353.9" cy="630.5"/><ellipse cx="354.3" cy="621.9"/><ellipse cx="354.4" cy="677.2"/><ellipse cx="354.6" cy="614.7"/><ellipse cx="354.9" cy="710.5"/><ellipse cx="355.0" cy="647.1"/><ellipse cx="355.4" cy="589.2"/><ellipse cx="355.8" cy="665.0"/><ellipse cx="356.2" cy="621.9"/><ellipse cx="356.5" cy="637.7"/><ellipse cx="356.9" cy="633.2"/><ellipse cx="357.3" cy="652.5"/><ellipse cx="357.3" cy="684.8"/><ellipse cx="357.7" cy="666.5"/><ellipse cx="358.1" cy="661.1"/><ellipse cx="358.4" cy="640.5"/><ellipse cx="358.8" cy="631.4"/><ellipse cx="359.2" cy="616.7"/><ellipse cx="359.6" cy="614.2"/><ellipse cx="360.0" cy="669.2"/><ellipse cx="360.3" cy="652.3"/><ellipse cx="360.7" cy="620.4"/><ellipse cx="360.8" cy="677.0"/><ellipse cx="360.8" cy="709.9"/><ellipse cx="361.1" cy="599.1"/><ellipse cx="361.5" cy="662.0"/><ellipse cx="361.9" cy="623.7"/><ellipse cx="362.2" cy="632.6"/><ellipse cx="362.6" cy="645.8"/><ellipse cx="363.0" cy="602.0"/><ellipse cx="363.4" cy="647.9"/><ellipse cx="363.7" cy="654.3"/><ellipse cx="364.1" cy="601.5"/><ellipse cx="364.3" cy="700.5"/><ellipse cx="364.5" cy="621.1"/><ellipse cx="364.9" cy="644.9"/><ellipse cx="365.3" cy="635.8"/><ellipse cx="365.6" cy="629.6"/><ellipse cx="366.0" cy="674.3"/><ellipse cx="366.0" cy="604.9"/><ellipse cx="366.4" cy="631.8"/><ellipse cx="366.8" cy="639.4"/><ellipse cx="367.2" cy="636.0"/><ellipse cx="367.2" cy="687.1"/><ellipse cx="367.5" cy="622.8"/><ellipse cx="367.9" cy="611.4"/><ellipse cx="368.3" cy="642.0"/><ellipse cx="368.7" cy="658.4"/><ellipse cx="369.1" cy="623.8"/><ellipse cx="369.4" cy="648.9"/><ellipse cx="369.5" cy="692.4"/><ellipse cx="369.8" cy="651.7"/><ellipse cx="370.2" cy="624.8"/><ellipse cx="370.6" cy="645.9"/><ellipse cx="370.7" cy="703.5"/><ellipse cx="371.0" cy="626.2"/><ellipse cx="371.3" cy="687.1"/><ellipse cx="371.3" cy="644.6"/><ellipse cx="371.7" cy="628.7"/><ellipse cx="372.1" cy="590.4"/><ellipse cx="372.5" cy="645.4"/><ellipse cx="372.9" cy="636.7"/><ellipse cx="373.2" cy="604.1"/><ellipse cx="373.6" cy="673.1"/><ellipse cx="373.6" cy="644.0"/><ellipse cx="374.0" cy="626.5"/><ellipse cx="374.4" cy="637.5"/><ellipse cx="374.8" cy="647.5"/><ellipse cx="375.1" cy="627.5"/><ellipse cx="375.4" cy="690.0"/><ellipse cx="375.5" cy="629.9"/><ellipse cx="375.9" cy="655.3"/><ellipse cx="376.3" cy="659.2"/><ellipse cx="376.6" cy="709.3"/><ellipse cx="376.6" cy="638.5"/><ellipse cx="377.0" cy="641.1"/><ellipse cx="377.4" cy="597.7"/><ellipse cx="377.8" cy="659.3"/><ellipse cx="378.2" cy="647.9"/><ellipse cx="378.5" cy="590.6"/><ellipse cx="378.9" cy="649.7"/><ellipse cx="379.3" cy="653.5"/><ellipse cx="379.7" cy="617.8"/><ellipse cx="380.1" cy="657.1"/><ellipse cx="380.1" cy="684.2"/><ellipse cx="380.1" cy="696.5"/><ellipse cx="380.4" cy="612.2"/><ellipse cx="380.8" cy="644.5"/><ellipse cx="381.2" cy="649.4"/><ellipse cx="381.6" cy="632.1"/><ellipse cx="382.0" cy="636.9"/><ellipse cx="382.3" cy="661.9"/><ellipse cx="382.7" cy="592.0"/><ellipse cx="383.1" cy="634.6"/><ellipse cx="383.5" cy="624.1"/><ellipse cx="383.9" cy="648.5"/><ellipse cx="384.2" cy="630.8"/><ellipse cx="384.6" cy="651.9"/><ellipse cx="385.0" cy="667.8"/><ellipse cx="385.4" cy="633.8"/><ellipse cx="385.8" cy="626.0"/><ellipse cx="386.1" cy="629.0"/><ellipse cx="386.5" cy="642.9"/><ellipse cx="386.9" cy="643.6"/><ellipse cx="387.3" cy="657.7"/><ellipse cx="387.6" cy="698.8"/><ellipse cx="387.7" cy="653.7"/><ellipse cx="388.0" cy="634.9"/><ellipse cx="388.4" cy="591.4"/><ellipse cx="388.8" cy="618.5"/><ellipse cx="388.8" cy="708.7"/><ellipse cx="389.2" cy="656.2"/><ellipse cx="389.4" cy="678.9"/><ellipse cx="389.5" cy="639.9"/><ellipse cx="389.9" cy="608.0"/><ellipse cx="390.3" cy="618.9"/><ellipse cx="390.6" cy="694.1"/><ellipse cx="390.7" cy="633.5"/><ellipse cx="391.1" cy="631.0"/><ellipse cx="391.4" cy="650.1"/><ellipse cx="391.8" cy="624.6"/><ellipse cx="392.2" cy="642.5"/><ellipse cx="392.6" cy="634.0"/><ellipse cx="392.9" cy="700.0"/><ellipse cx="393.0" cy="640.9"/><ellipse cx="393.3" cy="588.3"/><ellipse cx="393.7" cy="651.3"/><ellipse cx="394.1" cy="687.1"/><ellipse cx="394.1" cy="639.1"/><ellipse cx="394.5" cy="613.0"/><ellipse cx="394.9" cy="619.6"/><ellipse cx="395.2" cy="628.2"/><ellipse cx="395.6" cy="635.6"/><ellipse cx="396.0" cy="639.6"/><ellipse cx="396.4" cy="625.3"/><ellipse cx="396.4" cy="682.4"/><ellipse cx="396.8" cy="650.0"/><ellipse cx="397.1" cy="623.3"/><ellipse cx="397.5" cy="634.3"/><ellipse cx="397.9" cy="641.8"/><ellipse cx="398.3" cy="665.2"/><ellipse cx="398.7" cy="647.3"/><ellipse cx="399.0" cy="645.1"/><ellipse cx="399.4" cy="629.3"/><ellipse cx="399.8" cy="627.6"/><ellipse cx="400.2" cy="655.6"/><ellipse cx="400.5" cy="700.0"/><ellipse cx="400.5" cy="677.8"/><ellipse cx="400.6" cy="664.1"/><ellipse cx="400.9" cy="637.2"/><ellipse cx="401.2" cy="678.4"/><ellipse cx="401.2" cy="700.0"/><ellipse cx="401.3" cy="636.5"/><ellipse cx="401.7" cy="663.0"/><ellipse cx="402.1" cy="617.3"/><ellipse cx="402.5" cy="629.7"/><ellipse cx="402.8" cy="661.2"/><ellipse cx="403.2" cy="656.4"/><ellipse cx="403.5" cy="673.7"/><ellipse cx="403.6" cy="645.4"/><ellipse cx="404.0" cy="644.6"/><ellipse cx="404.3" cy="633.8"/><ellipse cx="404.7" cy="613.4"/><ellipse cx="405.1" cy="593.0"/><ellipse cx="405.3" cy="695.9"/><ellipse cx="405.5" cy="633.2"/><ellipse cx="405.9" cy="621.1"/><ellipse cx="406.2" cy="639.8"/><ellipse cx="406.6" cy="631.5"/><ellipse cx="407.0" cy="640.3"/><ellipse cx="407.4" cy="620.0"/><ellipse cx="407.8" cy="642.0"/><ellipse cx="408.1" cy="658.7"/><ellipse cx="408.2" cy="680.1"/><ellipse cx="408.5" cy="637.8"/><ellipse cx="408.9" cy="660.5"/><ellipse cx="409.3" cy="657.6"/><ellipse cx="409.3" cy="673.1"/><ellipse cx="409.7" cy="589.9"/><ellipse cx="410.0" cy="642.6"/><ellipse cx="410.4" cy="611.3"/><ellipse cx="410.8" cy="639.4"/><ellipse cx="411.2" cy="616.6"/><ellipse cx="411.6" cy="636.4"/><ellipse cx="411.7" cy="694.7"/><ellipse cx="411.9" cy="645.7"/><ellipse cx="412.3" cy="681.3"/><ellipse cx="412.3" cy="616.9"/><ellipse cx="412.7" cy="642.2"/><ellipse cx="413.1" cy="614.5"/><ellipse cx="413.5" cy="632.8"/><ellipse cx="413.8" cy="645.2"/><ellipse cx="414.2" cy="619.6"/><ellipse cx="414.6" cy="662.4"/><ellipse cx="415.0" cy="608.8"/><ellipse cx="415.2" cy="708.7"/><ellipse cx="415.4" cy="647.5"/><ellipse cx="415.7" cy="654.8"/><ellipse cx="415.8" cy="685.1"/><ellipse cx="416.1" cy="642.5"/><ellipse cx="416.4" cy="700.0"/><ellipse cx="416.5" cy="623.6"/><ellipse cx="416.9" cy="631.9"/><ellipse cx="417.2" cy="605.5"/><ellipse cx="417.6" cy="650.1"/><ellipse cx="418.0" cy="638.4"/><ellipse cx="418.4" cy="640.7"/><ellipse cx="418.8" cy="652.9"/><ellipse cx="419.1" cy="632.6"/><ellipse cx="419.5" cy="648.6"/><ellipse cx="419.9" cy="624.9"/><ellipse cx="420.3" cy="623.8"/><ellipse cx="420.7" cy="631.6"/><ellipse cx="421.0" cy="651.4"/><ellipse cx="421.4" cy="643.2"/><ellipse cx="421.6" cy="697.6"/><ellipse cx="421.8" cy="654.6"/><ellipse cx="422.2" cy="615.5"/><ellipse cx="422.6" cy="602.7"/><ellipse cx="422.9" cy="641.9"/><ellipse cx="423.3" cy="639.0"/><ellipse cx="423.7" cy="654.1"/><ellipse cx="424.1" cy="635.2"/><ellipse cx="424.5" cy="650.5"/><ellipse cx="424.8" cy="630.5"/><ellipse cx="425.1" cy="688.9"/><ellipse cx="425.2" cy="628.3"/><ellipse cx="425.6" cy="622.5"/><ellipse cx="426.0" cy="637.1"/><ellipse cx="426.4" cy="669.7"/><ellipse cx="426.7" cy="631.1"/><ellipse cx="427.1" cy="603.8"/><ellipse cx="427.5" cy="634.2"/><ellipse cx="427.9" cy="653.4"/><ellipse cx="428.0" cy="711.6"/><ellipse cx="428.3" cy="636.0"/><ellipse cx="428.6" cy="672.3"/><ellipse cx="428.6" cy="609.9"/><ellipse cx="429.0" cy="667.3"/><ellipse cx="429.4" cy="626.8"/><ellipse cx="429.8" cy="598.4"/><ellipse cx="429.8" cy="694.1"/><ellipse cx="430.1" cy="623.1"/><ellipse cx="430.5" cy="618.1"/><ellipse cx="430.9" cy="700.0"/><ellipse cx="430.9" cy="652.5"/><ellipse cx="431.3" cy="624.7"/><ellipse cx="431.7" cy="639.7"/><ellipse cx="432.0" cy="628.1"/><ellipse cx="432.4" cy="637.6"/><ellipse cx="432.8" cy="637.5"/><ellipse cx="433.2" cy="663.8"/><ellipse cx="433.6" cy="620.6"/><ellipse cx="433.9" cy="657.8"/><ellipse cx="434.3" cy="651.5"/><ellipse cx="434.5" cy="677.8"/><ellipse cx="434.7" cy="659.5"/><ellipse cx="435.0" cy="679.5"/><ellipse cx="435.1" cy="621.9"/><ellipse cx="435.5" cy="640.0"/><ellipse cx="435.8" cy="634.8"/><ellipse cx="436.2" cy="632.6"/><ellipse cx="436.6" cy="641.0"/><ellipse cx="437.0" cy="649.8"/><ellipse cx="437.4" cy="615.9"/><ellipse cx="437.7" cy="646.3"/><ellipse cx="438.1" cy="638.6"/><ellipse cx="438.5" cy="668.4"/><ellipse cx="438.9" cy="666.9"/><ellipse cx="439.3" cy="636.1"/><ellipse cx="439.6" cy="671.3"/><ellipse cx="439.7" cy="695.3"/><ellipse cx="440.0" cy="610.2"/><ellipse cx="440.3" cy="701.7"/><ellipse cx="440.4" cy="629.4"/><ellipse cx="440.8" cy="621.2"/><ellipse cx="441.2" cy="646.9"/><ellipse cx="441.5" cy="698.2"/><ellipse cx="441.5" cy="643.7"/><ellipse cx="441.9" cy="635.7"/><ellipse cx="442.3" cy="638.2"/><ellipse cx="442.6" cy="676.0"/><ellipse cx="442.7" cy="623.0"/><ellipse cx="443.0" cy="641.3"/><ellipse cx="443.2" cy="694.7"/><ellipse cx="443.4" cy="662.6"/><ellipse cx="443.8" cy="640.5"/><ellipse cx="444.2" cy="646.6"/><ellipse cx="444.6" cy="643.0"/><ellipse cx="444.9" cy="664.7"/><ellipse cx="445.0" cy="680.7"/><ellipse cx="445.3" cy="618.9"/><ellipse cx="445.7" cy="649.3"/><ellipse cx="446.1" cy="664.3"/><ellipse cx="446.5" cy="591.2"/><ellipse cx="446.8" cy="646.7"/><ellipse cx="447.2" cy="621.5"/><ellipse cx="447.3" cy="683.6"/><ellipse cx="447.6" cy="649.5"/><ellipse cx="447.9" cy="688.9"/><ellipse cx="448.0" cy="600.8"/><ellipse cx="448.4" cy="654.0"/><ellipse cx="448.7" cy="637.0"/><ellipse cx="449.1" cy="588.1"/><ellipse cx="449.5" cy="626.7"/><ellipse cx="449.9" cy="592.3"/><ellipse cx="450.3" cy="626.1"/><ellipse cx="450.6" cy="635.5"/><ellipse cx="451.0" cy="630.2"/><ellipse cx="451.4" cy="653.1"/><ellipse cx="451.8" cy="656.7"/><ellipse cx="452.2" cy="607.0"/><ellipse cx="452.5" cy="627.6"/><ellipse cx="452.9" cy="632.1"/><ellipse cx="453.1" cy="674.3"/><ellipse cx="453.3" cy="666.3"/><ellipse cx="453.7" cy="668.0"/><ellipse cx="454.1" cy="659.1"/><ellipse cx="454.3" cy="684.2"/><ellipse cx="454.4" cy="613.9"/><ellipse cx="454.8" cy="650.3"/><ellipse cx="455.2" cy="652.3"/><ellipse cx="455.6" cy="592.1"/><ellipse cx="455.9" cy="590.9"/><ellipse cx="456.3" cy="644.1"/><ellipse cx="456.7" cy="648.0"/><ellipse cx="457.1" cy="619.4"/><ellipse cx="457.5" cy="590.1"/><ellipse cx="457.8" cy="645.0"/><ellipse cx="458.2" cy="627.1"/><ellipse cx="458.6" cy="634.1"/><ellipse cx="459.0" cy="607.9"/><ellipse cx="459.4" cy="645.9"/><ellipse cx="459.7" cy="644.0"/><ellipse cx="460.1" cy="709.3"/><ellipse cx="460.1" cy="628.7"/><ellipse cx="460.5" cy="588.5"/><ellipse cx="460.7" cy="676.6"/><ellipse cx="460.9" cy="635.0"/><ellipse cx="461.3" cy="625.3"/><ellipse cx="461.6" cy="657.1"/><ellipse cx="462.0" cy="638.8"/><ellipse cx="462.4" cy="630.1"/><ellipse cx="462.8" cy="648.4"/><ellipse cx="463.2" cy="648.8"/><ellipse cx="463.5" cy="650.8"/><ellipse cx="463.6" cy="686.5"/><ellipse cx="463.9" cy="614.8"/><ellipse cx="464.3" cy="626.0"/><ellipse cx="464.7" cy="660.1"/><ellipse cx="465.1" cy="647.8"/><ellipse cx="465.4" cy="627.8"/><ellipse cx="465.8" cy="625.4"/><ellipse cx="466.0" cy="698.8"/><ellipse cx="466.2" cy="658.2"/><ellipse cx="466.6" cy="611.6"/><ellipse cx="467.0" cy="651.0"/><ellipse cx="467.3" cy="629.0"/><ellipse cx="467.7" cy="618.2"/><ellipse cx="468.1" cy="647.2"/><ellipse cx="468.5" cy="595.9"/><ellipse cx="468.8" cy="617.4"/><ellipse cx="468.9" cy="677.2"/><ellipse cx="468.9" cy="693.0"/><ellipse cx="469.2" cy="589.1"/><ellipse cx="469.6" cy="644.6"/><ellipse cx="470.0" cy="634.6"/><ellipse cx="470.4" cy="643.5"/><ellipse cx="470.7" cy="612.1"/><ellipse cx="471.1" cy="630.8"/><ellipse cx="471.5" cy="661.8"/><ellipse cx="471.9" cy="629.3"/><ellipse cx="472.3" cy="655.5"/><ellipse cx="472.4" cy="695.9"/><ellipse cx="472.6" cy="604.9"/><ellipse cx="473.0" cy="641.6"/><ellipse cx="473.4" cy="672.3"/><ellipse cx="473.6" cy="677.8"/><ellipse cx="473.8" cy="655.2"/><ellipse cx="474.2" cy="636.8"/><ellipse cx="474.5" cy="660.6"/><ellipse cx="474.7" cy="689.4"/><ellipse cx="474.9" cy="633.4"/><ellipse cx="475.3" cy="665.2"/><ellipse cx="475.7" cy="624.1"/><ellipse cx="476.1" cy="663.1"/><ellipse cx="476.4" cy="655.6"/><ellipse cx="476.8" cy="656.0"/><ellipse cx="477.2" cy="652.0"/><ellipse cx="477.2" cy="688.9"/><ellipse cx="477.6" cy="670.0"/><ellipse cx="477.7" cy="689.4"/><ellipse cx="478.0" cy="599.0"/><ellipse cx="478.3" cy="644.1"/><ellipse cx="478.7" cy="631.9"/><ellipse cx="479.1" cy="652.0"/><ellipse cx="479.4" cy="697.0"/><ellipse cx="479.5" cy="633.2"/><ellipse cx="479.5" cy="674.3"/><ellipse cx="479.9" cy="647.3"/><ellipse cx="480.2" cy="666.7"/><ellipse cx="480.6" cy="635.7"/><ellipse cx="480.7" cy="695.9"/><ellipse cx="481.0" cy="607.9"/><ellipse cx="481.4" cy="653.3"/><ellipse cx="481.7" cy="617.1"/><ellipse cx="481.8" cy="699.4"/><ellipse cx="482.1" cy="592.5"/><ellipse cx="482.5" cy="628.9"/><ellipse cx="482.9" cy="626.9"/><ellipse cx="483.0" cy="687.1"/><ellipse cx="483.3" cy="643.7"/><ellipse cx="483.6" cy="621.7"/><ellipse cx="484.0" cy="604.9"/><ellipse cx="484.4" cy="671.4"/><ellipse cx="484.8" cy="588.7"/><ellipse cx="484.8" cy="678.4"/><ellipse cx="485.2" cy="669.8"/><ellipse cx="485.3" cy="681.3"/><ellipse cx="485.3" cy="695.3"/><ellipse cx="485.5" cy="612.1"/><ellipse cx="485.9" cy="636.3"/><ellipse cx="486.3" cy="659.0"/><ellipse cx="486.7" cy="637.0"/><ellipse cx="487.1" cy="656.8"/><ellipse cx="487.1" cy="688.3"/><ellipse cx="487.4" cy="644.4"/><ellipse cx="487.7" cy="675.4"/><ellipse cx="487.8" cy="625.8"/><ellipse cx="488.2" cy="651.3"/><ellipse cx="488.6" cy="591.5"/><ellipse cx="489.0" cy="641.2"/><ellipse cx="489.3" cy="626.2"/><ellipse cx="489.4" cy="685.4"/><ellipse cx="489.7" cy="628.1"/><ellipse cx="490.1" cy="655.4"/><ellipse cx="490.5" cy="655.2"/><ellipse cx="490.9" cy="654.1"/><ellipse cx="491.2" cy="630.0"/><ellipse cx="491.6" cy="614.1"/><ellipse cx="491.8" cy="672.5"/><ellipse cx="492.0" cy="612.4"/><ellipse cx="492.4" cy="646.8"/><ellipse cx="492.8" cy="614.4"/><ellipse cx="493.1" cy="648.2"/><ellipse cx="493.5" cy="598.9"/><ellipse cx="493.9" cy="646.4"/><ellipse cx="494.3" cy="650.8"/><ellipse cx="494.6" cy="589.8"/><ellipse cx="494.7" cy="692.9"/><ellipse cx="495.0" cy="601.5"/><ellipse cx="495.3" cy="709.9"/><ellipse cx="495.4" cy="640.6"/><ellipse cx="495.8" cy="620.4"/><ellipse cx="496.2" cy="661.2"/><ellipse cx="496.5" cy="649.1"/><ellipse cx="496.9" cy="655.8"/><ellipse cx="497.3" cy="664.9"/><ellipse cx="497.7" cy="625.1"/><ellipse cx="498.1" cy="650.6"/><ellipse cx="498.4" cy="633.5"/><ellipse cx="498.8" cy="613.3"/><ellipse cx="499.2" cy="636.1"/><ellipse cx="499.6" cy="638.6"/><ellipse cx="499.9" cy="697.0"/><ellipse cx="500.0" cy="658.5"/><ellipse cx="500.3" cy="616.1"/><ellipse cx="500.5" cy="680.1"/><ellipse cx="500.7" cy="663.8"/><ellipse cx="501.1" cy="600.4"/><ellipse cx="501.5" cy="626.6"/><ellipse cx="501.9" cy="638.2"/><ellipse cx="502.2" cy="606.4"/><ellipse cx="502.6" cy="637.4"/><ellipse cx="503.0" cy="659.9"/><ellipse cx="503.4" cy="667.4"/><ellipse cx="503.8" cy="634.8"/><ellipse cx="504.1" cy="629.1"/><ellipse cx="504.5" cy="640.9"/><ellipse cx="504.9" cy="623.1"/><ellipse cx="505.2" cy="693.5"/><ellipse cx="505.3" cy="643.0"/><ellipse cx="505.7" cy="589.6"/><ellipse cx="505.8" cy="708.1"/><ellipse cx="506.0" cy="638.6"/><ellipse cx="506.4" cy="618.8"/><ellipse cx="506.8" cy="644.7"/><ellipse cx="507.2" cy="641.6"/><ellipse cx="507.5" cy="622.5"/><ellipse cx="507.9" cy="652.6"/><ellipse cx="508.3" cy="665.7"/><ellipse cx="508.7" cy="620.1"/><ellipse cx="509.1" cy="629.9"/><ellipse cx="509.4" cy="640.4"/><ellipse cx="509.8" cy="617.8"/><ellipse cx="509.9" cy="711.0"/><ellipse cx="510.2" cy="645.5"/><ellipse cx="510.6" cy="604.0"/><ellipse cx="511.0" cy="646.5"/><ellipse cx="511.0" cy="672.5"/><ellipse cx="511.3" cy="632.2"/><ellipse cx="511.7" cy="611.3"/><ellipse cx="512.1" cy="648.5"/><ellipse cx="512.2" cy="708.7"/><ellipse cx="512.5" cy="607.5"/><ellipse cx="512.9" cy="639.4"/><ellipse cx="513.2" cy="665.0"/><ellipse cx="513.6" cy="645.9"/><ellipse cx="514.0" cy="631.7"/><ellipse cx="514.4" cy="623.5"/><ellipse cx="514.8" cy="594.6"/><ellipse cx="515.1" cy="654.8"/><ellipse cx="515.5" cy="621.3"/><ellipse cx="515.9" cy="662.6"/><ellipse cx="516.3" cy="621.1"/><ellipse cx="516.7" cy="636.6"/><ellipse cx="517.0" cy="630.4"/><ellipse cx="517.4" cy="639.5"/><ellipse cx="517.8" cy="592.0"/><ellipse cx="518.0" cy="685.9"/><ellipse cx="518.2" cy="627.4"/><ellipse cx="518.6" cy="642.0"/><ellipse cx="518.9" cy="645.2"/><ellipse cx="519.3" cy="668.6"/><ellipse cx="519.7" cy="630.7"/><ellipse cx="520.1" cy="625.4"/><ellipse cx="520.4" cy="702.9"/><ellipse cx="520.4" cy="632.8"/><ellipse cx="520.8" cy="622.5"/><ellipse cx="521.2" cy="636.9"/><ellipse cx="521.6" cy="652.4"/><ellipse cx="522.0" cy="619.7"/><ellipse cx="522.3" cy="645.6"/><ellipse cx="522.7" cy="609.4"/><ellipse cx="523.1" cy="643.4"/><ellipse cx="523.3" cy="705.2"/><ellipse cx="523.5" cy="648.8"/><ellipse cx="523.9" cy="633.7"/><ellipse cx="524.2" cy="588.3"/><ellipse cx="524.6" cy="596.7"/><ellipse cx="525.0" cy="623.8"/><ellipse cx="525.1" cy="683.6"/><ellipse cx="525.1" cy="671.3"/><ellipse cx="525.4" cy="643.3"/><ellipse cx="525.8" cy="634.3"/><ellipse cx="526.1" cy="661.8"/><ellipse cx="526.5" cy="635.1"/><ellipse cx="526.9" cy="624.3"/><ellipse cx="527.3" cy="660.7"/><ellipse cx="527.4" cy="691.2"/><ellipse cx="527.7" cy="654.3"/><ellipse cx="528.0" cy="632.6"/><ellipse cx="528.4" cy="619.2"/><ellipse cx="528.8" cy="628.7"/><ellipse cx="529.1" cy="695.3"/><ellipse cx="529.2" cy="638.0"/><ellipse cx="529.6" cy="668.7"/><ellipse cx="529.9" cy="657.1"/><ellipse cx="530.3" cy="615.3"/><ellipse cx="530.7" cy="627.5"/><ellipse cx="531.1" cy="671.3"/><ellipse cx="531.5" cy="624.6"/><ellipse cx="531.8" cy="658.0"/><ellipse cx="532.2" cy="652.9"/><ellipse cx="532.6" cy="628.2"/><ellipse cx="533.0" cy="645.0"/><ellipse cx="533.2" cy="670.8"/><ellipse cx="533.3" cy="650.4"/><ellipse cx="533.7" cy="640.1"/><ellipse cx="534.1" cy="641.8"/><ellipse cx="534.5" cy="609.7"/><ellipse cx="534.9" cy="640.0"/><ellipse cx="535.0" cy="692.1"/><ellipse cx="535.2" cy="657.6"/><ellipse cx="535.6" cy="647.9"/><ellipse cx="536.0" cy="616.3"/><ellipse cx="536.4" cy="634.7"/><ellipse cx="536.8" cy="590.6"/><ellipse cx="537.1" cy="656.0"/><ellipse cx="537.5" cy="651.6"/><ellipse cx="537.9" cy="662.0"/><ellipse cx="538.3" cy="650.0"/><ellipse cx="538.7" cy="663.2"/><ellipse cx="539.0" cy="649.4"/><ellipse cx="539.4" cy="660.0"/><ellipse cx="539.6" cy="708.7"/><ellipse cx="539.8" cy="642.7"/><ellipse cx="540.2" cy="639.0"/><ellipse cx="540.2" cy="699.4"/><ellipse cx="540.6" cy="653.6"/><ellipse cx="540.9" cy="659.0"/><ellipse cx="541.3" cy="647.5"/><ellipse cx="541.7" cy="618.2"/><ellipse cx="542.1" cy="649.5"/><ellipse cx="542.5" cy="642.3"/><ellipse cx="542.8" cy="629.7"/><ellipse cx="543.2" cy="701.7"/><ellipse cx="543.2" cy="631.3"/><ellipse cx="543.6" cy="635.4"/><ellipse cx="544.0" cy="634.0"/><ellipse cx="544.4" cy="631.2"/><ellipse cx="544.7" cy="637.6"/>
</g>
<g class="m1">
<ellipse cx="545.1" cy="646.3"/><ellipse cx="545.4" cy="677.9"/><ellipse cx="545.7" cy="686.4"/><ellipse cx="546.0" cy="609.6"/><ellipse cx="546.3" cy="593.8"/><ellipse cx="546.6" cy="653.0"/><ellipse cx="547.0" cy="609.2"/><ellipse cx="547.3" cy="692.3"/><ellipse cx="547.6" cy="603.6"/><ellipse cx="547.9" cy="648.6"/><ellipse cx="548.2" cy="601.3"/><ellipse cx="548.6" cy="595.5"/><ellipse cx="548.9" cy="616.7"/><ellipse cx="549.2" cy="638.2"/><ellipse cx="549.5" cy="604.4"/><ellipse cx="549.8" cy="653.3"/><ellipse cx="550.2" cy="625.3"/><ellipse cx="550.5" cy="691.6"/><ellipse cx="550.8" cy="674.4"/><ellipse cx="551.1" cy="633.5"/><ellipse cx="551.4" cy="618.1"/><ellipse cx="551.8" cy="647.5"/><ellipse cx="552.1" cy="600.0"/><ellipse cx="552.1" cy="579.5"/><ellipse cx="552.4" cy="602.5"/><ellipse cx="552.7" cy="663.6"/><ellipse cx="553.0" cy="652.4"/><ellipse cx="553.4" cy="620.2"/><ellipse cx="553.7" cy="640.4"/><ellipse cx="554.0" cy="646.8"/><ellipse cx="554.3" cy="613.6"/><ellipse cx="554.6" cy="687.0"/><ellipse cx="555.0" cy="641.4"/><ellipse cx="555.3" cy="642.0"/><ellipse cx="555.3" cy="705.6"/><ellipse cx="555.6" cy="642.3"/><ellipse cx="555.9" cy="636.4"/><ellipse cx="556.2" cy="658.5"/><ellipse cx="556.6" cy="613.0"/><ellipse cx="556.9" cy="675.8"/><ellipse cx="557.2" cy="670.2"/><ellipse cx="557.5" cy="632.0"/><ellipse cx="557.8" cy="689.3"/><ellipse cx="558.2" cy="656.2"/><ellipse cx="558.5" cy="693.3"/><ellipse cx="558.8" cy="639.6"/><ellipse cx="559.1" cy="633.0"/><ellipse cx="559.4" cy="629.5"/><ellipse cx="559.8" cy="625.2"/><ellipse cx="560.1" cy="643.5"/><ellipse cx="560.4" cy="587.9"/><ellipse cx="560.7" cy="649.6"/><ellipse cx="561.0" cy="688.1"/><ellipse cx="561.4" cy="665.9"/><ellipse cx="561.7" cy="605.8"/><ellipse cx="562.0" cy="674.8"/><ellipse cx="562.3" cy="600.6"/><ellipse cx="562.6" cy="703.7"/><ellipse cx="562.6" cy="661.0"/><ellipse cx="563.0" cy="651.2"/><ellipse cx="563.3" cy="657.3"/><ellipse cx="563.6" cy="680.7"/><ellipse cx="563.9" cy="684.9"/><ellipse cx="564.2" cy="635.3"/><ellipse cx="564.6" cy="619.2"/><ellipse cx="564.9" cy="655.3"/><ellipse cx="565.2" cy="623.9"/><ellipse cx="565.5" cy="664.3"/><ellipse cx="565.8" cy="629.0"/><ellipse cx="566.2" cy="621.9"/><ellipse cx="566.5" cy="623.8"/><ellipse cx="566.8" cy="598.0"/><ellipse cx="567.1" cy="680.4"/><ellipse cx="567.4" cy="690.6"/><ellipse cx="567.8" cy="596.8"/><ellipse cx="568.1" cy="667.8"/><ellipse cx="568.4" cy="626.7"/><ellipse cx="568.7" cy="630.6"/><ellipse cx="569.0" cy="673.3"/><ellipse cx="569.4" cy="615.1"/><ellipse cx="569.7" cy="666.9"/><ellipse cx="570.0" cy="620.7"/><ellipse cx="570.3" cy="685.3"/><ellipse cx="570.6" cy="660.3"/><ellipse cx="570.9" cy="678.9"/><ellipse cx="571.3" cy="672.0"/><ellipse cx="571.6" cy="626.0"/><ellipse cx="571.9" cy="682.6"/><ellipse cx="572.2" cy="598.2"/><ellipse cx="572.5" cy="658.2"/><ellipse cx="572.9" cy="595.8"/><ellipse cx="573.2" cy="623.0"/><ellipse cx="573.5" cy="627.7"/><ellipse cx="573.8" cy="654.8"/><ellipse cx="574.1" cy="591.9"/><ellipse cx="574.5" cy="671.3"/><ellipse cx="574.8" cy="590.8"/><ellipse cx="575.1" cy="617.8"/><ellipse cx="575.4" cy="636.7"/><ellipse cx="575.7" cy="607.7"/><ellipse cx="576.0" cy="700.7"/><ellipse cx="576.1" cy="687.9"/><ellipse cx="576.4" cy="661.4"/><ellipse cx="576.7" cy="587.4"/><ellipse cx="577.0" cy="669.1"/><ellipse cx="577.3" cy="690.0"/><ellipse cx="577.7" cy="634.3"/><ellipse cx="578.0" cy="606.7"/><ellipse cx="578.3" cy="607.9"/><ellipse cx="578.6" cy="627.9"/><ellipse cx="578.9" cy="645.6"/><ellipse cx="579.3" cy="616.2"/><ellipse cx="579.6" cy="651.8"/><ellipse cx="579.9" cy="662.5"/><ellipse cx="580.2" cy="656.8"/><ellipse cx="580.5" cy="698.1"/><ellipse cx="580.9" cy="650.0"/><ellipse cx="581.2" cy="612.1"/><ellipse cx="581.5" cy="638.5"/><ellipse cx="581.8" cy="654.2"/><ellipse cx="582.1" cy="683.7"/><ellipse cx="582.5" cy="612.1"/><ellipse cx="582.8" cy="599.4"/><ellipse cx="583.1" cy="622.3"/><ellipse cx="583.4" cy="634.5"/><ellipse cx="583.7" cy="614.2"/><ellipse cx="584.1" cy="589.2"/><ellipse cx="584.4" cy="643.9"/><ellipse cx="584.7" cy="662.8"/><ellipse cx="585.0" cy="631.8"/><ellipse cx="585.3" cy="589.9"/><ellipse cx="585.7" cy="683.0"/><ellipse cx="586.0" cy="677.3"/><ellipse cx="586.3" cy="681.3"/><ellipse cx="586.6" cy="637.1"/><ellipse cx="586.9" cy="673.0"/><ellipse cx="587.3" cy="644.6"/><ellipse cx="587.6" cy="665.9"/><ellipse cx="587.7" cy="715.8"/><ellipse cx="587.9" cy="593.2"/><ellipse cx="588.2" cy="586.8"/><ellipse cx="588.2" cy="670.2"/><ellipse cx="588.5" cy="630.0"/><ellipse cx="588.9" cy="676.5"/><ellipse cx="589.2" cy="659.1"/><ellipse cx="589.5" cy="645.0"/><ellipse cx="589.8" cy="679.2"/><ellipse cx="590.1" cy="668.5"/><ellipse cx="590.5" cy="619.0"/><ellipse cx="590.8" cy="594.2"/><ellipse cx="591.1" cy="605.2"/><ellipse cx="591.4" cy="665.2"/><ellipse cx="591.7" cy="610.1"/><ellipse cx="592.1" cy="611.2"/><ellipse cx="592.4" cy="591.4"/><ellipse cx="592.7" cy="640.1"/><ellipse cx="593.0" cy="648.9"/><ellipse cx="593.3" cy="603.1"/>
</g>
<g class="m2">
<ellipse cx="593.7" cy="646.9"/><ellipse cx="594.0" cy="660.2"/><ellipse cx="594.3" cy="592.8"/><ellipse cx="594.6" cy="599.1"/><ellipse cx="594.9" cy="667.9"/><ellipse cx="595.2" cy="644.3"/><ellipse cx="595.6" cy="622.2"/><ellipse cx="595.9" cy="625.0"/><ellipse cx="596.2" cy="604.1"/><ellipse cx="596.5" cy="591.7"/><ellipse cx="596.7" cy="725.6"/><ellipse cx="596.8" cy="614.6"/><ellipse cx="597.2" cy="614.0"/><ellipse cx="597.5" cy="650.7"/><ellipse cx="597.8" cy="602.2"/><ellipse cx="597.9" cy="687.8"/><ellipse cx="597.9" cy="698.8"/><ellipse cx="598.1" cy="635.4"/><ellipse cx="598.4" cy="624.2"/><ellipse cx="598.8" cy="644.7"/><ellipse cx="599.1" cy="608.8"/><ellipse cx="599.4" cy="666.7"/><ellipse cx="599.7" cy="630.2"/><ellipse cx="600.0" cy="658.0"/><ellipse cx="600.4" cy="611.4"/><ellipse cx="600.4" cy="678.1"/><ellipse cx="600.7" cy="656.2"/><ellipse cx="601.0" cy="644.0"/><ellipse cx="601.3" cy="634.1"/><ellipse cx="601.6" cy="649.0"/><ellipse cx="602.0" cy="601.7"/><ellipse cx="602.3" cy="635.9"/><ellipse cx="602.6" cy="661.9"/><ellipse cx="602.9" cy="637.3"/><ellipse cx="603.2" cy="662.6"/><ellipse cx="603.6" cy="664.4"/><ellipse cx="603.9" cy="621.3"/><ellipse cx="604.2" cy="610.6"/><ellipse cx="604.5" cy="602.4"/><ellipse cx="604.8" cy="629.8"/><ellipse cx="605.2" cy="668.5"/><ellipse cx="605.5" cy="597.0"/><ellipse cx="605.8" cy="645.7"/><ellipse cx="606.1" cy="593.4"/><ellipse cx="606.4" cy="687.8"/><ellipse cx="606.4" cy="662.8"/><ellipse cx="606.8" cy="667.5"/><ellipse cx="607.1" cy="665.2"/><ellipse cx="607.4" cy="626.6"/><ellipse cx="607.7" cy="651.4"/><ellipse cx="608.0" cy="640.6"/><ellipse cx="608.4" cy="659.0"/><ellipse cx="608.7" cy="621.6"/><ellipse cx="609.0" cy="633.8"/><ellipse cx="609.3" cy="616.7"/><ellipse cx="609.6" cy="630.8"/><ellipse cx="610.0" cy="653.0"/><ellipse cx="610.3" cy="650.1"/><ellipse cx="610.6" cy="663.8"/><ellipse cx="610.6" cy="593.6"/><ellipse cx="610.9" cy="617.6"/><ellipse cx="611.2" cy="655.1"/><ellipse cx="611.6" cy="625.2"/><ellipse cx="611.9" cy="641.9"/><ellipse cx="612.2" cy="594.2"/><ellipse cx="612.5" cy="665.8"/><ellipse cx="612.8" cy="605.2"/><ellipse cx="613.2" cy="661.4"/><ellipse cx="613.5" cy="608.5"/><ellipse cx="613.7" cy="689.0"/><ellipse cx="613.8" cy="669.3"/><ellipse cx="614.1" cy="619.9"/><ellipse cx="614.4" cy="646.5"/><ellipse cx="614.8" cy="639.5"/><ellipse cx="615.1" cy="655.7"/><ellipse cx="615.4" cy="634.6"/><ellipse cx="615.7" cy="651.7"/><ellipse cx="616.0" cy="597.9"/><ellipse cx="616.4" cy="612.1"/><ellipse cx="616.7" cy="598.1"/><ellipse cx="617.0" cy="638.2"/><ellipse cx="617.3" cy="669.6"/><ellipse cx="617.6" cy="636.7"/><ellipse cx="618.0" cy="623.8"/><ellipse cx="618.3" cy="615.3"/><ellipse cx="618.6" cy="642.9"/><ellipse cx="618.6" cy="591.7"/><ellipse cx="618.6" cy="701.2"/><ellipse cx="618.9" cy="628.4"/><ellipse cx="619.2" cy="606.9"/><ellipse cx="619.5" cy="618.9"/><ellipse cx="619.9" cy="654.1"/><ellipse cx="620.2" cy="618.4"/><ellipse cx="620.5" cy="626.9"/><ellipse cx="620.8" cy="641.1"/><ellipse cx="621.1" cy="629.3"/><ellipse cx="621.5" cy="643.5"/><ellipse cx="621.8" cy="594.5"/><ellipse cx="622.1" cy="607.8"/><ellipse cx="622.4" cy="649.4"/><ellipse cx="622.7" cy="605.3"/><ellipse cx="623.1" cy="652.5"/><ellipse cx="623.4" cy="613.6"/><ellipse cx="623.5" cy="585.1"/><ellipse cx="623.7" cy="611.6"/><ellipse cx="624.0" cy="638.6"/><ellipse cx="624.3" cy="636.0"/><ellipse cx="624.7" cy="647.4"/><ellipse cx="625.0" cy="647.8"/><ellipse cx="625.3" cy="614.8"/><ellipse cx="625.6" cy="599.9"/><ellipse cx="625.9" cy="653.2"/><ellipse cx="626.3" cy="592.2"/><ellipse cx="626.6" cy="629.0"/><ellipse cx="626.9" cy="639.9"/><ellipse cx="627.1" cy="679.3"/><ellipse cx="627.2" cy="628.0"/><ellipse cx="627.5" cy="670.1"/><ellipse cx="627.9" cy="631.2"/><ellipse cx="628.2" cy="620.7"/><ellipse cx="628.5" cy="658.4"/><ellipse cx="628.8" cy="595.9"/><ellipse cx="629.1" cy="672.4"/><ellipse cx="629.5" cy="596.7"/><ellipse cx="629.6" cy="701.7"/><ellipse cx="629.8" cy="656.6"/><ellipse cx="630.1" cy="620.3"/><ellipse cx="630.4" cy="600.1"/><ellipse cx="630.7" cy="648.4"/><ellipse cx="631.1" cy="670.9"/><ellipse cx="631.4" cy="654.6"/><ellipse cx="631.7" cy="612.7"/><ellipse cx="632.0" cy="625.7"/><ellipse cx="632.3" cy="616.3"/><ellipse cx="632.7" cy="623.2"/><ellipse cx="633.0" cy="672.8"/><ellipse cx="633.3" cy="627.3"/><ellipse cx="633.6" cy="610.2"/><ellipse cx="633.9" cy="632.5"/><ellipse cx="634.3" cy="605.9"/><ellipse cx="634.4" cy="692.7"/><ellipse cx="634.6" cy="659.8"/><ellipse cx="634.9" cy="657.1"/><ellipse cx="635.2" cy="633.2"/><ellipse cx="635.5" cy="603.4"/><ellipse cx="635.9" cy="632.9"/><ellipse cx="636.2" cy="664.9"/><ellipse cx="636.5" cy="671.3"/><ellipse cx="636.8" cy="660.9"/><ellipse cx="637.1" cy="637.7"/><ellipse cx="637.5" cy="590.2"/><ellipse cx="637.6" cy="585.1"/><ellipse cx="637.8" cy="622.6"/><ellipse cx="638.1" cy="604.5"/><ellipse cx="638.4" cy="619.0"/><ellipse cx="638.7" cy="642.3"/><ellipse cx="639.1" cy="645.6"/><ellipse cx="639.3" cy="676.9"/><ellipse cx="639.3" cy="696.4"/><ellipse cx="639.3" cy="699.3"/><ellipse cx="639.4" cy="590.5"/><ellipse cx="639.7" cy="601.0"/><ellipse cx="640.0" cy="640.4"/><ellipse cx="640.3" cy="609.5"/><ellipse cx="640.7" cy="617.1"/><ellipse cx="641.0" cy="607.2"/><ellipse cx="641.3" cy="632.0"/><ellipse cx="641.6" cy="595.5"/>
</g>
<text class="xl" x="174.8" y="665.2">0</text>
<text class="xl" x="238.7" y="665.2">200</text>
<text class="xl" x="302.7" y="665.2">400</text>
<text class="xl" x="366.6" y="665.2">600</text>
<text class="xl" x="430.6" y="665.2">800</text>
<text class="xl" x="494.5" y="665.2">1000</text>
<text class="xl" x="558.5" y="665.2">1200</text>
<text class="xl" x="622.4" y="665.2">1400</text>
<text class="yl" transform="translate(162.6,567.2) scale(1.11,1)">0.030</text>
<text class="yl" transform="translate(162.6,594.9) scale(1.11,1)">0.020</text>
<text class="yl" transform="translate(162.6,622.7) scale(1.11,1)">0.010</text>
<text class="yl" transform="translate(162.6,650.4) scale(1.11,1)">0.000</text>
<text class="yl" transform="translate(162.6,678.2) scale(1.11,1)">-0.010</text>
<text class="yl" transform="translate(162.6,705.9) scale(1.11,1)">-0.020</text>
<text class="yl" transform="translate(162.6,733.7) scale(1.11,1)">-0.030</text>
<text class="yl" transform="translate(162.6,761.4) scale(1.11,1)">-0.040</text>
<text class="t" transform="translate(121.4,660.6) rotate(-90)" text-anchor="middle" textLength="70.7" lengthAdjust="spacingAndGlyphs" style="font-size:11.8px">Relative error</text>
<text class="t" x="414.4" y="773.3" text-anchor="middle" textLength="63" lengthAdjust="spacingAndGlyphs" style="font-size:12.5px">Data Index</text>
<rect x="278.4" y="791.0" width="215.9" height="21.8" fill="#fff" stroke="#000" stroke-width="2.5"/>
<g class="m0"><ellipse cx="295.4" cy="801.9"/></g>
<text class="t" x="302.4" y="805.7" textLength="43" lengthAdjust="spacingAndGlyphs" style="font-size:11.8px">Training</text>
<g class="m1"><ellipse cx="362.4" cy="801.9"/></g>
<text class="t" x="369.4" y="805.7" textLength="53" lengthAdjust="spacingAndGlyphs" style="font-size:11.8px">Validation</text>
<g class="m2"><ellipse cx="439.7" cy="801.9"/></g>
<text class="t" x="446.7" y="805.7" textLength="38" lengthAdjust="spacingAndGlyphs" style="font-size:11.8px">Testing</text>
<rect x="90.5" y="549.4" width="592.3" height="269.6" fill="none" stroke="#000" stroke-width="2.5"/>
</svg></body></html>
